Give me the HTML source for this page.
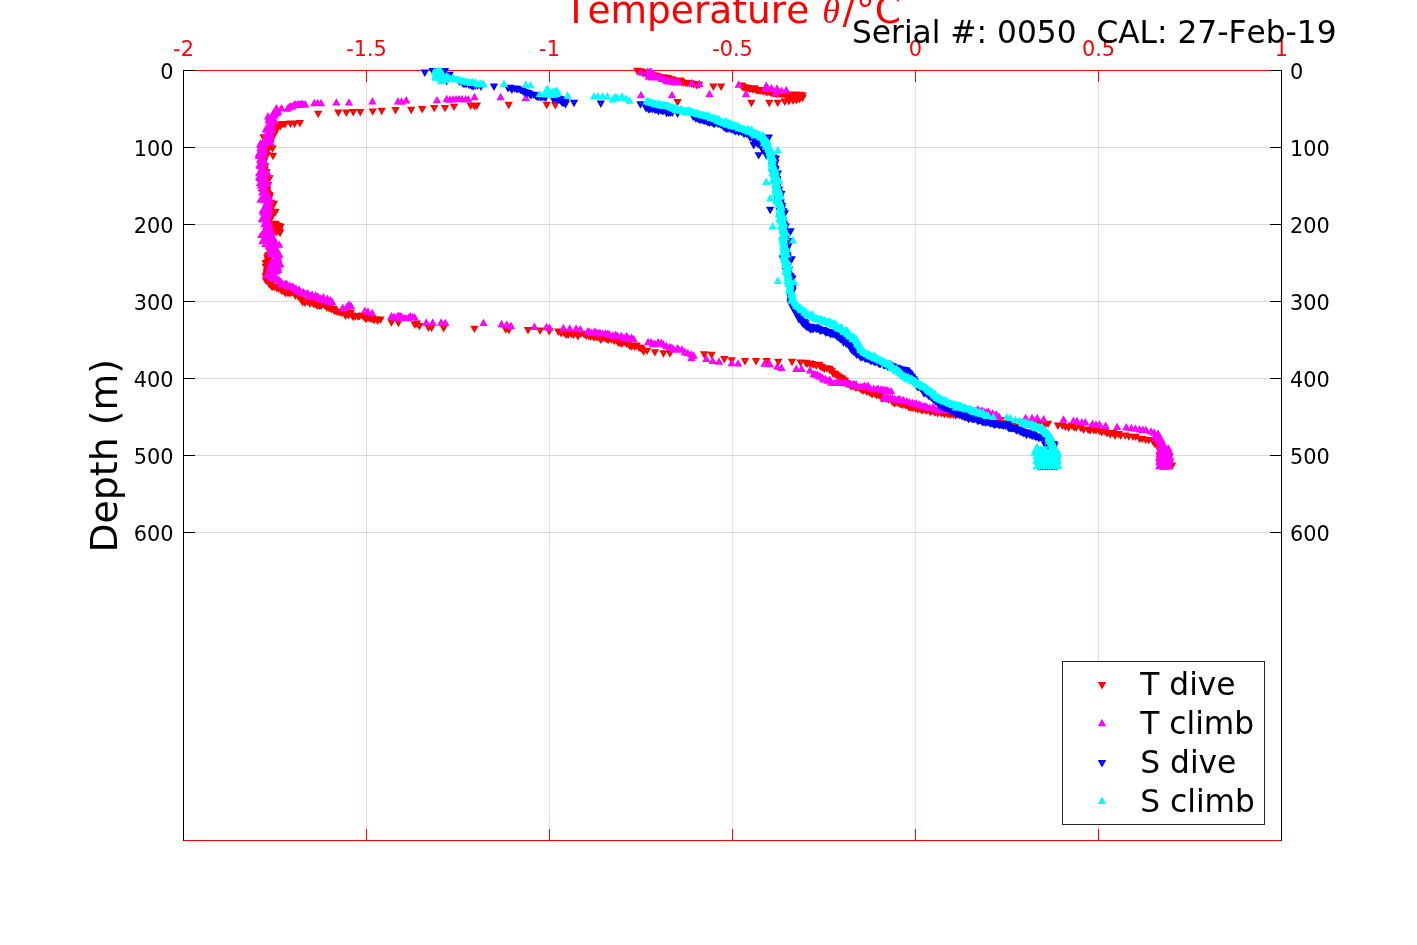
<!DOCTYPE html>
<html lang="en"><head><meta charset="utf-8"><title>Temperature profile</title>
<style>html,body{margin:0;padding:0;background:#fff}body{width:1417px;height:945px;overflow:hidden}svg{display:block}text{font-family:"DejaVu Sans","Liberation Sans",sans-serif;font-kerning:none;font-variant-ligatures:none}.m{stroke:none;fill-rule:nonzero}</style></head><body>
<svg width="1417" height="945" viewBox="0 0 1417 945">
<rect width="1417" height="945" fill="#fff"/>
<g stroke="#ff0000" stroke-opacity="0.15" stroke-width="1" shape-rendering="crispEdges">
<line x1="366.5" y1="70.5" x2="366.5" y2="840.5"/>
<line x1="549.5" y1="70.5" x2="549.5" y2="840.5"/>
<line x1="732.5" y1="70.5" x2="732.5" y2="840.5"/>
<line x1="915.5" y1="70.5" x2="915.5" y2="840.5"/>
<line x1="1098.5" y1="70.5" x2="1098.5" y2="840.5"/>
</g><g stroke="#000" stroke-opacity="0.15" stroke-width="1" shape-rendering="crispEdges">
<line x1="183.5" y1="147.5" x2="1281.5" y2="147.5"/>
<line x1="183.5" y1="224.5" x2="1281.5" y2="224.5"/>
<line x1="183.5" y1="301.5" x2="1281.5" y2="301.5"/>
<line x1="183.5" y1="378.5" x2="1281.5" y2="378.5"/>
<line x1="183.5" y1="455.5" x2="1281.5" y2="455.5"/>
<line x1="183.5" y1="532.5" x2="1281.5" y2="532.5"/>
</g>
<g stroke="#ff0000" stroke-width="1" shape-rendering="crispEdges">
<line x1="183" y1="70.5" x2="1282" y2="70.5"/><line x1="183" y1="840.5" x2="1282" y2="840.5"/>
<line x1="366.5" y1="70.5" x2="366.5" y2="82" />
<line x1="366.5" y1="840.5" x2="366.5" y2="829"/>
<line x1="549.5" y1="70.5" x2="549.5" y2="82" />
<line x1="549.5" y1="840.5" x2="549.5" y2="829"/>
<line x1="732.5" y1="70.5" x2="732.5" y2="82" />
<line x1="732.5" y1="840.5" x2="732.5" y2="829"/>
<line x1="915.5" y1="70.5" x2="915.5" y2="82" />
<line x1="915.5" y1="840.5" x2="915.5" y2="829"/>
<line x1="1098.5" y1="70.5" x2="1098.5" y2="82" />
<line x1="1098.5" y1="840.5" x2="1098.5" y2="829"/>
</g>
<g stroke="#000" stroke-width="1" shape-rendering="crispEdges">
<line x1="183.5" y1="70" x2="183.5" y2="841"/><line x1="1281.5" y1="70" x2="1281.5" y2="841"/>
<line x1="183.5" y1="70.5" x2="195" y2="70.5"/>
<line x1="1281.5" y1="70.5" x2="1270" y2="70.5"/>
<line x1="183.5" y1="147.5" x2="195" y2="147.5"/>
<line x1="1281.5" y1="147.5" x2="1270" y2="147.5"/>
<line x1="183.5" y1="224.5" x2="195" y2="224.5"/>
<line x1="1281.5" y1="224.5" x2="1270" y2="224.5"/>
<line x1="183.5" y1="301.5" x2="195" y2="301.5"/>
<line x1="1281.5" y1="301.5" x2="1270" y2="301.5"/>
<line x1="183.5" y1="378.5" x2="195" y2="378.5"/>
<line x1="1281.5" y1="378.5" x2="1270" y2="378.5"/>
<line x1="183.5" y1="455.5" x2="195" y2="455.5"/>
<line x1="1281.5" y1="455.5" x2="1270" y2="455.5"/>
<line x1="183.5" y1="532.5" x2="195" y2="532.5"/>
<line x1="1281.5" y1="532.5" x2="1270" y2="532.5"/>
</g>
<g font-size="20.83" fill="#ff0000" text-anchor="middle">
<text x="183.5" y="56.3">-2</text>
<text x="366.5" y="56.3">-1.5</text>
<text x="549.5" y="56.3">-1</text>
<text x="732.5" y="56.3">-0.5</text>
<text x="915.5" y="56.3">0</text>
<text x="1098.5" y="56.3">0.5</text>
<text x="1281.5" y="56.3">1</text>
</g>
<g font-size="20.83" fill="#000" text-anchor="end">
<text x="173.5" y="78.6">0</text>
<text x="173.5" y="155.6">100</text>
<text x="173.5" y="232.6">200</text>
<text x="173.5" y="309.6">300</text>
<text x="173.5" y="386.6">400</text>
<text x="173.5" y="463.6">500</text>
<text x="173.5" y="540.6">600</text>
</g>
<g font-size="20.83" fill="#000" text-anchor="start">
<text x="1290" y="78.6">0</text>
<text x="1290" y="155.6">100</text>
<text x="1290" y="232.6">200</text>
<text x="1290" y="309.6">300</text>
<text x="1290" y="386.6">400</text>
<text x="1290" y="463.6">500</text>
<text x="1290" y="540.6">600</text>
</g>
<text x="564.5" y="23" font-size="37.5" fill="#ff0000">Temperature <tspan font-family="'Liberation Serif','DejaVu Serif',serif" font-style="italic" font-size="36" dx="1.2">θ</tspan><tspan dx="2.4">/</tspan><tspan dx="0.9">°C</tspan></text>
<text transform="translate(117 552.5) rotate(-90)" font-size="37.8" fill="#000">Depth (m)</text>
<path class="m" fill="#ff0000" d="M637.3 75.2l4.15 -7.4h-8.3zM637.1 70.0h0.6v0.6h-0.6zM639.2 76.1l4.15 -7.4h-8.3zM638.9 70.8h0.6v0.6h-0.6zM640.5 75.7l4.15 -7.4h-8.3zM640.2 70.4h0.6v0.6h-0.6zM641.6 76.3l4.15 -7.4h-8.3zM641.3 71.1h0.6v0.6h-0.6zM643.1 77.4l4.15 -7.4h-8.3zM642.9 72.1h0.6v0.6h-0.6zM644.4 77.3l4.15 -7.4h-8.3zM644.1 72.1h0.6v0.6h-0.6zM645.8 76.6l4.15 -7.4h-8.3zM645.5 71.4h0.6v0.6h-0.6zM646.7 78.2l4.15 -7.4h-8.3zM646.4 73.0h0.6v0.6h-0.6zM648.4 77.3l4.15 -7.4h-8.3zM648.1 72.1h0.6v0.6h-0.6zM650.2 77.8l4.15 -7.4h-8.3zM650.0 72.6h0.6v0.6h-0.6zM651.6 79.2l4.15 -7.4h-8.3zM651.3 74.0h0.6v0.6h-0.6zM653.9 79.6l4.15 -7.4h-8.3zM653.6 74.4h0.6v0.6h-0.6zM655.3 80.1l4.15 -7.4h-8.3zM655.0 74.9h0.6v0.6h-0.6zM656.7 80.6l4.15 -7.4h-8.3zM656.5 75.3h0.6v0.6h-0.6zM658.9 81.2l4.15 -7.4h-8.3zM658.6 76.0h0.6v0.6h-0.6zM660.8 82.0l4.15 -7.4h-8.3zM660.5 76.8h0.6v0.6h-0.6zM662.5 81.6l4.15 -7.4h-8.3zM662.2 76.4h0.6v0.6h-0.6zM663.6 82.0l4.15 -7.4h-8.3zM663.4 76.8h0.6v0.6h-0.6zM665.0 82.1l4.15 -7.4h-8.3zM664.7 76.9h0.6v0.6h-0.6zM666.6 82.2l4.15 -7.4h-8.3zM666.3 77.0h0.6v0.6h-0.6zM668.4 82.7l4.15 -7.4h-8.3zM668.1 77.5h0.6v0.6h-0.6zM670.5 83.7l4.15 -7.4h-8.3zM670.2 78.5h0.6v0.6h-0.6zM672.5 84.0l4.15 -7.4h-8.3zM672.3 78.8h0.6v0.6h-0.6zM674.2 85.1l4.15 -7.4h-8.3zM673.9 79.9h0.6v0.6h-0.6zM676.6 84.9l4.15 -7.4h-8.3zM676.4 79.7h0.6v0.6h-0.6zM679.1 85.1l4.15 -7.4h-8.3zM678.9 79.9h0.6v0.6h-0.6zM680.4 85.0l4.15 -7.4h-8.3zM680.2 79.8h0.6v0.6h-0.6zM681.4 86.5l4.15 -7.4h-8.3zM681.2 81.2h0.6v0.6h-0.6zM683.1 87.1l4.15 -7.4h-8.3zM682.8 81.9h0.6v0.6h-0.6zM685.4 87.1l4.15 -7.4h-8.3zM685.1 81.9h0.6v0.6h-0.6zM687.2 87.6l4.15 -7.4h-8.3zM686.9 82.4h0.6v0.6h-0.6zM689.4 87.5l4.15 -7.4h-8.3zM689.1 82.3h0.6v0.6h-0.6zM691.3 87.8l4.15 -7.4h-8.3zM691.0 82.6h0.6v0.6h-0.6zM693.5 88.5l4.15 -7.4h-8.3zM693.2 83.3h0.6v0.6h-0.6zM695.9 88.6l4.15 -7.4h-8.3zM695.7 83.4h0.6v0.6h-0.6zM696.9 89.7l4.15 -7.4h-8.3zM696.6 84.4h0.6v0.6h-0.6zM699.2 89.1l4.15 -7.4h-8.3zM698.9 83.9h0.6v0.6h-0.6zM713.4 90.9l4.15 -7.4h-8.3zM713.1 85.7h0.6v0.6h-0.6zM721.1 90.9l4.15 -7.4h-8.3zM720.8 85.7h0.6v0.6h-0.6zM677.6 106.4l4.15 -7.4h-8.3zM677.3 101.2h0.6v0.6h-0.6zM741.5 90.0l4.15 -7.4h-8.3zM741.2 84.8h0.6v0.6h-0.6zM742.4 90.7l4.15 -7.4h-8.3zM742.2 85.5h0.6v0.6h-0.6zM743.1 91.6l4.15 -7.4h-8.3zM742.8 86.4h0.6v0.6h-0.6zM744.4 91.6l4.15 -7.4h-8.3zM744.1 86.4h0.6v0.6h-0.6zM745.2 91.8l4.15 -7.4h-8.3zM744.9 86.6h0.6v0.6h-0.6zM746.7 92.1l4.15 -7.4h-8.3zM746.4 86.9h0.6v0.6h-0.6zM747.9 92.4l4.15 -7.4h-8.3zM747.6 87.2h0.6v0.6h-0.6zM749.5 92.9l4.15 -7.4h-8.3zM749.2 87.6h0.6v0.6h-0.6zM750.9 93.0l4.15 -7.4h-8.3zM750.6 87.8h0.6v0.6h-0.6zM752.5 93.4l4.15 -7.4h-8.3zM752.2 88.2h0.6v0.6h-0.6zM753.7 92.7l4.15 -7.4h-8.3zM753.5 87.5h0.6v0.6h-0.6zM754.9 93.2l4.15 -7.4h-8.3zM754.6 88.0h0.6v0.6h-0.6zM756.4 94.5l4.15 -7.4h-8.3zM756.1 89.3h0.6v0.6h-0.6zM757.4 94.3l4.15 -7.4h-8.3zM757.1 89.1h0.6v0.6h-0.6zM758.4 94.6l4.15 -7.4h-8.3zM758.1 89.4h0.6v0.6h-0.6zM759.7 94.4l4.15 -7.4h-8.3zM759.5 89.2h0.6v0.6h-0.6zM760.5 94.7l4.15 -7.4h-8.3zM760.2 89.5h0.6v0.6h-0.6zM761.7 94.8l4.15 -7.4h-8.3zM761.4 89.6h0.6v0.6h-0.6zM763.3 95.8l4.15 -7.4h-8.3zM763.0 90.6h0.6v0.6h-0.6zM764.9 95.3l4.15 -7.4h-8.3zM764.7 90.1h0.6v0.6h-0.6zM766.3 95.9l4.15 -7.4h-8.3zM766.1 90.7h0.6v0.6h-0.6zM767.1 96.6l4.15 -7.4h-8.3zM766.8 91.4h0.6v0.6h-0.6zM768.9 96.1l4.15 -7.4h-8.3zM768.6 90.9h0.6v0.6h-0.6zM770.4 96.4l4.15 -7.4h-8.3zM770.2 91.2h0.6v0.6h-0.6zM771.2 97.1l4.15 -7.4h-8.3zM771.0 91.9h0.6v0.6h-0.6zM772.7 97.2l4.15 -7.4h-8.3zM772.4 92.0h0.6v0.6h-0.6zM773.7 97.3l4.15 -7.4h-8.3zM773.4 92.1h0.6v0.6h-0.6zM774.6 97.4l4.15 -7.4h-8.3zM774.3 92.2h0.6v0.6h-0.6zM775.4 97.6l4.15 -7.4h-8.3zM775.1 92.4h0.6v0.6h-0.6zM776.3 97.9l4.15 -7.4h-8.3zM776.0 92.7h0.6v0.6h-0.6zM777.1 97.9l4.15 -7.4h-8.3zM776.8 92.7h0.6v0.6h-0.6zM778.8 97.8l4.15 -7.4h-8.3zM778.5 92.6h0.6v0.6h-0.6zM779.8 97.9l4.15 -7.4h-8.3zM779.6 92.7h0.6v0.6h-0.6zM781.0 98.1l4.15 -7.4h-8.3zM780.7 92.9h0.6v0.6h-0.6zM782.6 98.5l4.15 -7.4h-8.3zM782.3 93.3h0.6v0.6h-0.6zM784.5 98.2l4.15 -7.4h-8.3zM784.2 93.0h0.6v0.6h-0.6zM785.3 98.7l4.15 -7.4h-8.3zM785.0 93.5h0.6v0.6h-0.6zM786.2 98.5l4.15 -7.4h-8.3zM785.9 93.3h0.6v0.6h-0.6zM787.8 99.0l4.15 -7.4h-8.3zM787.5 93.8h0.6v0.6h-0.6zM788.7 99.7l4.15 -7.4h-8.3zM788.4 94.5h0.6v0.6h-0.6zM790.1 99.0l4.15 -7.4h-8.3zM789.8 93.8h0.6v0.6h-0.6zM791.0 98.9l4.15 -7.4h-8.3zM790.7 93.7h0.6v0.6h-0.6zM792.3 99.0l4.15 -7.4h-8.3zM792.1 93.8h0.6v0.6h-0.6zM794.1 99.5l4.15 -7.4h-8.3zM793.8 94.3h0.6v0.6h-0.6zM795.2 98.8l4.15 -7.4h-8.3zM794.9 93.6h0.6v0.6h-0.6zM796.3 99.5l4.15 -7.4h-8.3zM796.1 94.3h0.6v0.6h-0.6zM797.7 99.8l4.15 -7.4h-8.3zM797.4 94.6h0.6v0.6h-0.6zM799.3 99.2l4.15 -7.4h-8.3zM799.0 94.0h0.6v0.6h-0.6zM800.9 99.6l4.15 -7.4h-8.3zM800.6 94.3h0.6v0.6h-0.6zM802.7 99.8l4.15 -7.4h-8.3zM802.4 94.6h0.6v0.6h-0.6zM751.4 107.2l4.15 -7.4h-8.3zM751.1 102.0h0.6v0.6h-0.6zM769.3 107.2l4.15 -7.4h-8.3zM769.0 102.0h0.6v0.6h-0.6zM777.7 107.1l4.15 -7.4h-8.3zM777.4 101.9h0.6v0.6h-0.6zM784.7 106.0l4.15 -7.4h-8.3zM784.4 100.8h0.6v0.6h-0.6zM788.9 105.6l4.15 -7.4h-8.3zM788.6 100.4h0.6v0.6h-0.6zM793.2 105.0l4.15 -7.4h-8.3zM792.9 99.8h0.6v0.6h-0.6zM796.3 104.4l4.15 -7.4h-8.3zM796.0 99.2h0.6v0.6h-0.6zM799.5 103.5l4.15 -7.4h-8.3zM799.2 98.3h0.6v0.6h-0.6zM802.5 102.3l4.15 -7.4h-8.3zM802.2 97.1h0.6v0.6h-0.6zM555.3 109.5l4.15 -7.4h-8.3zM555.0 104.3h0.6v0.6h-0.6zM546.7 109.2l4.15 -7.4h-8.3zM546.4 104.0h0.6v0.6h-0.6zM508.7 109.2l4.15 -7.4h-8.3zM508.4 104.0h0.6v0.6h-0.6zM476.9 110.0l4.15 -7.4h-8.3zM476.6 104.8h0.6v0.6h-0.6zM474.5 110.6l4.15 -7.4h-8.3zM474.2 105.4h0.6v0.6h-0.6zM470.6 110.0l4.15 -7.4h-8.3zM470.3 104.8h0.6v0.6h-0.6zM454.0 111.1l4.15 -7.4h-8.3zM453.7 105.9h0.6v0.6h-0.6zM445.0 112.3l4.15 -7.4h-8.3zM444.7 107.1h0.6v0.6h-0.6zM434.2 112.3l4.15 -7.4h-8.3zM433.9 107.1h0.6v0.6h-0.6zM422.2 113.4l4.15 -7.4h-8.3zM421.9 108.2h0.6v0.6h-0.6zM411.2 114.2l4.15 -7.4h-8.3zM410.9 109.0h0.6v0.6h-0.6zM395.5 114.4l4.15 -7.4h-8.3zM395.2 109.2h0.6v0.6h-0.6zM381.7 115.2l4.15 -7.4h-8.3zM381.4 110.0h0.6v0.6h-0.6zM372.7 115.8l4.15 -7.4h-8.3zM372.4 110.6h0.6v0.6h-0.6zM360.3 116.4l4.15 -7.4h-8.3zM360.0 111.2h0.6v0.6h-0.6zM353.2 116.4l4.15 -7.4h-8.3zM352.9 111.2h0.6v0.6h-0.6zM346.4 116.9l4.15 -7.4h-8.3zM346.1 111.7h0.6v0.6h-0.6zM338.3 116.9l4.15 -7.4h-8.3zM338.0 111.7h0.6v0.6h-0.6zM318.2 118.1l4.15 -7.4h-8.3zM317.9 112.9h0.6v0.6h-0.6zM299.9 127.3l4.15 -7.4h-8.3zM299.6 122.1h0.6v0.6h-0.6zM294.6 127.9l4.15 -7.4h-8.3zM294.3 122.7h0.6v0.6h-0.6zM290.4 127.9l4.15 -7.4h-8.3zM290.1 122.7h0.6v0.6h-0.6zM285.1 128.5l4.15 -7.4h-8.3zM284.8 123.3h0.6v0.6h-0.6zM282.8 128.3l4.15 -7.4h-8.3zM282.5 123.1h0.6v0.6h-0.6zM280.8 129.0l4.15 -7.4h-8.3zM280.5 123.8h0.6v0.6h-0.6zM280.3 130.4l4.15 -7.4h-8.3zM280.0 125.2h0.6v0.6h-0.6zM277.9 131.3l4.15 -7.4h-8.3zM277.7 126.1h0.6v0.6h-0.6zM276.4 132.0l4.15 -7.4h-8.3zM276.1 126.8h0.6v0.6h-0.6zM276.2 133.1l4.15 -7.4h-8.3zM275.9 127.9h0.6v0.6h-0.6zM276.2 134.5l4.15 -7.4h-8.3zM275.9 129.3h0.6v0.6h-0.6zM274.5 135.7l4.15 -7.4h-8.3zM274.2 130.5h0.6v0.6h-0.6zM274.6 138.3l4.15 -7.4h-8.3zM274.3 133.1h0.6v0.6h-0.6zM272.5 139.7l4.15 -7.4h-8.3zM272.2 134.5h0.6v0.6h-0.6zM273.0 141.3l4.15 -7.4h-8.3zM272.7 136.1h0.6v0.6h-0.6zM272.0 142.2l4.15 -7.4h-8.3zM271.7 137.0h0.6v0.6h-0.6zM270.8 143.6l4.15 -7.4h-8.3zM270.6 138.4h0.6v0.6h-0.6zM269.9 145.5l4.15 -7.4h-8.3zM269.6 140.3h0.6v0.6h-0.6zM270.5 147.8l4.15 -7.4h-8.3zM270.2 142.6h0.6v0.6h-0.6zM267.6 148.6l4.15 -7.4h-8.3zM267.4 143.4h0.6v0.6h-0.6zM267.3 150.8l4.15 -7.4h-8.3zM267.0 145.6h0.6v0.6h-0.6zM267.2 152.9l4.15 -7.4h-8.3zM267.0 147.7h0.6v0.6h-0.6zM267.9 154.5l4.15 -7.4h-8.3zM267.6 149.3h0.6v0.6h-0.6zM266.9 156.2l4.15 -7.4h-8.3zM266.6 151.0h0.6v0.6h-0.6zM263.8 157.4l4.15 -7.4h-8.3zM263.6 152.2h0.6v0.6h-0.6zM266.9 159.4l4.15 -7.4h-8.3zM266.7 154.2h0.6v0.6h-0.6zM263.5 161.2l4.15 -7.4h-8.3zM263.2 156.0h0.6v0.6h-0.6zM264.5 162.4l4.15 -7.4h-8.3zM264.2 157.2h0.6v0.6h-0.6zM264.4 164.5l4.15 -7.4h-8.3zM264.1 159.3h0.6v0.6h-0.6zM263.6 166.5l4.15 -7.4h-8.3zM263.3 161.3h0.6v0.6h-0.6zM263.2 168.7l4.15 -7.4h-8.3zM262.9 163.5h0.6v0.6h-0.6zM265.3 170.6l4.15 -7.4h-8.3zM265.1 165.4h0.6v0.6h-0.6zM263.5 171.6l4.15 -7.4h-8.3zM263.3 166.4h0.6v0.6h-0.6zM263.1 172.6l4.15 -7.4h-8.3zM262.8 167.4h0.6v0.6h-0.6zM264.8 174.2l4.15 -7.4h-8.3zM264.5 169.0h0.6v0.6h-0.6zM266.6 176.3l4.15 -7.4h-8.3zM266.3 171.1h0.6v0.6h-0.6zM264.1 178.5l4.15 -7.4h-8.3zM263.8 173.3h0.6v0.6h-0.6zM265.0 179.7l4.15 -7.4h-8.3zM264.7 174.4h0.6v0.6h-0.6zM264.3 181.0l4.15 -7.4h-8.3zM264.0 175.8h0.6v0.6h-0.6zM265.3 182.6l4.15 -7.4h-8.3zM265.0 177.4h0.6v0.6h-0.6zM264.3 183.8l4.15 -7.4h-8.3zM264.0 178.6h0.6v0.6h-0.6zM266.2 185.7l4.15 -7.4h-8.3zM265.9 180.5h0.6v0.6h-0.6zM265.0 187.7l4.15 -7.4h-8.3zM264.7 182.5h0.6v0.6h-0.6zM268.1 189.3l4.15 -7.4h-8.3zM267.9 184.1h0.6v0.6h-0.6zM265.4 191.4l4.15 -7.4h-8.3zM265.2 186.2h0.6v0.6h-0.6zM267.0 192.8l4.15 -7.4h-8.3zM266.7 187.6h0.6v0.6h-0.6zM267.1 194.3l4.15 -7.4h-8.3zM266.8 189.1h0.6v0.6h-0.6zM265.5 195.8l4.15 -7.4h-8.3zM265.2 190.6h0.6v0.6h-0.6zM267.4 196.7l4.15 -7.4h-8.3zM267.2 191.5h0.6v0.6h-0.6zM268.0 198.2l4.15 -7.4h-8.3zM267.7 192.9h0.6v0.6h-0.6zM269.3 199.3l4.15 -7.4h-8.3zM269.0 194.1h0.6v0.6h-0.6zM269.9 200.9l4.15 -7.4h-8.3zM269.7 195.6h0.6v0.6h-0.6zM269.1 202.1l4.15 -7.4h-8.3zM268.8 196.9h0.6v0.6h-0.6zM268.8 203.9l4.15 -7.4h-8.3zM268.5 198.7h0.6v0.6h-0.6zM268.4 205.9l4.15 -7.4h-8.3zM268.1 200.7h0.6v0.6h-0.6zM271.0 207.1l4.15 -7.4h-8.3zM270.7 201.9h0.6v0.6h-0.6zM270.1 209.5l4.15 -7.4h-8.3zM269.9 204.3h0.6v0.6h-0.6zM270.4 211.0l4.15 -7.4h-8.3zM270.1 205.8h0.6v0.6h-0.6zM270.3 212.6l4.15 -7.4h-8.3zM270.0 207.4h0.6v0.6h-0.6zM270.7 214.5l4.15 -7.4h-8.3zM270.4 209.3h0.6v0.6h-0.6zM269.1 216.1l4.15 -7.4h-8.3zM268.9 210.8h0.6v0.6h-0.6zM270.1 218.2l4.15 -7.4h-8.3zM269.9 213.0h0.6v0.6h-0.6zM271.4 220.6l4.15 -7.4h-8.3zM271.1 215.4h0.6v0.6h-0.6zM271.5 221.9l4.15 -7.4h-8.3zM271.2 216.7h0.6v0.6h-0.6zM269.9 223.8l4.15 -7.4h-8.3zM269.7 218.6h0.6v0.6h-0.6zM268.2 224.7l4.15 -7.4h-8.3zM267.9 219.5h0.6v0.6h-0.6zM268.1 225.8l4.15 -7.4h-8.3zM267.8 220.6h0.6v0.6h-0.6zM267.3 227.0l4.15 -7.4h-8.3zM267.1 221.8h0.6v0.6h-0.6zM267.9 229.2l4.15 -7.4h-8.3zM267.6 224.0h0.6v0.6h-0.6zM268.1 231.3l4.15 -7.4h-8.3zM267.8 226.1h0.6v0.6h-0.6zM268.0 233.2l4.15 -7.4h-8.3zM267.8 228.0h0.6v0.6h-0.6zM267.6 234.4l4.15 -7.4h-8.3zM267.3 229.2h0.6v0.6h-0.6zM271.5 234.9l4.15 -7.4h-8.3zM271.2 229.7h0.6v0.6h-0.6zM271.1 237.2l4.15 -7.4h-8.3zM270.8 232.0h0.6v0.6h-0.6zM269.9 239.7l4.15 -7.4h-8.3zM269.6 234.5h0.6v0.6h-0.6zM270.4 241.7l4.15 -7.4h-8.3zM270.1 236.5h0.6v0.6h-0.6zM270.3 243.3l4.15 -7.4h-8.3zM270.0 238.1h0.6v0.6h-0.6zM271.1 244.6l4.15 -7.4h-8.3zM270.8 239.4h0.6v0.6h-0.6zM270.8 246.5l4.15 -7.4h-8.3zM270.5 241.3h0.6v0.6h-0.6zM272.7 247.3l4.15 -7.4h-8.3zM272.4 242.1h0.6v0.6h-0.6zM272.2 248.3l4.15 -7.4h-8.3zM271.9 243.1h0.6v0.6h-0.6zM272.8 249.9l4.15 -7.4h-8.3zM272.5 244.7h0.6v0.6h-0.6zM272.6 251.0l4.15 -7.4h-8.3zM272.3 245.8h0.6v0.6h-0.6zM270.7 252.8l4.15 -7.4h-8.3zM270.4 247.6h0.6v0.6h-0.6zM273.6 254.6l4.15 -7.4h-8.3zM273.3 249.4h0.6v0.6h-0.6zM269.1 254.9l4.15 -7.4h-8.3zM268.8 249.7h0.6v0.6h-0.6zM270.1 256.5l4.15 -7.4h-8.3zM269.8 251.3h0.6v0.6h-0.6zM272.1 258.1l4.15 -7.4h-8.3zM271.9 252.9h0.6v0.6h-0.6zM268.7 259.3l4.15 -7.4h-8.3zM268.5 254.1h0.6v0.6h-0.6zM268.1 260.5l4.15 -7.4h-8.3zM267.8 255.3h0.6v0.6h-0.6zM267.2 262.0l4.15 -7.4h-8.3zM266.9 256.8h0.6v0.6h-0.6zM268.1 264.2l4.15 -7.4h-8.3zM267.9 259.0h0.6v0.6h-0.6zM267.8 266.0l4.15 -7.4h-8.3zM267.5 260.8h0.6v0.6h-0.6zM265.7 267.3l4.15 -7.4h-8.3zM265.4 262.1h0.6v0.6h-0.6zM266.6 269.2l4.15 -7.4h-8.3zM266.3 264.0h0.6v0.6h-0.6zM265.7 271.1l4.15 -7.4h-8.3zM265.4 265.9h0.6v0.6h-0.6zM266.3 272.2l4.15 -7.4h-8.3zM266.0 267.0h0.6v0.6h-0.6zM267.9 274.5l4.15 -7.4h-8.3zM267.6 269.2h0.6v0.6h-0.6zM266.6 276.0l4.15 -7.4h-8.3zM266.4 270.8h0.6v0.6h-0.6zM266.8 278.2l4.15 -7.4h-8.3zM266.5 273.0h0.6v0.6h-0.6zM266.1 279.8l4.15 -7.4h-8.3zM265.8 274.5h0.6v0.6h-0.6zM266.1 281.0l4.15 -7.4h-8.3zM265.8 275.8h0.6v0.6h-0.6zM266.1 282.0l4.15 -7.4h-8.3zM265.8 276.8h0.6v0.6h-0.6zM266.7 283.3l4.15 -7.4h-8.3zM266.4 278.1h0.6v0.6h-0.6zM263.5 141.7l4.15 -7.4h-8.3zM263.2 136.5h0.6v0.6h-0.6zM272.5 152.7l4.15 -7.4h-8.3zM272.2 147.5h0.6v0.6h-0.6zM273.0 160.2l4.15 -7.4h-8.3zM272.7 155.0h0.6v0.6h-0.6zM269.5 182.7l4.15 -7.4h-8.3zM269.2 177.5h0.6v0.6h-0.6zM274.0 208.2l4.15 -7.4h-8.3zM273.7 203.0h0.6v0.6h-0.6zM275.5 216.2l4.15 -7.4h-8.3zM275.2 211.0h0.6v0.6h-0.6zM274.8 232.7l4.15 -7.4h-8.3zM274.5 227.5h0.6v0.6h-0.6zM273.9 231.3l4.15 -7.4h-8.3zM273.6 226.1h0.6v0.6h-0.6zM272.6 230.5l4.15 -7.4h-8.3zM272.4 225.2h0.6v0.6h-0.6zM272.6 234.8l4.15 -7.4h-8.3zM272.3 229.6h0.6v0.6h-0.6zM276.9 229.9l4.15 -7.4h-8.3zM276.6 224.7h0.6v0.6h-0.6zM276.3 236.6l4.15 -7.4h-8.3zM276.0 231.4h0.6v0.6h-0.6zM273.4 235.6l4.15 -7.4h-8.3zM273.1 230.4h0.6v0.6h-0.6zM276.0 232.7l4.15 -7.4h-8.3zM275.7 227.4h0.6v0.6h-0.6zM279.2 231.7l4.15 -7.4h-8.3zM278.9 226.5h0.6v0.6h-0.6zM276.6 234.4l4.15 -7.4h-8.3zM276.3 229.2h0.6v0.6h-0.6zM280.4 231.3l4.15 -7.4h-8.3zM280.1 226.1h0.6v0.6h-0.6zM279.2 234.6l4.15 -7.4h-8.3zM278.9 229.4h0.6v0.6h-0.6zM277.6 231.8l4.15 -7.4h-8.3zM277.3 226.6h0.6v0.6h-0.6zM275.3 228.7l4.15 -7.4h-8.3zM275.0 223.5h0.6v0.6h-0.6zM273.5 228.8l4.15 -7.4h-8.3zM273.3 223.6h0.6v0.6h-0.6zM278.4 230.5l4.15 -7.4h-8.3zM278.2 225.3h0.6v0.6h-0.6zM273.8 229.0l4.15 -7.4h-8.3zM273.5 223.8h0.6v0.6h-0.6zM279.2 236.0l4.15 -7.4h-8.3zM279.0 230.8h0.6v0.6h-0.6zM277.9 230.7l4.15 -7.4h-8.3zM277.6 225.5h0.6v0.6h-0.6zM274.4 230.8l4.15 -7.4h-8.3zM274.2 225.6h0.6v0.6h-0.6zM276.2 229.6l4.15 -7.4h-8.3zM275.9 224.4h0.6v0.6h-0.6zM276.1 230.6l4.15 -7.4h-8.3zM275.8 225.4h0.6v0.6h-0.6zM280.2 237.0l4.15 -7.4h-8.3zM279.9 231.7h0.6v0.6h-0.6zM276.9 230.4l4.15 -7.4h-8.3zM276.6 225.2h0.6v0.6h-0.6zM280.2 231.0l4.15 -7.4h-8.3zM280.0 225.8h0.6v0.6h-0.6zM275.4 228.2l4.15 -7.4h-8.3zM275.1 223.0h0.6v0.6h-0.6zM265.8 284.8l4.15 -7.4h-8.3zM265.5 279.6h0.6v0.6h-0.6zM268.1 285.1l4.15 -7.4h-8.3zM267.9 279.9h0.6v0.6h-0.6zM268.3 286.9l4.15 -7.4h-8.3zM268.0 281.7h0.6v0.6h-0.6zM269.2 288.6l4.15 -7.4h-8.3zM268.9 283.4h0.6v0.6h-0.6zM270.5 289.2l4.15 -7.4h-8.3zM270.2 284.0h0.6v0.6h-0.6zM271.5 290.6l4.15 -7.4h-8.3zM271.2 285.4h0.6v0.6h-0.6zM273.0 291.2l4.15 -7.4h-8.3zM272.7 286.0h0.6v0.6h-0.6zM274.7 291.0l4.15 -7.4h-8.3zM274.5 285.8h0.6v0.6h-0.6zM276.7 292.2l4.15 -7.4h-8.3zM276.4 287.0h0.6v0.6h-0.6zM278.6 293.1l4.15 -7.4h-8.3zM278.4 287.9h0.6v0.6h-0.6zM280.7 292.6l4.15 -7.4h-8.3zM280.4 287.4h0.6v0.6h-0.6zM281.5 295.1l4.15 -7.4h-8.3zM281.2 289.9h0.6v0.6h-0.6zM283.7 295.4l4.15 -7.4h-8.3zM283.5 290.2h0.6v0.6h-0.6zM285.3 297.6l4.15 -7.4h-8.3zM285.0 292.3h0.6v0.6h-0.6zM288.0 297.4l4.15 -7.4h-8.3zM287.7 292.2h0.6v0.6h-0.6zM290.1 297.5l4.15 -7.4h-8.3zM289.9 292.3h0.6v0.6h-0.6zM291.8 296.7l4.15 -7.4h-8.3zM291.6 291.5h0.6v0.6h-0.6zM294.0 297.5l4.15 -7.4h-8.3zM293.7 292.3h0.6v0.6h-0.6zM295.2 300.0l4.15 -7.4h-8.3zM294.9 294.8h0.6v0.6h-0.6zM297.9 300.2l4.15 -7.4h-8.3zM297.7 295.0h0.6v0.6h-0.6zM299.4 301.9l4.15 -7.4h-8.3zM299.1 296.7h0.6v0.6h-0.6zM300.8 303.8l4.15 -7.4h-8.3zM300.5 298.6h0.6v0.6h-0.6zM301.8 304.7l4.15 -7.4h-8.3zM301.5 299.5h0.6v0.6h-0.6zM302.6 306.5l4.15 -7.4h-8.3zM302.4 301.3h0.6v0.6h-0.6zM304.9 307.0l4.15 -7.4h-8.3zM304.7 301.8h0.6v0.6h-0.6zM307.4 305.8l4.15 -7.4h-8.3zM307.2 300.6h0.6v0.6h-0.6zM309.3 306.3l4.15 -7.4h-8.3zM309.0 301.1h0.6v0.6h-0.6zM310.0 307.9l4.15 -7.4h-8.3zM309.7 302.6h0.6v0.6h-0.6zM312.3 306.8l4.15 -7.4h-8.3zM312.0 301.6h0.6v0.6h-0.6zM313.9 308.4l4.15 -7.4h-8.3zM313.6 303.2h0.6v0.6h-0.6zM316.1 308.9l4.15 -7.4h-8.3zM315.8 303.7h0.6v0.6h-0.6zM317.4 310.0l4.15 -7.4h-8.3zM317.1 304.8h0.6v0.6h-0.6zM319.6 310.2l4.15 -7.4h-8.3zM319.4 305.0h0.6v0.6h-0.6zM321.2 310.0l4.15 -7.4h-8.3zM320.9 304.8h0.6v0.6h-0.6zM323.4 308.4l4.15 -7.4h-8.3zM323.1 303.2h0.6v0.6h-0.6zM324.9 309.7l4.15 -7.4h-8.3zM324.6 304.5h0.6v0.6h-0.6zM326.8 311.8l4.15 -7.4h-8.3zM326.5 306.6h0.6v0.6h-0.6zM328.9 312.2l4.15 -7.4h-8.3zM328.6 307.0h0.6v0.6h-0.6zM330.2 312.6l4.15 -7.4h-8.3zM329.9 307.4h0.6v0.6h-0.6zM331.5 313.4l4.15 -7.4h-8.3zM331.2 308.1h0.6v0.6h-0.6zM333.7 313.5l4.15 -7.4h-8.3zM333.4 308.3h0.6v0.6h-0.6zM334.1 315.1l4.15 -7.4h-8.3zM333.9 309.9h0.6v0.6h-0.6zM336.2 315.8l4.15 -7.4h-8.3zM336.0 310.6h0.6v0.6h-0.6zM338.4 316.3l4.15 -7.4h-8.3zM338.2 311.1h0.6v0.6h-0.6zM340.2 316.7l4.15 -7.4h-8.3zM339.9 311.5h0.6v0.6h-0.6zM341.9 317.2l4.15 -7.4h-8.3zM341.7 312.0h0.6v0.6h-0.6zM344.3 318.1l4.15 -7.4h-8.3zM344.1 312.9h0.6v0.6h-0.6zM345.5 320.1l4.15 -7.4h-8.3zM345.2 314.9h0.6v0.6h-0.6zM347.0 318.2l4.15 -7.4h-8.3zM346.7 313.0h0.6v0.6h-0.6zM348.6 319.6l4.15 -7.4h-8.3zM348.3 314.4h0.6v0.6h-0.6zM350.8 317.1l4.15 -7.4h-8.3zM350.6 311.9h0.6v0.6h-0.6zM352.0 319.8l4.15 -7.4h-8.3zM351.7 314.5h0.6v0.6h-0.6zM353.3 321.3l4.15 -7.4h-8.3zM353.0 316.1h0.6v0.6h-0.6zM355.4 320.3l4.15 -7.4h-8.3zM355.2 315.1h0.6v0.6h-0.6zM358.0 320.8l4.15 -7.4h-8.3zM357.7 315.6h0.6v0.6h-0.6zM359.4 320.6l4.15 -7.4h-8.3zM359.1 315.4h0.6v0.6h-0.6zM362.0 319.8l4.15 -7.4h-8.3zM361.8 314.6h0.6v0.6h-0.6zM364.0 321.3l4.15 -7.4h-8.3zM363.7 316.0h0.6v0.6h-0.6zM365.5 323.1l4.15 -7.4h-8.3zM365.3 317.9h0.6v0.6h-0.6zM366.9 322.6l4.15 -7.4h-8.3zM366.6 317.4h0.6v0.6h-0.6zM368.8 322.0l4.15 -7.4h-8.3zM368.5 316.8h0.6v0.6h-0.6zM370.3 322.8l4.15 -7.4h-8.3zM370.0 317.6h0.6v0.6h-0.6zM371.9 323.2l4.15 -7.4h-8.3zM371.6 318.0h0.6v0.6h-0.6zM374.1 324.4l4.15 -7.4h-8.3zM373.8 319.2h0.6v0.6h-0.6zM376.7 323.6l4.15 -7.4h-8.3zM376.4 318.4h0.6v0.6h-0.6zM377.8 324.9l4.15 -7.4h-8.3zM377.5 319.7h0.6v0.6h-0.6zM380.6 323.8l4.15 -7.4h-8.3zM380.3 318.6h0.6v0.6h-0.6zM391.4 326.7l4.15 -7.4h-8.3zM391.1 321.5h0.6v0.6h-0.6zM398.4 327.2l4.15 -7.4h-8.3zM398.1 322.0h0.6v0.6h-0.6zM414.7 328.9l4.15 -7.4h-8.3zM414.4 323.7h0.6v0.6h-0.6zM417.0 327.9l4.15 -7.4h-8.3zM416.7 322.7h0.6v0.6h-0.6zM419.5 330.3l4.15 -7.4h-8.3zM419.2 325.1h0.6v0.6h-0.6zM428.4 332.0l4.15 -7.4h-8.3zM428.1 326.8h0.6v0.6h-0.6zM431.6 332.0l4.15 -7.4h-8.3zM431.3 326.8h0.6v0.6h-0.6zM443.7 332.5l4.15 -7.4h-8.3zM443.4 327.3h0.6v0.6h-0.6zM474.4 333.1l4.15 -7.4h-8.3zM474.1 327.9h0.6v0.6h-0.6zM505.7 333.7l4.15 -7.4h-8.3zM505.4 328.5h0.6v0.6h-0.6zM508.9 334.2l4.15 -7.4h-8.3zM508.6 329.0h0.6v0.6h-0.6zM528.0 334.4l4.15 -7.4h-8.3zM527.7 329.2h0.6v0.6h-0.6zM540.1 335.0l4.15 -7.4h-8.3zM539.8 329.8h0.6v0.6h-0.6zM549.2 335.5l4.15 -7.4h-8.3zM548.9 330.3h0.6v0.6h-0.6zM558.2 335.9l4.15 -7.4h-8.3zM557.9 330.7h0.6v0.6h-0.6zM561.1 337.5l4.15 -7.4h-8.3zM560.8 332.3h0.6v0.6h-0.6zM563.6 336.6l4.15 -7.4h-8.3zM563.3 331.4h0.6v0.6h-0.6zM565.2 338.1l4.15 -7.4h-8.3zM564.9 332.9h0.6v0.6h-0.6zM566.5 338.9l4.15 -7.4h-8.3zM566.2 333.7h0.6v0.6h-0.6zM568.4 338.8l4.15 -7.4h-8.3zM568.1 333.6h0.6v0.6h-0.6zM571.4 338.2l4.15 -7.4h-8.3zM571.2 333.0h0.6v0.6h-0.6zM573.5 339.1l4.15 -7.4h-8.3zM573.3 333.9h0.6v0.6h-0.6zM575.5 337.1l4.15 -7.4h-8.3zM575.2 331.9h0.6v0.6h-0.6zM577.9 340.6l4.15 -7.4h-8.3zM577.6 335.4h0.6v0.6h-0.6zM581.0 338.1l4.15 -7.4h-8.3zM580.8 332.9h0.6v0.6h-0.6zM584.0 338.4l4.15 -7.4h-8.3zM583.7 333.2h0.6v0.6h-0.6zM586.1 340.1l4.15 -7.4h-8.3zM585.8 334.9h0.6v0.6h-0.6zM588.7 340.2l4.15 -7.4h-8.3zM588.4 335.0h0.6v0.6h-0.6zM590.7 340.9l4.15 -7.4h-8.3zM590.5 335.6h0.6v0.6h-0.6zM592.7 339.8l4.15 -7.4h-8.3zM592.5 334.6h0.6v0.6h-0.6zM593.9 341.8l4.15 -7.4h-8.3zM593.6 336.5h0.6v0.6h-0.6zM596.1 341.5l4.15 -7.4h-8.3zM595.8 336.3h0.6v0.6h-0.6zM598.0 341.5l4.15 -7.4h-8.3zM597.7 336.3h0.6v0.6h-0.6zM600.7 343.9l4.15 -7.4h-8.3zM600.4 338.6h0.6v0.6h-0.6zM602.8 342.3l4.15 -7.4h-8.3zM602.5 337.1h0.6v0.6h-0.6zM605.1 342.5l4.15 -7.4h-8.3zM604.8 337.3h0.6v0.6h-0.6zM606.9 343.7l4.15 -7.4h-8.3zM606.6 338.5h0.6v0.6h-0.6zM608.6 344.1l4.15 -7.4h-8.3zM608.3 338.9h0.6v0.6h-0.6zM611.6 343.8l4.15 -7.4h-8.3zM611.4 338.6h0.6v0.6h-0.6zM614.2 345.3l4.15 -7.4h-8.3zM613.9 340.1h0.6v0.6h-0.6zM617.3 345.8l4.15 -7.4h-8.3zM617.0 340.6h0.6v0.6h-0.6zM618.7 346.9l4.15 -7.4h-8.3zM618.4 341.7h0.6v0.6h-0.6zM620.2 347.0l4.15 -7.4h-8.3zM619.9 341.8h0.6v0.6h-0.6zM621.7 348.1l4.15 -7.4h-8.3zM621.4 342.9h0.6v0.6h-0.6zM623.9 346.5l4.15 -7.4h-8.3zM623.6 341.3h0.6v0.6h-0.6zM626.3 348.0l4.15 -7.4h-8.3zM626.0 342.8h0.6v0.6h-0.6zM628.3 348.3l4.15 -7.4h-8.3zM628.0 343.1h0.6v0.6h-0.6zM629.9 350.2l4.15 -7.4h-8.3zM629.6 345.0h0.6v0.6h-0.6zM631.7 350.8l4.15 -7.4h-8.3zM631.4 345.6h0.6v0.6h-0.6zM634.7 351.1l4.15 -7.4h-8.3zM634.4 345.9h0.6v0.6h-0.6zM636.6 350.0l4.15 -7.4h-8.3zM636.4 344.8h0.6v0.6h-0.6zM639.0 352.0l4.15 -7.4h-8.3zM638.7 346.8h0.6v0.6h-0.6zM640.7 352.4l4.15 -7.4h-8.3zM640.4 347.2h0.6v0.6h-0.6zM642.2 353.8l4.15 -7.4h-8.3zM641.9 348.6h0.6v0.6h-0.6zM643.6 355.7l4.15 -7.4h-8.3zM643.3 350.5h0.6v0.6h-0.6zM647.1 355.1l4.15 -7.4h-8.3zM646.9 349.9h0.6v0.6h-0.6zM654.9 356.6l4.15 -7.4h-8.3zM654.6 351.4h0.6v0.6h-0.6zM663.5 357.7l4.15 -7.4h-8.3zM663.2 352.5h0.6v0.6h-0.6zM669.9 357.7l4.15 -7.4h-8.3zM669.6 352.5h0.6v0.6h-0.6zM704.2 358.7l4.15 -7.4h-8.3zM703.9 353.5h0.6v0.6h-0.6zM711.6 359.2l4.15 -7.4h-8.3zM711.3 354.0h0.6v0.6h-0.6zM724.3 363.4l4.15 -7.4h-8.3zM724.0 358.2h0.6v0.6h-0.6zM731.7 364.7l4.15 -7.4h-8.3zM731.4 359.5h0.6v0.6h-0.6zM745.0 365.5l4.15 -7.4h-8.3zM744.7 360.3h0.6v0.6h-0.6zM756.0 365.5l4.15 -7.4h-8.3zM755.7 360.3h0.6v0.6h-0.6zM766.6 365.5l4.15 -7.4h-8.3zM766.3 360.3h0.6v0.6h-0.6zM778.3 366.2l4.15 -7.4h-8.3zM778.0 361.0h0.6v0.6h-0.6zM792.0 366.2l4.15 -7.4h-8.3zM791.7 361.0h0.6v0.6h-0.6zM800.5 366.8l4.15 -7.4h-8.3zM800.2 361.6h0.6v0.6h-0.6zM805.8 367.2l4.15 -7.4h-8.3zM805.5 362.0h0.6v0.6h-0.6zM807.3 368.1l4.15 -7.4h-8.3zM807.0 362.9h0.6v0.6h-0.6zM810.0 368.0l4.15 -7.4h-8.3zM809.7 362.8h0.6v0.6h-0.6zM811.9 368.3l4.15 -7.4h-8.3zM811.7 363.1h0.6v0.6h-0.6zM813.7 368.8l4.15 -7.4h-8.3zM813.4 363.6h0.6v0.6h-0.6zM816.2 370.0l4.15 -7.4h-8.3zM815.9 364.8h0.6v0.6h-0.6zM819.2 369.2l4.15 -7.4h-8.3zM819.0 364.0h0.6v0.6h-0.6zM820.4 371.0l4.15 -7.4h-8.3zM820.1 365.8h0.6v0.6h-0.6zM822.3 371.7l4.15 -7.4h-8.3zM822.0 366.5h0.6v0.6h-0.6zM824.2 373.1l4.15 -7.4h-8.3zM823.9 367.9h0.6v0.6h-0.6zM826.7 372.7l4.15 -7.4h-8.3zM826.5 367.5h0.6v0.6h-0.6zM829.1 373.2l4.15 -7.4h-8.3zM828.9 368.0h0.6v0.6h-0.6zM830.0 374.5l4.15 -7.4h-8.3zM829.7 369.3h0.6v0.6h-0.6zM832.0 375.7l4.15 -7.4h-8.3zM831.8 370.5h0.6v0.6h-0.6zM833.1 378.0l4.15 -7.4h-8.3zM832.8 372.8h0.6v0.6h-0.6zM835.1 378.2l4.15 -7.4h-8.3zM834.8 373.0h0.6v0.6h-0.6zM836.8 379.6l4.15 -7.4h-8.3zM836.6 374.4h0.6v0.6h-0.6zM838.8 380.8l4.15 -7.4h-8.3zM838.5 375.6h0.6v0.6h-0.6zM840.4 382.1l4.15 -7.4h-8.3zM840.1 376.8h0.6v0.6h-0.6zM842.4 383.0l4.15 -7.4h-8.3zM842.1 377.8h0.6v0.6h-0.6zM843.8 384.7l4.15 -7.4h-8.3zM843.5 379.5h0.6v0.6h-0.6zM845.0 385.1l4.15 -7.4h-8.3zM844.8 379.9h0.6v0.6h-0.6zM846.7 387.4l4.15 -7.4h-8.3zM846.5 382.2h0.6v0.6h-0.6zM848.6 388.6l4.15 -7.4h-8.3zM848.3 383.4h0.6v0.6h-0.6zM850.4 388.8l4.15 -7.4h-8.3zM850.2 383.6h0.6v0.6h-0.6zM850.9 390.8l4.15 -7.4h-8.3zM850.6 385.6h0.6v0.6h-0.6zM853.0 390.6l4.15 -7.4h-8.3zM852.8 385.4h0.6v0.6h-0.6zM854.4 390.4l4.15 -7.4h-8.3zM854.1 385.2h0.6v0.6h-0.6zM855.9 391.9l4.15 -7.4h-8.3zM855.6 386.7h0.6v0.6h-0.6zM857.6 391.7l4.15 -7.4h-8.3zM857.4 386.5h0.6v0.6h-0.6zM859.3 391.8l4.15 -7.4h-8.3zM859.0 386.6h0.6v0.6h-0.6zM860.2 393.0l4.15 -7.4h-8.3zM859.9 387.8h0.6v0.6h-0.6zM862.1 394.6l4.15 -7.4h-8.3zM861.8 389.4h0.6v0.6h-0.6zM863.6 394.8l4.15 -7.4h-8.3zM863.3 389.6h0.6v0.6h-0.6zM865.9 394.3l4.15 -7.4h-8.3zM865.6 389.1h0.6v0.6h-0.6zM866.8 396.2l4.15 -7.4h-8.3zM866.6 391.0h0.6v0.6h-0.6zM869.4 396.5l4.15 -7.4h-8.3zM869.1 391.3h0.6v0.6h-0.6zM870.8 397.3l4.15 -7.4h-8.3zM870.5 392.0h0.6v0.6h-0.6zM872.1 398.6l4.15 -7.4h-8.3zM871.8 393.4h0.6v0.6h-0.6zM875.1 398.3l4.15 -7.4h-8.3zM874.8 393.0h0.6v0.6h-0.6zM876.4 399.2l4.15 -7.4h-8.3zM876.1 394.0h0.6v0.6h-0.6zM878.4 399.2l4.15 -7.4h-8.3zM878.2 394.0h0.6v0.6h-0.6zM880.0 399.3l4.15 -7.4h-8.3zM879.7 394.1h0.6v0.6h-0.6zM881.0 401.5l4.15 -7.4h-8.3zM880.8 396.3h0.6v0.6h-0.6zM881.9 403.1l4.15 -7.4h-8.3zM881.6 397.9h0.6v0.6h-0.6zM883.5 402.6l4.15 -7.4h-8.3zM883.2 397.4h0.6v0.6h-0.6zM886.1 403.3l4.15 -7.4h-8.3zM885.8 398.1h0.6v0.6h-0.6zM888.6 403.9l4.15 -7.4h-8.3zM888.4 398.7h0.6v0.6h-0.6zM891.8 403.2l4.15 -7.4h-8.3zM891.6 398.0h0.6v0.6h-0.6zM892.5 406.3l4.15 -7.4h-8.3zM892.2 401.0h0.6v0.6h-0.6zM894.5 407.8l4.15 -7.4h-8.3zM894.3 402.6h0.6v0.6h-0.6zM896.2 406.6l4.15 -7.4h-8.3zM895.9 401.4h0.6v0.6h-0.6zM898.0 407.0l4.15 -7.4h-8.3zM897.7 401.8h0.6v0.6h-0.6zM899.5 408.0l4.15 -7.4h-8.3zM899.2 402.8h0.6v0.6h-0.6zM901.0 408.4l4.15 -7.4h-8.3zM900.8 403.2h0.6v0.6h-0.6zM902.7 409.2l4.15 -7.4h-8.3zM902.4 404.0h0.6v0.6h-0.6zM905.4 409.6l4.15 -7.4h-8.3zM905.1 404.4h0.6v0.6h-0.6zM907.0 409.5l4.15 -7.4h-8.3zM906.8 404.3h0.6v0.6h-0.6zM909.0 411.7l4.15 -7.4h-8.3zM908.7 406.5h0.6v0.6h-0.6zM910.9 412.0l4.15 -7.4h-8.3zM910.6 406.8h0.6v0.6h-0.6zM912.7 412.1l4.15 -7.4h-8.3zM912.5 406.9h0.6v0.6h-0.6zM915.3 412.8l4.15 -7.4h-8.3zM915.0 407.6h0.6v0.6h-0.6zM917.8 413.7l4.15 -7.4h-8.3zM917.6 408.5h0.6v0.6h-0.6zM919.3 412.5l4.15 -7.4h-8.3zM919.1 407.3h0.6v0.6h-0.6zM921.4 414.4l4.15 -7.4h-8.3zM921.2 409.2h0.6v0.6h-0.6zM922.8 414.3l4.15 -7.4h-8.3zM922.5 409.1h0.6v0.6h-0.6zM925.4 414.6l4.15 -7.4h-8.3zM925.1 409.4h0.6v0.6h-0.6zM927.0 414.9l4.15 -7.4h-8.3zM926.7 409.6h0.6v0.6h-0.6zM929.0 413.9l4.15 -7.4h-8.3zM928.7 408.7h0.6v0.6h-0.6zM930.2 416.3l4.15 -7.4h-8.3zM929.9 411.1h0.6v0.6h-0.6zM932.0 415.6l4.15 -7.4h-8.3zM931.7 410.4h0.6v0.6h-0.6zM934.3 416.0l4.15 -7.4h-8.3zM934.0 410.8h0.6v0.6h-0.6zM935.3 416.8l4.15 -7.4h-8.3zM935.1 411.6h0.6v0.6h-0.6zM937.7 417.5l4.15 -7.4h-8.3zM937.4 412.3h0.6v0.6h-0.6zM940.5 416.8l4.15 -7.4h-8.3zM940.3 411.6h0.6v0.6h-0.6zM941.7 417.5l4.15 -7.4h-8.3zM941.4 412.3h0.6v0.6h-0.6zM944.3 418.5l4.15 -7.4h-8.3zM944.0 413.3h0.6v0.6h-0.6zM947.1 417.9l4.15 -7.4h-8.3zM946.9 412.7h0.6v0.6h-0.6zM948.9 418.8l4.15 -7.4h-8.3zM948.6 413.6h0.6v0.6h-0.6zM950.9 419.1l4.15 -7.4h-8.3zM950.6 413.9h0.6v0.6h-0.6zM953.4 418.9l4.15 -7.4h-8.3zM953.1 413.7h0.6v0.6h-0.6zM955.7 419.8l4.15 -7.4h-8.3zM955.4 414.6h0.6v0.6h-0.6zM958.0 418.7l4.15 -7.4h-8.3zM957.8 413.5h0.6v0.6h-0.6zM959.7 419.6l4.15 -7.4h-8.3zM959.4 414.4h0.6v0.6h-0.6zM962.0 420.6l4.15 -7.4h-8.3zM961.7 415.4h0.6v0.6h-0.6zM963.3 420.6l4.15 -7.4h-8.3zM963.1 415.4h0.6v0.6h-0.6zM964.8 421.4l4.15 -7.4h-8.3zM964.6 416.2h0.6v0.6h-0.6zM966.2 421.4l4.15 -7.4h-8.3zM965.9 416.2h0.6v0.6h-0.6zM967.9 421.0l4.15 -7.4h-8.3zM967.7 415.8h0.6v0.6h-0.6zM970.5 422.5l4.15 -7.4h-8.3zM970.3 417.3h0.6v0.6h-0.6zM972.5 420.2l4.15 -7.4h-8.3zM972.2 415.0h0.6v0.6h-0.6zM973.6 422.1l4.15 -7.4h-8.3zM973.3 416.9h0.6v0.6h-0.6zM975.9 422.3l4.15 -7.4h-8.3zM975.6 417.0h0.6v0.6h-0.6zM977.9 422.2l4.15 -7.4h-8.3zM977.6 416.9h0.6v0.6h-0.6zM980.0 423.0l4.15 -7.4h-8.3zM979.7 417.8h0.6v0.6h-0.6zM982.3 422.6l4.15 -7.4h-8.3zM982.0 417.4h0.6v0.6h-0.6zM984.7 421.8l4.15 -7.4h-8.3zM984.4 416.6h0.6v0.6h-0.6zM985.9 423.4l4.15 -7.4h-8.3zM985.6 418.2h0.6v0.6h-0.6zM988.1 423.0l4.15 -7.4h-8.3zM987.8 417.7h0.6v0.6h-0.6zM989.8 423.6l4.15 -7.4h-8.3zM989.5 418.4h0.6v0.6h-0.6zM991.4 423.4l4.15 -7.4h-8.3zM991.2 418.2h0.6v0.6h-0.6zM992.9 424.7l4.15 -7.4h-8.3zM992.6 419.5h0.6v0.6h-0.6zM994.9 425.3l4.15 -7.4h-8.3zM994.7 420.1h0.6v0.6h-0.6zM997.0 423.0l4.15 -7.4h-8.3zM996.7 417.8h0.6v0.6h-0.6zM998.6 425.9l4.15 -7.4h-8.3zM998.4 420.6h0.6v0.6h-0.6zM1000.3 425.2l4.15 -7.4h-8.3zM1000.0 420.0h0.6v0.6h-0.6zM1003.2 424.5l4.15 -7.4h-8.3zM1002.9 419.3h0.6v0.6h-0.6zM1004.6 424.4l4.15 -7.4h-8.3zM1004.3 419.1h0.6v0.6h-0.6zM1007.0 425.9l4.15 -7.4h-8.3zM1006.7 420.7h0.6v0.6h-0.6zM1009.6 426.6l4.15 -7.4h-8.3zM1009.3 421.4h0.6v0.6h-0.6zM1011.0 426.4l4.15 -7.4h-8.3zM1010.7 421.2h0.6v0.6h-0.6zM1012.4 427.2l4.15 -7.4h-8.3zM1012.1 422.0h0.6v0.6h-0.6zM1015.2 426.5l4.15 -7.4h-8.3zM1014.9 421.3h0.6v0.6h-0.6zM1016.9 427.2l4.15 -7.4h-8.3zM1016.7 422.0h0.6v0.6h-0.6zM1018.6 426.3l4.15 -7.4h-8.3zM1018.3 421.1h0.6v0.6h-0.6zM1021.0 427.2l4.15 -7.4h-8.3zM1020.7 422.0h0.6v0.6h-0.6zM1023.2 427.0l4.15 -7.4h-8.3zM1022.9 421.8h0.6v0.6h-0.6zM1025.3 427.3l4.15 -7.4h-8.3zM1025.1 422.1h0.6v0.6h-0.6zM1026.7 427.9l4.15 -7.4h-8.3zM1026.5 422.7h0.6v0.6h-0.6zM1028.3 427.4l4.15 -7.4h-8.3zM1028.0 422.2h0.6v0.6h-0.6zM1030.5 428.3l4.15 -7.4h-8.3zM1030.2 423.1h0.6v0.6h-0.6zM1032.0 428.1l4.15 -7.4h-8.3zM1031.8 422.9h0.6v0.6h-0.6zM1034.3 427.8l4.15 -7.4h-8.3zM1034.1 422.6h0.6v0.6h-0.6zM1035.8 427.7l4.15 -7.4h-8.3zM1035.6 422.5h0.6v0.6h-0.6zM1038.3 428.4l4.15 -7.4h-8.3zM1038.0 423.1h0.6v0.6h-0.6zM1040.4 428.4l4.15 -7.4h-8.3zM1040.1 423.1h0.6v0.6h-0.6zM1042.2 428.3l4.15 -7.4h-8.3zM1041.9 423.1h0.6v0.6h-0.6zM1044.3 428.2l4.15 -7.4h-8.3zM1044.0 423.0h0.6v0.6h-0.6zM1045.8 428.2l4.15 -7.4h-8.3zM1045.5 423.0h0.6v0.6h-0.6zM1048.1 428.1l4.15 -7.4h-8.3zM1047.8 422.9h0.6v0.6h-0.6zM1057.9 429.9l4.15 -7.4h-8.3zM1057.6 424.7h0.6v0.6h-0.6zM1062.5 430.0l4.15 -7.4h-8.3zM1062.3 424.8h0.6v0.6h-0.6zM1065.4 431.1l4.15 -7.4h-8.3zM1065.2 425.9h0.6v0.6h-0.6zM1068.5 432.0l4.15 -7.4h-8.3zM1068.3 426.8h0.6v0.6h-0.6zM1071.9 430.0l4.15 -7.4h-8.3zM1071.6 424.8h0.6v0.6h-0.6zM1074.2 431.7l4.15 -7.4h-8.3zM1073.9 426.5h0.6v0.6h-0.6zM1076.3 431.8l4.15 -7.4h-8.3zM1076.0 426.6h0.6v0.6h-0.6zM1080.8 432.2l4.15 -7.4h-8.3zM1080.5 426.9h0.6v0.6h-0.6zM1083.6 434.0l4.15 -7.4h-8.3zM1083.4 428.7h0.6v0.6h-0.6zM1088.1 434.1l4.15 -7.4h-8.3zM1087.9 428.9h0.6v0.6h-0.6zM1090.1 434.8l4.15 -7.4h-8.3zM1089.8 429.6h0.6v0.6h-0.6zM1093.7 434.6l4.15 -7.4h-8.3zM1093.4 429.4h0.6v0.6h-0.6zM1096.0 434.7l4.15 -7.4h-8.3zM1095.7 429.5h0.6v0.6h-0.6zM1099.6 435.4l4.15 -7.4h-8.3zM1099.4 430.2h0.6v0.6h-0.6zM1101.9 436.5l4.15 -7.4h-8.3zM1101.6 431.3h0.6v0.6h-0.6zM1105.0 435.8l4.15 -7.4h-8.3zM1104.8 430.6h0.6v0.6h-0.6zM1107.0 437.4l4.15 -7.4h-8.3zM1106.7 432.2h0.6v0.6h-0.6zM1110.2 438.7l4.15 -7.4h-8.3zM1109.9 433.5h0.6v0.6h-0.6zM1112.9 437.3l4.15 -7.4h-8.3zM1112.6 432.0h0.6v0.6h-0.6zM1115.1 439.9l4.15 -7.4h-8.3zM1114.8 434.7h0.6v0.6h-0.6zM1118.6 438.5l4.15 -7.4h-8.3zM1118.3 433.3h0.6v0.6h-0.6zM1120.6 439.8l4.15 -7.4h-8.3zM1120.3 434.6h0.6v0.6h-0.6zM1125.2 439.8l4.15 -7.4h-8.3zM1124.9 434.6h0.6v0.6h-0.6zM1128.8 440.8l4.15 -7.4h-8.3zM1128.5 435.6h0.6v0.6h-0.6zM1133.0 441.1l4.15 -7.4h-8.3zM1132.7 435.9h0.6v0.6h-0.6zM1135.7 441.1l4.15 -7.4h-8.3zM1135.4 435.9h0.6v0.6h-0.6zM1139.7 443.2l4.15 -7.4h-8.3zM1139.4 438.0h0.6v0.6h-0.6zM1142.2 443.1l4.15 -7.4h-8.3zM1142.0 437.9h0.6v0.6h-0.6zM1145.6 444.1l4.15 -7.4h-8.3zM1145.3 438.9h0.6v0.6h-0.6zM1148.6 444.4l4.15 -7.4h-8.3zM1148.4 439.2h0.6v0.6h-0.6zM1152.6 445.2l4.15 -7.4h-8.3zM1152.3 440.0h0.6v0.6h-0.6zM1154.5 448.0l4.15 -7.4h-8.3zM1154.2 442.8h0.6v0.6h-0.6zM1156.3 447.9l4.15 -7.4h-8.3zM1156.1 442.6h0.6v0.6h-0.6zM1156.8 448.2l4.15 -7.4h-8.3zM1156.5 443.0h0.6v0.6h-0.6zM1158.3 448.2l4.15 -7.4h-8.3zM1158.0 443.0h0.6v0.6h-0.6zM1159.1 448.7l4.15 -7.4h-8.3zM1158.8 443.5h0.6v0.6h-0.6zM1159.7 449.3l4.15 -7.4h-8.3zM1159.4 444.1h0.6v0.6h-0.6zM1161.1 449.3l4.15 -7.4h-8.3zM1160.9 444.1h0.6v0.6h-0.6zM1159.4 452.0l4.15 -7.4h-8.3zM1159.1 446.8h0.6v0.6h-0.6zM1158.5 452.8l4.15 -7.4h-8.3zM1158.3 447.6h0.6v0.6h-0.6zM1160.6 453.0l4.15 -7.4h-8.3zM1160.3 447.8h0.6v0.6h-0.6zM1160.9 453.6l4.15 -7.4h-8.3zM1160.7 448.4h0.6v0.6h-0.6zM1164.1 453.4l4.15 -7.4h-8.3zM1163.8 448.2h0.6v0.6h-0.6zM1162.4 454.7l4.15 -7.4h-8.3zM1162.1 449.5h0.6v0.6h-0.6zM1161.8 455.6l4.15 -7.4h-8.3zM1161.5 450.4h0.6v0.6h-0.6zM1160.8 456.9l4.15 -7.4h-8.3zM1160.5 451.7h0.6v0.6h-0.6zM1161.6 457.6l4.15 -7.4h-8.3zM1161.3 452.3h0.6v0.6h-0.6zM1163.1 457.6l4.15 -7.4h-8.3zM1162.8 452.4h0.6v0.6h-0.6zM1163.5 458.7l4.15 -7.4h-8.3zM1163.2 453.5h0.6v0.6h-0.6zM1163.7 459.8l4.15 -7.4h-8.3zM1163.4 454.6h0.6v0.6h-0.6zM1163.3 460.8l4.15 -7.4h-8.3zM1163.0 455.6h0.6v0.6h-0.6zM1162.5 461.7l4.15 -7.4h-8.3zM1162.3 456.5h0.6v0.6h-0.6zM1163.8 462.7l4.15 -7.4h-8.3zM1163.5 457.5h0.6v0.6h-0.6zM1164.0 463.9l4.15 -7.4h-8.3zM1163.7 458.7h0.6v0.6h-0.6zM1166.7 464.3l4.15 -7.4h-8.3zM1166.4 459.1h0.6v0.6h-0.6zM1167.9 465.4l4.15 -7.4h-8.3zM1167.6 460.2h0.6v0.6h-0.6zM1163.9 467.1l4.15 -7.4h-8.3zM1163.6 461.9h0.6v0.6h-0.6zM1163.3 467.8l4.15 -7.4h-8.3zM1163.0 462.6h0.6v0.6h-0.6zM1167.8 467.9l4.15 -7.4h-8.3zM1167.5 462.7h0.6v0.6h-0.6zM1164.3 469.1l4.15 -7.4h-8.3zM1164.0 463.9h0.6v0.6h-0.6zM1162.4 468.1l4.15 -7.4h-8.3zM1162.1 462.9h0.6v0.6h-0.6zM1161.0 464.9l4.15 -7.4h-8.3zM1160.7 459.7h0.6v0.6h-0.6zM1169.2 461.8l4.15 -7.4h-8.3zM1168.9 456.6h0.6v0.6h-0.6zM1162.3 464.9l4.15 -7.4h-8.3zM1162.0 459.7h0.6v0.6h-0.6zM1162.9 460.1l4.15 -7.4h-8.3zM1162.6 454.9h0.6v0.6h-0.6zM1161.4 461.4l4.15 -7.4h-8.3zM1161.1 456.2h0.6v0.6h-0.6zM1169.3 466.7l4.15 -7.4h-8.3zM1169.1 461.5h0.6v0.6h-0.6zM1168.9 461.4l4.15 -7.4h-8.3zM1168.6 456.2h0.6v0.6h-0.6zM1167.7 460.9l4.15 -7.4h-8.3zM1167.5 455.7h0.6v0.6h-0.6zM1165.1 466.3l4.15 -7.4h-8.3zM1164.8 461.0h0.6v0.6h-0.6zM1163.3 468.7l4.15 -7.4h-8.3zM1163.0 463.5h0.6v0.6h-0.6zM1165.3 465.7l4.15 -7.4h-8.3zM1165.1 460.5h0.6v0.6h-0.6zM1168.8 460.8l4.15 -7.4h-8.3zM1168.5 455.6h0.6v0.6h-0.6zM1169.9 466.2l4.15 -7.4h-8.3zM1169.7 461.0h0.6v0.6h-0.6zM1163.6 467.9l4.15 -7.4h-8.3zM1163.4 462.7h0.6v0.6h-0.6zM1162.3 469.9l4.15 -7.4h-8.3zM1162.0 464.7h0.6v0.6h-0.6zM1165.6 463.4l4.15 -7.4h-8.3zM1165.3 458.2h0.6v0.6h-0.6zM1167.5 464.3l4.15 -7.4h-8.3zM1167.3 459.0h0.6v0.6h-0.6zM1161.4 467.4l4.15 -7.4h-8.3zM1161.1 462.2h0.6v0.6h-0.6zM1160.0 468.1l4.15 -7.4h-8.3zM1159.7 462.9h0.6v0.6h-0.6zM1162.2 466.3l4.15 -7.4h-8.3zM1161.9 461.1h0.6v0.6h-0.6zM1169.8 465.7l4.15 -7.4h-8.3zM1169.6 460.5h0.6v0.6h-0.6zM1166.5 462.9l4.15 -7.4h-8.3zM1166.2 457.7h0.6v0.6h-0.6zM1159.5 460.0l4.15 -7.4h-8.3zM1159.2 454.8h0.6v0.6h-0.6zM1161.1 466.0l4.15 -7.4h-8.3zM1160.8 460.8h0.6v0.6h-0.6zM1164.0 465.0l4.15 -7.4h-8.3zM1163.8 459.8h0.6v0.6h-0.6zM1168.9 461.1l4.15 -7.4h-8.3zM1168.6 455.9h0.6v0.6h-0.6zM1161.9 466.4l4.15 -7.4h-8.3zM1161.6 461.2h0.6v0.6h-0.6zM1159.7 459.7l4.15 -7.4h-8.3zM1159.5 454.5h0.6v0.6h-0.6zM1163.2 460.8l4.15 -7.4h-8.3zM1163.0 455.6h0.6v0.6h-0.6zM1163.3 462.0l4.15 -7.4h-8.3zM1163.0 456.8h0.6v0.6h-0.6zM1165.6 465.8l4.15 -7.4h-8.3zM1165.4 460.6h0.6v0.6h-0.6zM1161.6 466.1l4.15 -7.4h-8.3zM1161.4 460.9h0.6v0.6h-0.6zM1164.5 461.1l4.15 -7.4h-8.3zM1164.2 455.9h0.6v0.6h-0.6zM1169.3 462.2l4.15 -7.4h-8.3zM1169.1 457.0h0.6v0.6h-0.6zM1161.1 460.7l4.15 -7.4h-8.3zM1160.8 455.5h0.6v0.6h-0.6zM1166.2 468.7l4.15 -7.4h-8.3zM1165.9 463.5h0.6v0.6h-0.6zM1167.7 463.8l4.15 -7.4h-8.3zM1167.4 458.6h0.6v0.6h-0.6zM1162.3 459.8l4.15 -7.4h-8.3zM1162.0 454.6h0.6v0.6h-0.6zM1166.3 465.5l4.15 -7.4h-8.3zM1166.0 460.3h0.6v0.6h-0.6zM1163.2 466.3l4.15 -7.4h-8.3zM1162.9 461.1h0.6v0.6h-0.6zM1164.2 469.4l4.15 -7.4h-8.3zM1163.9 464.1h0.6v0.6h-0.6zM1167.2 462.3l4.15 -7.4h-8.3zM1166.9 457.1h0.6v0.6h-0.6zM1169.0 460.2l4.15 -7.4h-8.3zM1168.7 454.9h0.6v0.6h-0.6zM1165.1 463.9l4.15 -7.4h-8.3zM1164.8 458.7h0.6v0.6h-0.6zM1162.0 460.3l4.15 -7.4h-8.3zM1161.7 455.1h0.6v0.6h-0.6zM1167.7 459.8l4.15 -7.4h-8.3zM1167.4 454.6h0.6v0.6h-0.6zM1165.3 469.4l4.15 -7.4h-8.3zM1165.0 464.2h0.6v0.6h-0.6zM1161.0 461.8l4.15 -7.4h-8.3zM1160.7 456.5h0.6v0.6h-0.6zM1165.9 464.9l4.15 -7.4h-8.3zM1165.6 459.7h0.6v0.6h-0.6zM1166.2 468.1l4.15 -7.4h-8.3zM1166.0 462.9h0.6v0.6h-0.6zM1161.3 462.9l4.15 -7.4h-8.3zM1161.1 457.7h0.6v0.6h-0.6zM1162.7 460.2l4.15 -7.4h-8.3zM1162.4 455.0h0.6v0.6h-0.6zM1168.8 467.8l4.15 -7.4h-8.3zM1168.6 462.6h0.6v0.6h-0.6zM1167.0 459.8l4.15 -7.4h-8.3zM1166.7 454.6h0.6v0.6h-0.6zM1168.4 467.4l4.15 -7.4h-8.3zM1168.1 462.2h0.6v0.6h-0.6zM1164.4 467.3l4.15 -7.4h-8.3zM1164.1 462.1h0.6v0.6h-0.6zM1164.3 462.0l4.15 -7.4h-8.3zM1164.0 456.8h0.6v0.6h-0.6zM1160.6 462.1l4.15 -7.4h-8.3zM1160.3 456.9h0.6v0.6h-0.6zM1159.9 463.2l4.15 -7.4h-8.3zM1159.6 457.9h0.6v0.6h-0.6zM1172.2 469.9l4.15 -7.4h-8.3zM1171.9 464.7h0.6v0.6h-0.6zM1160.0 470.3l4.15 -7.4h-8.3zM1159.7 465.1h0.6v0.6h-0.6zM1161.4 470.3l4.15 -7.4h-8.3zM1161.1 465.1h0.6v0.6h-0.6zM1162.8 470.3l4.15 -7.4h-8.3zM1162.5 465.1h0.6v0.6h-0.6zM1164.2 470.3l4.15 -7.4h-8.3zM1163.9 465.1h0.6v0.6h-0.6zM1165.6 470.3l4.15 -7.4h-8.3zM1165.3 465.1h0.6v0.6h-0.6zM1167.0 470.3l4.15 -7.4h-8.3zM1166.7 465.1h0.6v0.6h-0.6zM1168.4 470.3l4.15 -7.4h-8.3zM1168.1 465.1h0.6v0.6h-0.6zM1169.8 470.3l4.15 -7.4h-8.3zM1169.5 465.1h0.6v0.6h-0.6z"/>
<path class="m" fill="#ff00ff" d="M640.7 67.9l4.15 7.4h-8.3zM640.4 72.6v0.6h0.6v-0.6zM652.7 71.0l4.15 7.4h-8.3zM652.5 75.6v0.6h0.6v-0.6zM653.4 71.1l4.15 7.4h-8.3zM653.1 75.7v0.6h0.6v-0.6zM649.4 69.9l4.15 7.4h-8.3zM649.1 74.5v0.6h0.6v-0.6zM650.6 71.7l4.15 7.4h-8.3zM650.3 76.3v0.6h0.6v-0.6zM651.2 67.6l4.15 7.4h-8.3zM650.9 72.3v0.6h0.6v-0.6zM652.0 73.0l4.15 7.4h-8.3zM651.7 77.7v0.6h0.6v-0.6zM649.0 72.4l4.15 7.4h-8.3zM648.7 77.0v0.6h0.6v-0.6zM647.6 67.6l4.15 7.4h-8.3zM647.3 72.3v0.6h0.6v-0.6zM649.2 71.3l4.15 7.4h-8.3zM648.9 76.0v0.6h0.6v-0.6zM654.1 71.3l4.15 7.4h-8.3zM653.8 76.0v0.6h0.6v-0.6zM649.8 72.4l4.15 7.4h-8.3zM649.5 77.0v0.6h0.6v-0.6zM649.8 67.4l4.15 7.4h-8.3zM649.5 72.1v0.6h0.6v-0.6zM653.9 70.5l4.15 7.4h-8.3zM653.6 75.1v0.6h0.6v-0.6zM652.3 70.7l4.15 7.4h-8.3zM652.1 75.4v0.6h0.6v-0.6zM657.6 73.0l4.15 7.4h-8.3zM657.3 77.7v0.6h0.6v-0.6zM660.2 73.1l4.15 7.4h-8.3zM659.9 77.7v0.6h0.6v-0.6zM661.8 74.7l4.15 7.4h-8.3zM661.6 79.4v0.6h0.6v-0.6zM664.3 74.5l4.15 7.4h-8.3zM664.1 79.1v0.6h0.6v-0.6zM665.9 76.0l4.15 7.4h-8.3zM665.6 80.7v0.6h0.6v-0.6zM667.4 76.3l4.15 7.4h-8.3zM667.1 81.0v0.6h0.6v-0.6zM668.4 77.1l4.15 7.4h-8.3zM668.1 81.7v0.6h0.6v-0.6zM670.9 77.0l4.15 7.4h-8.3zM670.6 81.7v0.6h0.6v-0.6zM672.1 77.3l4.15 7.4h-8.3zM671.8 82.0v0.6h0.6v-0.6zM674.5 77.6l4.15 7.4h-8.3zM674.2 82.3v0.6h0.6v-0.6zM675.5 78.2l4.15 7.4h-8.3zM675.2 82.9v0.6h0.6v-0.6zM676.7 78.0l4.15 7.4h-8.3zM676.5 82.7v0.6h0.6v-0.6zM678.9 78.0l4.15 7.4h-8.3zM678.6 82.7v0.6h0.6v-0.6zM691.6 78.8l4.15 7.4h-8.3zM691.3 83.5v0.6h0.6v-0.6zM699.4 79.6l4.15 7.4h-8.3zM699.1 84.3v0.6h0.6v-0.6zM641.0 90.8l4.15 7.4h-8.3zM640.7 95.5v0.6h0.6v-0.6zM672.0 90.8l4.15 7.4h-8.3zM671.7 95.5v0.6h0.6v-0.6zM709.5 89.7l4.15 7.4h-8.3zM709.2 94.4v0.6h0.6v-0.6zM738.7 80.3l4.15 7.4h-8.3zM738.4 85.0v0.6h0.6v-0.6zM746.0 89.7l4.15 7.4h-8.3zM745.7 94.4v0.6h0.6v-0.6zM777.0 84.3l4.15 7.4h-8.3zM776.7 89.0v0.6h0.6v-0.6zM786.3 85.8l4.15 7.4h-8.3zM786.0 90.5v0.6h0.6v-0.6zM775.5 88.9l4.15 7.4h-8.3zM775.2 93.6v0.6h0.6v-0.6zM781.5 86.5l4.15 7.4h-8.3zM781.2 91.2v0.6h0.6v-0.6zM766.0 83.4l4.15 7.4h-8.3zM765.7 88.0v0.6h0.6v-0.6zM768.0 84.2l4.15 7.4h-8.3zM767.8 88.8v0.6h0.6v-0.6zM771.2 84.4l4.15 7.4h-8.3zM771.0 89.1v0.6h0.6v-0.6zM766.0 84.3l4.15 7.4h-8.3zM765.7 89.0v0.6h0.6v-0.6zM771.9 84.6l4.15 7.4h-8.3zM771.6 89.3v0.6h0.6v-0.6zM766.2 82.0l4.15 7.4h-8.3zM766.0 86.7v0.6h0.6v-0.6zM766.3 81.4l4.15 7.4h-8.3zM766.0 86.1v0.6h0.6v-0.6zM771.4 84.1l4.15 7.4h-8.3zM771.2 88.8v0.6h0.6v-0.6zM525.8 93.6l4.15 7.4h-8.3zM525.5 98.3v0.6h0.6v-0.6zM500.6 92.8l4.15 7.4h-8.3zM500.3 97.5v0.6h0.6v-0.6zM474.5 92.8l4.15 7.4h-8.3zM474.2 97.5v0.6h0.6v-0.6zM450.0 95.3l4.15 7.4h-8.3zM449.7 100.0v0.6h0.6v-0.6zM453.0 95.1l4.15 7.4h-8.3zM452.7 99.8v0.6h0.6v-0.6zM456.0 94.9l4.15 7.4h-8.3zM455.7 99.6v0.6h0.6v-0.6zM459.0 94.8l4.15 7.4h-8.3zM458.7 99.5v0.6h0.6v-0.6zM462.0 94.8l4.15 7.4h-8.3zM461.7 99.5v0.6h0.6v-0.6zM465.5 95.1l4.15 7.4h-8.3zM465.2 99.8v0.6h0.6v-0.6zM468.3 95.1l4.15 7.4h-8.3zM468.0 99.8v0.6h0.6v-0.6zM446.6 94.8l4.15 7.4h-8.3zM446.3 99.5v0.6h0.6v-0.6zM437.0 95.9l4.15 7.4h-8.3zM436.7 100.6v0.6h0.6v-0.6zM406.2 96.0l4.15 7.4h-8.3zM405.9 100.7v0.6h0.6v-0.6zM398.0 97.1l4.15 7.4h-8.3zM397.7 101.8v0.6h0.6v-0.6zM372.4 97.1l4.15 7.4h-8.3zM372.1 101.8v0.6h0.6v-0.6zM348.9 98.2l4.15 7.4h-8.3zM348.6 102.9v0.6h0.6v-0.6zM336.4 98.2l4.15 7.4h-8.3zM336.1 102.9v0.6h0.6v-0.6zM321.0 98.8l4.15 7.4h-8.3zM320.7 103.5v0.6h0.6v-0.6zM317.6 98.8l4.15 7.4h-8.3zM317.3 103.5v0.6h0.6v-0.6zM314.2 98.8l4.15 7.4h-8.3zM313.9 103.5v0.6h0.6v-0.6zM401.5 97.3l4.15 7.4h-8.3zM401.2 102.0v0.6h0.6v-0.6zM305.3 100.0l4.15 7.4h-8.3zM305.0 104.7v0.6h0.6v-0.6zM303.6 100.4l4.15 7.4h-8.3zM303.3 105.1v0.6h0.6v-0.6zM302.1 99.6l4.15 7.4h-8.3zM301.8 104.2v0.6h0.6v-0.6zM300.2 100.0l4.15 7.4h-8.3zM299.9 104.6v0.6h0.6v-0.6zM299.1 100.6l4.15 7.4h-8.3zM298.8 105.2v0.6h0.6v-0.6zM298.0 99.9l4.15 7.4h-8.3zM297.7 104.6v0.6h0.6v-0.6zM296.8 100.9l4.15 7.4h-8.3zM296.5 105.5v0.6h0.6v-0.6zM295.1 100.1l4.15 7.4h-8.3zM294.8 104.8v0.6h0.6v-0.6zM293.9 100.8l4.15 7.4h-8.3zM293.6 105.5v0.6h0.6v-0.6zM292.2 102.3l4.15 7.4h-8.3zM291.9 106.9v0.6h0.6v-0.6zM290.3 102.1l4.15 7.4h-8.3zM290.0 106.8v0.6h0.6v-0.6zM289.0 103.1l4.15 7.4h-8.3zM288.8 107.8v0.6h0.6v-0.6zM287.4 104.4l4.15 7.4h-8.3zM287.1 109.0v0.6h0.6v-0.6zM281.5 103.9l4.15 7.4h-8.3zM281.2 108.6v0.6h0.6v-0.6zM275.8 105.0l4.15 7.4h-8.3zM275.5 109.7v0.6h0.6v-0.6zM276.4 104.1l4.15 7.4h-8.3zM276.1 108.7v0.6h0.6v-0.6zM277.7 106.0l4.15 7.4h-8.3zM277.5 110.6v0.6h0.6v-0.6zM278.1 107.8l4.15 7.4h-8.3zM277.8 112.4v0.6h0.6v-0.6zM275.9 107.1l4.15 7.4h-8.3zM275.6 111.7v0.6h0.6v-0.6zM276.4 108.9l4.15 7.4h-8.3zM276.1 113.6v0.6h0.6v-0.6zM273.5 108.6l4.15 7.4h-8.3zM273.2 113.2v0.6h0.6v-0.6zM274.9 110.8l4.15 7.4h-8.3zM274.7 115.5v0.6h0.6v-0.6zM273.4 111.3l4.15 7.4h-8.3zM273.2 115.9v0.6h0.6v-0.6zM271.9 111.2l4.15 7.4h-8.3zM271.6 115.9v0.6h0.6v-0.6zM273.4 113.8l4.15 7.4h-8.3zM273.2 118.5v0.6h0.6v-0.6zM268.0 112.1l4.15 7.4h-8.3zM267.8 116.7v0.6h0.6v-0.6zM273.1 115.5l4.15 7.4h-8.3zM272.9 120.1v0.6h0.6v-0.6zM274.3 116.8l4.15 7.4h-8.3zM274.0 121.5v0.6h0.6v-0.6zM268.6 115.2l4.15 7.4h-8.3zM268.3 119.9v0.6h0.6v-0.6zM269.4 116.9l4.15 7.4h-8.3zM269.1 121.6v0.6h0.6v-0.6zM271.8 119.5l4.15 7.4h-8.3zM271.6 124.1v0.6h0.6v-0.6zM271.5 120.3l4.15 7.4h-8.3zM271.2 125.0v0.6h0.6v-0.6zM269.1 120.2l4.15 7.4h-8.3zM268.8 124.8v0.6h0.6v-0.6zM269.8 121.7l4.15 7.4h-8.3zM269.5 126.4v0.6h0.6v-0.6zM268.7 122.2l4.15 7.4h-8.3zM268.4 126.9v0.6h0.6v-0.6zM267.3 123.4l4.15 7.4h-8.3zM267.1 128.1v0.6h0.6v-0.6zM272.2 124.9l4.15 7.4h-8.3zM271.9 129.6v0.6h0.6v-0.6zM265.7 125.1l4.15 7.4h-8.3zM265.4 129.7v0.6h0.6v-0.6zM272.3 126.7l4.15 7.4h-8.3zM272.0 131.4v0.6h0.6v-0.6zM269.3 127.6l4.15 7.4h-8.3zM269.0 132.3v0.6h0.6v-0.6zM269.6 128.8l4.15 7.4h-8.3zM269.3 133.4v0.6h0.6v-0.6zM266.8 129.2l4.15 7.4h-8.3zM266.5 133.9v0.6h0.6v-0.6zM270.1 130.8l4.15 7.4h-8.3zM269.9 135.5v0.6h0.6v-0.6zM271.2 131.7l4.15 7.4h-8.3zM271.0 136.4v0.6h0.6v-0.6zM267.6 132.2l4.15 7.4h-8.3zM267.3 136.8v0.6h0.6v-0.6zM270.4 134.0l4.15 7.4h-8.3zM270.1 138.7v0.6h0.6v-0.6zM266.3 133.4l4.15 7.4h-8.3zM266.0 138.1v0.6h0.6v-0.6zM268.1 135.0l4.15 7.4h-8.3zM267.8 139.6v0.6h0.6v-0.6zM268.0 135.8l4.15 7.4h-8.3zM267.7 140.5v0.6h0.6v-0.6zM270.3 137.5l4.15 7.4h-8.3zM270.0 142.2v0.6h0.6v-0.6zM266.3 136.7l4.15 7.4h-8.3zM266.0 141.3v0.6h0.6v-0.6zM264.1 136.9l4.15 7.4h-8.3zM263.8 141.6v0.6h0.6v-0.6zM266.3 138.6l4.15 7.4h-8.3zM266.0 143.2v0.6h0.6v-0.6zM264.0 139.1l4.15 7.4h-8.3zM263.7 143.8v0.6h0.6v-0.6zM260.5 139.0l4.15 7.4h-8.3zM260.2 143.7v0.6h0.6v-0.6zM261.3 140.1l4.15 7.4h-8.3zM261.0 144.7v0.6h0.6v-0.6zM260.5 140.7l4.15 7.4h-8.3zM260.2 145.4v0.6h0.6v-0.6zM264.1 143.4l4.15 7.4h-8.3zM263.8 148.1v0.6h0.6v-0.6zM262.4 143.8l4.15 7.4h-8.3zM262.1 148.5v0.6h0.6v-0.6zM260.3 143.8l4.15 7.4h-8.3zM260.1 148.4v0.6h0.6v-0.6zM263.2 145.7l4.15 7.4h-8.3zM263.0 150.3v0.6h0.6v-0.6zM262.2 146.3l4.15 7.4h-8.3zM261.9 150.9v0.6h0.6v-0.6zM262.9 147.9l4.15 7.4h-8.3zM262.6 152.5v0.6h0.6v-0.6zM264.0 149.4l4.15 7.4h-8.3zM263.7 154.1v0.6h0.6v-0.6zM259.6 148.8l4.15 7.4h-8.3zM259.3 153.5v0.6h0.6v-0.6zM258.8 149.5l4.15 7.4h-8.3zM258.6 154.2v0.6h0.6v-0.6zM258.8 151.6l4.15 7.4h-8.3zM258.5 156.3v0.6h0.6v-0.6zM262.1 152.4l4.15 7.4h-8.3zM261.8 157.1v0.6h0.6v-0.6zM262.3 153.6l4.15 7.4h-8.3zM262.0 158.3v0.6h0.6v-0.6zM260.2 155.0l4.15 7.4h-8.3zM259.9 159.6v0.6h0.6v-0.6zM260.6 156.2l4.15 7.4h-8.3zM260.3 160.9v0.6h0.6v-0.6zM264.5 157.2l4.15 7.4h-8.3zM264.3 161.9v0.6h0.6v-0.6zM262.8 158.5l4.15 7.4h-8.3zM262.5 163.2v0.6h0.6v-0.6zM263.2 159.3l4.15 7.4h-8.3zM262.9 164.0v0.6h0.6v-0.6zM259.5 160.7l4.15 7.4h-8.3zM259.3 165.4v0.6h0.6v-0.6zM260.2 161.9l4.15 7.4h-8.3zM259.9 166.6v0.6h0.6v-0.6zM262.7 162.9l4.15 7.4h-8.3zM262.4 167.5v0.6h0.6v-0.6zM262.9 163.8l4.15 7.4h-8.3zM262.6 168.5v0.6h0.6v-0.6zM263.3 164.7l4.15 7.4h-8.3zM263.1 169.4v0.6h0.6v-0.6zM263.4 165.9l4.15 7.4h-8.3zM263.1 170.5v0.6h0.6v-0.6zM260.6 167.4l4.15 7.4h-8.3zM260.3 172.1v0.6h0.6v-0.6zM259.1 168.8l4.15 7.4h-8.3zM258.8 173.4v0.6h0.6v-0.6zM268.0 169.0l4.15 7.4h-8.3zM267.7 173.7v0.6h0.6v-0.6zM261.7 170.1l4.15 7.4h-8.3zM261.5 174.8v0.6h0.6v-0.6zM260.2 171.3l4.15 7.4h-8.3zM259.9 175.9v0.6h0.6v-0.6zM259.1 172.7l4.15 7.4h-8.3zM258.8 177.4v0.6h0.6v-0.6zM260.1 173.7l4.15 7.4h-8.3zM259.8 178.3v0.6h0.6v-0.6zM260.8 174.6l4.15 7.4h-8.3zM260.5 179.3v0.6h0.6v-0.6zM265.7 175.4l4.15 7.4h-8.3zM265.4 180.1v0.6h0.6v-0.6zM262.9 176.9l4.15 7.4h-8.3zM262.6 181.6v0.6h0.6v-0.6zM267.2 177.6l4.15 7.4h-8.3zM267.0 182.3v0.6h0.6v-0.6zM259.9 178.9l4.15 7.4h-8.3zM259.7 183.6v0.6h0.6v-0.6zM265.9 179.3l4.15 7.4h-8.3zM265.6 183.9v0.6h0.6v-0.6zM260.9 181.0l4.15 7.4h-8.3zM260.6 185.7v0.6h0.6v-0.6zM263.9 181.8l4.15 7.4h-8.3zM263.6 186.5v0.6h0.6v-0.6zM263.0 182.8l4.15 7.4h-8.3zM262.8 187.5v0.6h0.6v-0.6zM261.6 184.1l4.15 7.4h-8.3zM261.3 188.7v0.6h0.6v-0.6zM263.8 184.6l4.15 7.4h-8.3zM263.5 189.2v0.6h0.6v-0.6zM265.2 185.4l4.15 7.4h-8.3zM265.0 190.1v0.6h0.6v-0.6zM263.0 186.7l4.15 7.4h-8.3zM262.8 191.3v0.6h0.6v-0.6zM262.2 188.1l4.15 7.4h-8.3zM261.9 192.7v0.6h0.6v-0.6zM265.8 188.1l4.15 7.4h-8.3zM265.5 192.8v0.6h0.6v-0.6zM266.2 189.3l4.15 7.4h-8.3zM265.9 194.0v0.6h0.6v-0.6zM264.3 190.4l4.15 7.4h-8.3zM264.0 195.1v0.6h0.6v-0.6zM264.3 191.7l4.15 7.4h-8.3zM264.0 196.3v0.6h0.6v-0.6zM268.5 191.8l4.15 7.4h-8.3zM268.2 196.5v0.6h0.6v-0.6zM265.0 193.6l4.15 7.4h-8.3zM264.7 198.2v0.6h0.6v-0.6zM260.5 195.4l4.15 7.4h-8.3zM260.2 200.0v0.6h0.6v-0.6zM264.5 195.7l4.15 7.4h-8.3zM264.3 200.4v0.6h0.6v-0.6zM270.0 195.6l4.15 7.4h-8.3zM269.7 200.3v0.6h0.6v-0.6zM267.6 196.9l4.15 7.4h-8.3zM267.3 201.6v0.6h0.6v-0.6zM267.1 198.3l4.15 7.4h-8.3zM266.9 203.0v0.6h0.6v-0.6zM266.0 199.5l4.15 7.4h-8.3zM265.7 204.1v0.6h0.6v-0.6zM268.5 200.3l4.15 7.4h-8.3zM268.2 204.9v0.6h0.6v-0.6zM268.3 201.1l4.15 7.4h-8.3zM268.0 205.7v0.6h0.6v-0.6zM266.3 201.5l4.15 7.4h-8.3zM266.1 206.2v0.6h0.6v-0.6zM267.2 202.8l4.15 7.4h-8.3zM266.9 207.4v0.6h0.6v-0.6zM265.2 203.4l4.15 7.4h-8.3zM264.9 208.1v0.6h0.6v-0.6zM269.5 204.8l4.15 7.4h-8.3zM269.2 209.4v0.6h0.6v-0.6zM265.2 205.6l4.15 7.4h-8.3zM265.0 210.2v0.6h0.6v-0.6zM262.6 206.2l4.15 7.4h-8.3zM262.4 210.9v0.6h0.6v-0.6zM268.3 207.4l4.15 7.4h-8.3zM268.1 212.0v0.6h0.6v-0.6zM263.2 208.2l4.15 7.4h-8.3zM262.9 212.8v0.6h0.6v-0.6zM268.4 209.3l4.15 7.4h-8.3zM268.2 214.0v0.6h0.6v-0.6zM266.5 210.4l4.15 7.4h-8.3zM266.2 215.1v0.6h0.6v-0.6zM266.4 211.1l4.15 7.4h-8.3zM266.2 215.7v0.6h0.6v-0.6zM267.0 212.5l4.15 7.4h-8.3zM266.7 217.1v0.6h0.6v-0.6zM267.4 213.2l4.15 7.4h-8.3zM267.1 217.8v0.6h0.6v-0.6zM265.5 213.7l4.15 7.4h-8.3zM265.2 218.4v0.6h0.6v-0.6zM262.1 214.4l4.15 7.4h-8.3zM261.8 219.0v0.6h0.6v-0.6zM262.6 215.1l4.15 7.4h-8.3zM262.3 219.8v0.6h0.6v-0.6zM267.9 216.3l4.15 7.4h-8.3zM267.7 220.9v0.6h0.6v-0.6zM268.6 217.7l4.15 7.4h-8.3zM268.3 222.3v0.6h0.6v-0.6zM267.9 218.7l4.15 7.4h-8.3zM267.7 223.4v0.6h0.6v-0.6zM264.4 219.8l4.15 7.4h-8.3zM264.2 224.4v0.6h0.6v-0.6zM269.4 220.9l4.15 7.4h-8.3zM269.2 225.6v0.6h0.6v-0.6zM268.8 222.0l4.15 7.4h-8.3zM268.5 226.7v0.6h0.6v-0.6zM265.9 222.8l4.15 7.4h-8.3zM265.6 227.4v0.6h0.6v-0.6zM266.7 224.1l4.15 7.4h-8.3zM266.4 228.8v0.6h0.6v-0.6zM265.6 224.8l4.15 7.4h-8.3zM265.3 229.5v0.6h0.6v-0.6zM265.9 224.8l4.15 7.4h-8.3zM265.7 229.5v0.6h0.6v-0.6zM265.3 226.0l4.15 7.4h-8.3zM265.0 230.7v0.6h0.6v-0.6zM268.8 225.0l4.15 7.4h-8.3zM268.5 229.6v0.6h0.6v-0.6zM265.8 227.3l4.15 7.4h-8.3zM265.5 232.0v0.6h0.6v-0.6zM261.3 230.7l4.15 7.4h-8.3zM261.0 235.4v0.6h0.6v-0.6zM266.6 229.0l4.15 7.4h-8.3zM266.3 233.6v0.6h0.6v-0.6zM269.8 228.3l4.15 7.4h-8.3zM269.5 233.0v0.6h0.6v-0.6zM271.9 228.1l4.15 7.4h-8.3zM271.6 232.7v0.6h0.6v-0.6zM266.8 231.5l4.15 7.4h-8.3zM266.5 236.1v0.6h0.6v-0.6zM268.4 231.6l4.15 7.4h-8.3zM268.2 236.3v0.6h0.6v-0.6zM264.9 234.3l4.15 7.4h-8.3zM264.7 239.0v0.6h0.6v-0.6zM268.3 233.7l4.15 7.4h-8.3zM268.0 238.3v0.6h0.6v-0.6zM273.3 233.4l4.15 7.4h-8.3zM273.1 238.0v0.6h0.6v-0.6zM262.3 236.9l4.15 7.4h-8.3zM262.0 241.6v0.6h0.6v-0.6zM269.1 236.1l4.15 7.4h-8.3zM268.8 240.7v0.6h0.6v-0.6zM270.4 236.7l4.15 7.4h-8.3zM270.1 241.4v0.6h0.6v-0.6zM273.2 236.9l4.15 7.4h-8.3zM272.9 241.6v0.6h0.6v-0.6zM265.4 239.6l4.15 7.4h-8.3zM265.1 244.3v0.6h0.6v-0.6zM275.5 237.9l4.15 7.4h-8.3zM275.2 242.6v0.6h0.6v-0.6zM271.5 239.5l4.15 7.4h-8.3zM271.2 244.2v0.6h0.6v-0.6zM274.1 239.7l4.15 7.4h-8.3zM273.8 244.3v0.6h0.6v-0.6zM269.4 241.9l4.15 7.4h-8.3zM269.1 246.5v0.6h0.6v-0.6zM269.9 242.4l4.15 7.4h-8.3zM269.6 247.1v0.6h0.6v-0.6zM274.0 241.8l4.15 7.4h-8.3zM273.7 246.5v0.6h0.6v-0.6zM279.3 240.4l4.15 7.4h-8.3zM279.0 245.1v0.6h0.6v-0.6zM272.4 244.2l4.15 7.4h-8.3zM272.1 248.8v0.6h0.6v-0.6zM273.7 244.7l4.15 7.4h-8.3zM273.4 249.4v0.6h0.6v-0.6zM270.6 246.7l4.15 7.4h-8.3zM270.3 251.3v0.6h0.6v-0.6zM276.3 245.3l4.15 7.4h-8.3zM276.0 250.0v0.6h0.6v-0.6zM276.9 245.6l4.15 7.4h-8.3zM276.6 250.3v0.6h0.6v-0.6zM271.0 249.0l4.15 7.4h-8.3zM270.7 253.7v0.6h0.6v-0.6zM276.1 247.5l4.15 7.4h-8.3zM275.8 252.2v0.6h0.6v-0.6zM272.2 249.8l4.15 7.4h-8.3zM272.0 254.4v0.6h0.6v-0.6zM274.4 250.1l4.15 7.4h-8.3zM274.1 254.7v0.6h0.6v-0.6zM277.4 249.8l4.15 7.4h-8.3zM277.2 254.4v0.6h0.6v-0.6zM279.3 250.2l4.15 7.4h-8.3zM279.0 254.8v0.6h0.6v-0.6zM278.4 251.5l4.15 7.4h-8.3zM278.1 256.1v0.6h0.6v-0.6zM278.1 254.3l4.15 7.4h-8.3zM277.8 259.0v0.6h0.6v-0.6zM276.0 254.6l4.15 7.4h-8.3zM275.7 259.3v0.6h0.6v-0.6zM276.7 255.8l4.15 7.4h-8.3zM276.4 260.4v0.6h0.6v-0.6zM274.6 255.9l4.15 7.4h-8.3zM274.3 260.6v0.6h0.6v-0.6zM275.8 256.9l4.15 7.4h-8.3zM275.6 261.6v0.6h0.6v-0.6zM273.4 256.7l4.15 7.4h-8.3zM273.1 261.4v0.6h0.6v-0.6zM280.4 259.8l4.15 7.4h-8.3zM280.1 264.4v0.6h0.6v-0.6zM271.7 257.9l4.15 7.4h-8.3zM271.4 262.5v0.6h0.6v-0.6zM278.2 260.7l4.15 7.4h-8.3zM277.9 265.4v0.6h0.6v-0.6zM274.4 260.3l4.15 7.4h-8.3zM274.2 264.9v0.6h0.6v-0.6zM270.4 259.8l4.15 7.4h-8.3zM270.1 264.4v0.6h0.6v-0.6zM277.3 262.6l4.15 7.4h-8.3zM277.0 267.3v0.6h0.6v-0.6zM278.1 263.4l4.15 7.4h-8.3zM277.8 268.1v0.6h0.6v-0.6zM271.3 262.2l4.15 7.4h-8.3zM271.0 266.9v0.6h0.6v-0.6zM272.0 263.6l4.15 7.4h-8.3zM271.8 268.3v0.6h0.6v-0.6zM269.6 264.5l4.15 7.4h-8.3zM269.3 269.1v0.6h0.6v-0.6zM274.0 265.0l4.15 7.4h-8.3zM273.7 269.6v0.6h0.6v-0.6zM278.3 265.7l4.15 7.4h-8.3zM278.0 270.3v0.6h0.6v-0.6zM276.3 266.8l4.15 7.4h-8.3zM276.0 271.5v0.6h0.6v-0.6zM273.6 267.6l4.15 7.4h-8.3zM273.3 272.2v0.6h0.6v-0.6zM271.7 268.5l4.15 7.4h-8.3zM271.4 273.1v0.6h0.6v-0.6zM272.1 269.1l4.15 7.4h-8.3zM271.8 273.7v0.6h0.6v-0.6zM272.0 269.6l4.15 7.4h-8.3zM271.7 274.2v0.6h0.6v-0.6zM266.8 270.5l4.15 7.4h-8.3zM266.5 275.1v0.6h0.6v-0.6zM267.0 271.0l4.15 7.4h-8.3zM266.7 275.7v0.6h0.6v-0.6zM272.0 272.1l4.15 7.4h-8.3zM271.7 276.7v0.6h0.6v-0.6zM272.0 273.0l4.15 7.4h-8.3zM271.7 277.7v0.6h0.6v-0.6zM272.6 273.6l4.15 7.4h-8.3zM272.3 278.3v0.6h0.6v-0.6zM272.6 273.6l4.15 7.4h-8.3zM272.3 278.3v0.6h0.6v-0.6zM274.5 274.5l4.15 7.4h-8.3zM274.2 279.2v0.6h0.6v-0.6zM276.8 274.2l4.15 7.4h-8.3zM276.5 278.9v0.6h0.6v-0.6zM277.6 275.2l4.15 7.4h-8.3zM277.3 279.9v0.6h0.6v-0.6zM279.1 275.8l4.15 7.4h-8.3zM278.8 280.5v0.6h0.6v-0.6zM280.9 277.5l4.15 7.4h-8.3zM280.6 282.1v0.6h0.6v-0.6zM281.8 280.2l4.15 7.4h-8.3zM281.5 284.8v0.6h0.6v-0.6zM283.1 279.8l4.15 7.4h-8.3zM282.9 284.5v0.6h0.6v-0.6zM285.5 279.8l4.15 7.4h-8.3zM285.2 284.5v0.6h0.6v-0.6zM286.8 279.8l4.15 7.4h-8.3zM286.5 284.4v0.6h0.6v-0.6zM287.2 281.8l4.15 7.4h-8.3zM286.9 286.5v0.6h0.6v-0.6zM289.8 281.5l4.15 7.4h-8.3zM289.5 286.2v0.6h0.6v-0.6zM291.0 282.4l4.15 7.4h-8.3zM290.7 287.1v0.6h0.6v-0.6zM293.1 282.2l4.15 7.4h-8.3zM292.8 286.9v0.6h0.6v-0.6zM293.5 284.2l4.15 7.4h-8.3zM293.2 288.8v0.6h0.6v-0.6zM295.9 284.0l4.15 7.4h-8.3zM295.7 288.7v0.6h0.6v-0.6zM296.9 286.3l4.15 7.4h-8.3zM296.6 291.0v0.6h0.6v-0.6zM299.2 285.3l4.15 7.4h-8.3zM298.9 290.0v0.6h0.6v-0.6zM300.3 288.1l4.15 7.4h-8.3zM300.1 292.8v0.6h0.6v-0.6zM302.9 287.7l4.15 7.4h-8.3zM302.6 292.3v0.6h0.6v-0.6zM303.7 288.5l4.15 7.4h-8.3zM303.5 293.1v0.6h0.6v-0.6zM305.9 289.4l4.15 7.4h-8.3zM305.6 294.0v0.6h0.6v-0.6zM307.7 289.1l4.15 7.4h-8.3zM307.4 293.8v0.6h0.6v-0.6zM308.4 292.5l4.15 7.4h-8.3zM308.1 297.1v0.6h0.6v-0.6zM310.6 291.3l4.15 7.4h-8.3zM310.3 295.9v0.6h0.6v-0.6zM312.3 290.4l4.15 7.4h-8.3zM312.0 295.0v0.6h0.6v-0.6zM313.2 292.9l4.15 7.4h-8.3zM313.0 297.6v0.6h0.6v-0.6zM315.6 291.3l4.15 7.4h-8.3zM315.4 296.0v0.6h0.6v-0.6zM317.6 292.2l4.15 7.4h-8.3zM317.3 296.8v0.6h0.6v-0.6zM318.6 294.1l4.15 7.4h-8.3zM318.3 298.8v0.6h0.6v-0.6zM320.3 293.9l4.15 7.4h-8.3zM320.0 298.6v0.6h0.6v-0.6zM321.9 295.0l4.15 7.4h-8.3zM321.6 299.7v0.6h0.6v-0.6zM323.5 293.1l4.15 7.4h-8.3zM323.2 297.8v0.6h0.6v-0.6zM324.9 295.7l4.15 7.4h-8.3zM324.7 300.4v0.6h0.6v-0.6zM327.4 294.4l4.15 7.4h-8.3zM327.1 299.1v0.6h0.6v-0.6zM327.8 297.1l4.15 7.4h-8.3zM327.6 301.8v0.6h0.6v-0.6zM330.4 295.9l4.15 7.4h-8.3zM330.1 300.6v0.6h0.6v-0.6zM332.2 297.6l4.15 7.4h-8.3zM331.9 302.3v0.6h0.6v-0.6zM342.7 303.5l4.15 7.4h-8.3zM342.4 308.2v0.6h0.6v-0.6zM347.0 302.3l4.15 7.4h-8.3zM346.7 307.0v0.6h0.6v-0.6zM351.2 301.8l4.15 7.4h-8.3zM350.9 306.5v0.6h0.6v-0.6zM349.0 300.3l4.15 7.4h-8.3zM348.7 305.0v0.6h0.6v-0.6zM364.9 306.6l4.15 7.4h-8.3zM364.6 311.3v0.6h0.6v-0.6zM368.0 307.3l4.15 7.4h-8.3zM367.7 312.0v0.6h0.6v-0.6zM372.3 308.8l4.15 7.4h-8.3zM372.0 313.5v0.6h0.6v-0.6zM391.4 312.1l4.15 7.4h-8.3zM391.1 316.8v0.6h0.6v-0.6zM393.9 312.4l4.15 7.4h-8.3zM393.6 317.0v0.6h0.6v-0.6zM396.5 313.3l4.15 7.4h-8.3zM396.2 317.9v0.6h0.6v-0.6zM398.2 311.4l4.15 7.4h-8.3zM397.9 316.1v0.6h0.6v-0.6zM400.1 311.7l4.15 7.4h-8.3zM399.8 316.4v0.6h0.6v-0.6zM401.6 312.4l4.15 7.4h-8.3zM401.3 317.1v0.6h0.6v-0.6zM403.9 313.8l4.15 7.4h-8.3zM403.6 318.4v0.6h0.6v-0.6zM405.9 313.9l4.15 7.4h-8.3zM405.6 318.6v0.6h0.6v-0.6zM408.3 313.8l4.15 7.4h-8.3zM408.0 318.5v0.6h0.6v-0.6zM410.1 312.0l4.15 7.4h-8.3zM409.8 316.7v0.6h0.6v-0.6zM412.6 312.9l4.15 7.4h-8.3zM412.4 317.6v0.6h0.6v-0.6zM414.7 313.0l4.15 7.4h-8.3zM414.4 317.6v0.6h0.6v-0.6zM426.3 318.3l4.15 7.4h-8.3zM426.0 323.0v0.6h0.6v-0.6zM432.7 318.3l4.15 7.4h-8.3zM432.4 323.0v0.6h0.6v-0.6zM441.1 318.3l4.15 7.4h-8.3zM440.8 323.0v0.6h0.6v-0.6zM445.4 318.7l4.15 7.4h-8.3zM445.1 323.4v0.6h0.6v-0.6zM483.5 318.7l4.15 7.4h-8.3zM483.2 323.4v0.6h0.6v-0.6zM501.5 319.8l4.15 7.4h-8.3zM501.2 324.5v0.6h0.6v-0.6zM506.8 320.4l4.15 7.4h-8.3zM506.5 325.1v0.6h0.6v-0.6zM511.0 321.5l4.15 7.4h-8.3zM510.7 326.2v0.6h0.6v-0.6zM534.4 322.6l4.15 7.4h-8.3zM534.1 327.3v0.6h0.6v-0.6zM546.5 322.8l4.15 7.4h-8.3zM546.2 327.5v0.6h0.6v-0.6zM549.6 323.4l4.15 7.4h-8.3zM549.3 328.1v0.6h0.6v-0.6zM563.4 323.8l4.15 7.4h-8.3zM563.1 328.5v0.6h0.6v-0.6zM569.8 324.2l4.15 7.4h-8.3zM569.5 328.9v0.6h0.6v-0.6zM576.1 324.2l4.15 7.4h-8.3zM575.8 328.9v0.6h0.6v-0.6zM580.3 324.9l4.15 7.4h-8.3zM580.0 329.6v0.6h0.6v-0.6zM587.7 327.1l4.15 7.4h-8.3zM587.4 331.8v0.6h0.6v-0.6zM589.6 327.7l4.15 7.4h-8.3zM589.3 332.4v0.6h0.6v-0.6zM591.8 328.5l4.15 7.4h-8.3zM591.5 333.2v0.6h0.6v-0.6zM594.7 327.2l4.15 7.4h-8.3zM594.5 331.9v0.6h0.6v-0.6zM596.4 328.6l4.15 7.4h-8.3zM596.2 333.3v0.6h0.6v-0.6zM598.1 329.0l4.15 7.4h-8.3zM597.8 333.7v0.6h0.6v-0.6zM599.9 328.6l4.15 7.4h-8.3zM599.6 333.2v0.6h0.6v-0.6zM602.7 329.2l4.15 7.4h-8.3zM602.5 333.8v0.6h0.6v-0.6zM605.6 329.1l4.15 7.4h-8.3zM605.3 333.8v0.6h0.6v-0.6zM607.8 329.8l4.15 7.4h-8.3zM607.5 334.4v0.6h0.6v-0.6zM609.4 330.1l4.15 7.4h-8.3zM609.1 334.8v0.6h0.6v-0.6zM612.8 331.3l4.15 7.4h-8.3zM612.6 335.9v0.6h0.6v-0.6zM615.7 330.6l4.15 7.4h-8.3zM615.5 335.3v0.6h0.6v-0.6zM617.7 331.7l4.15 7.4h-8.3zM617.4 336.4v0.6h0.6v-0.6zM621.3 331.5l4.15 7.4h-8.3zM621.0 336.2v0.6h0.6v-0.6zM624.1 333.6l4.15 7.4h-8.3zM623.8 338.2v0.6h0.6v-0.6zM626.7 331.8l4.15 7.4h-8.3zM626.4 336.5v0.6h0.6v-0.6zM627.8 333.9l4.15 7.4h-8.3zM627.6 338.6v0.6h0.6v-0.6zM629.4 334.7l4.15 7.4h-8.3zM629.2 339.3v0.6h0.6v-0.6zM631.5 333.4l4.15 7.4h-8.3zM631.2 338.0v0.6h0.6v-0.6zM633.7 334.8l4.15 7.4h-8.3zM633.4 339.5v0.6h0.6v-0.6zM648.1 337.8l4.15 7.4h-8.3zM647.8 342.5v0.6h0.6v-0.6zM650.9 337.9l4.15 7.4h-8.3zM650.6 342.5v0.6h0.6v-0.6zM653.1 339.6l4.15 7.4h-8.3zM652.8 344.3v0.6h0.6v-0.6zM655.1 339.8l4.15 7.4h-8.3zM654.9 344.5v0.6h0.6v-0.6zM658.2 337.9l4.15 7.4h-8.3zM657.9 342.6v0.6h0.6v-0.6zM661.3 338.5l4.15 7.4h-8.3zM661.0 343.2v0.6h0.6v-0.6zM663.2 340.1l4.15 7.4h-8.3zM663.0 344.8v0.6h0.6v-0.6zM666.5 341.7l4.15 7.4h-8.3zM666.2 346.4v0.6h0.6v-0.6zM670.0 342.7l4.15 7.4h-8.3zM669.7 347.4v0.6h0.6v-0.6zM671.9 343.4l4.15 7.4h-8.3zM671.7 348.1v0.6h0.6v-0.6zM673.9 345.1l4.15 7.4h-8.3zM673.6 349.7v0.6h0.6v-0.6zM677.6 343.9l4.15 7.4h-8.3zM677.3 348.6v0.6h0.6v-0.6zM678.9 345.4l4.15 7.4h-8.3zM678.6 350.1v0.6h0.6v-0.6zM682.1 345.2l4.15 7.4h-8.3zM681.8 349.8v0.6h0.6v-0.6zM684.9 347.8l4.15 7.4h-8.3zM684.7 352.5v0.6h0.6v-0.6zM687.9 348.8l4.15 7.4h-8.3zM687.7 353.4v0.6h0.6v-0.6zM691.2 350.0l4.15 7.4h-8.3zM691.0 354.7v0.6h0.6v-0.6zM693.7 351.3l4.15 7.4h-8.3zM693.5 355.9v0.6h0.6v-0.6zM691.5 353.5l4.15 7.4h-8.3zM691.2 358.2v0.6h0.6v-0.6zM706.3 354.5l4.15 7.4h-8.3zM706.0 359.2v0.6h0.6v-0.6zM712.7 356.6l4.15 7.4h-8.3zM712.4 361.3v0.6h0.6v-0.6zM719.0 357.3l4.15 7.4h-8.3zM718.7 362.0v0.6h0.6v-0.6zM731.7 358.8l4.15 7.4h-8.3zM731.4 363.5v0.6h0.6v-0.6zM738.1 359.2l4.15 7.4h-8.3zM737.8 363.9v0.6h0.6v-0.6zM764.5 359.4l4.15 7.4h-8.3zM764.2 364.1v0.6h0.6v-0.6zM769.8 359.8l4.15 7.4h-8.3zM769.5 364.5v0.6h0.6v-0.6zM777.2 362.4l4.15 7.4h-8.3zM776.9 367.1v0.6h0.6v-0.6zM781.5 363.6l4.15 7.4h-8.3zM781.2 368.3v0.6h0.6v-0.6zM796.3 364.5l4.15 7.4h-8.3zM796.0 369.2v0.6h0.6v-0.6zM801.6 364.5l4.15 7.4h-8.3zM801.3 369.2v0.6h0.6v-0.6zM810.0 366.2l4.15 7.4h-8.3zM809.7 370.9v0.6h0.6v-0.6zM813.7 369.7l4.15 7.4h-8.3zM813.5 374.3v0.6h0.6v-0.6zM815.4 370.3l4.15 7.4h-8.3zM815.1 375.0v0.6h0.6v-0.6zM817.1 370.3l4.15 7.4h-8.3zM816.8 375.0v0.6h0.6v-0.6zM818.5 371.4l4.15 7.4h-8.3zM818.2 376.1v0.6h0.6v-0.6zM820.0 372.0l4.15 7.4h-8.3zM819.7 376.6v0.6h0.6v-0.6zM822.3 373.0l4.15 7.4h-8.3zM822.1 377.6v0.6h0.6v-0.6zM823.3 375.0l4.15 7.4h-8.3zM823.0 379.6v0.6h0.6v-0.6zM825.3 374.7l4.15 7.4h-8.3zM825.0 379.4v0.6h0.6v-0.6zM827.7 376.4l4.15 7.4h-8.3zM827.5 381.1v0.6h0.6v-0.6zM829.9 375.4l4.15 7.4h-8.3zM829.6 380.1v0.6h0.6v-0.6zM831.0 378.2l4.15 7.4h-8.3zM830.7 382.8v0.6h0.6v-0.6zM834.0 378.7l4.15 7.4h-8.3zM833.7 383.4v0.6h0.6v-0.6zM836.6 377.7l4.15 7.4h-8.3zM836.3 382.3v0.6h0.6v-0.6zM839.2 378.7l4.15 7.4h-8.3zM839.0 383.3v0.6h0.6v-0.6zM841.4 378.5l4.15 7.4h-8.3zM841.2 383.2v0.6h0.6v-0.6zM843.1 378.7l4.15 7.4h-8.3zM842.9 383.3v0.6h0.6v-0.6zM844.5 378.9l4.15 7.4h-8.3zM844.3 383.6v0.6h0.6v-0.6zM846.2 378.5l4.15 7.4h-8.3zM845.9 383.2v0.6h0.6v-0.6zM848.9 379.5l4.15 7.4h-8.3zM848.6 384.2v0.6h0.6v-0.6zM850.4 380.3l4.15 7.4h-8.3zM850.2 385.0v0.6h0.6v-0.6zM852.2 380.2l4.15 7.4h-8.3zM852.0 384.9v0.6h0.6v-0.6zM854.0 379.8l4.15 7.4h-8.3zM853.7 384.4v0.6h0.6v-0.6zM856.1 380.0l4.15 7.4h-8.3zM855.8 384.7v0.6h0.6v-0.6zM857.3 382.0l4.15 7.4h-8.3zM857.1 386.6v0.6h0.6v-0.6zM860.3 382.5l4.15 7.4h-8.3zM860.1 387.1v0.6h0.6v-0.6zM862.9 382.2l4.15 7.4h-8.3zM862.7 386.8v0.6h0.6v-0.6zM864.7 381.5l4.15 7.4h-8.3zM864.5 386.2v0.6h0.6v-0.6zM866.4 382.4l4.15 7.4h-8.3zM866.1 387.1v0.6h0.6v-0.6zM868.3 381.5l4.15 7.4h-8.3zM868.0 386.2v0.6h0.6v-0.6zM870.8 384.7l4.15 7.4h-8.3zM870.5 389.4v0.6h0.6v-0.6zM873.8 384.4l4.15 7.4h-8.3zM873.6 389.0v0.6h0.6v-0.6zM876.7 384.9l4.15 7.4h-8.3zM876.4 389.5v0.6h0.6v-0.6zM878.2 384.8l4.15 7.4h-8.3zM877.9 389.5v0.6h0.6v-0.6zM881.2 385.0l4.15 7.4h-8.3zM880.9 389.6v0.6h0.6v-0.6zM882.4 385.9l4.15 7.4h-8.3zM882.2 390.5v0.6h0.6v-0.6zM884.1 385.4l4.15 7.4h-8.3zM883.8 390.1v0.6h0.6v-0.6zM885.3 386.5l4.15 7.4h-8.3zM885.0 391.2v0.6h0.6v-0.6zM887.0 385.8l4.15 7.4h-8.3zM886.8 390.5v0.6h0.6v-0.6zM888.9 387.1l4.15 7.4h-8.3zM888.7 391.8v0.6h0.6v-0.6zM891.3 386.9l4.15 7.4h-8.3zM891.1 391.6v0.6h0.6v-0.6zM883.6 393.0l4.15 7.4h-8.3zM883.3 397.7v0.6h0.6v-0.6zM886.1 394.0l4.15 7.4h-8.3zM885.8 398.6v0.6h0.6v-0.6zM887.8 393.6l4.15 7.4h-8.3zM887.5 398.3v0.6h0.6v-0.6zM890.2 393.9l4.15 7.4h-8.3zM889.9 398.6v0.6h0.6v-0.6zM892.4 394.2l4.15 7.4h-8.3zM892.1 398.8v0.6h0.6v-0.6zM894.7 395.1l4.15 7.4h-8.3zM894.4 399.7v0.6h0.6v-0.6zM897.2 395.4l4.15 7.4h-8.3zM896.9 400.1v0.6h0.6v-0.6zM899.0 394.7l4.15 7.4h-8.3zM898.8 399.4v0.6h0.6v-0.6zM900.3 395.7l4.15 7.4h-8.3zM900.0 400.3v0.6h0.6v-0.6zM903.0 395.7l4.15 7.4h-8.3zM902.7 400.4v0.6h0.6v-0.6zM904.2 396.9l4.15 7.4h-8.3zM903.9 401.5v0.6h0.6v-0.6zM907.0 396.9l4.15 7.4h-8.3zM906.8 401.5v0.6h0.6v-0.6zM909.7 397.9l4.15 7.4h-8.3zM909.4 402.6v0.6h0.6v-0.6zM912.5 398.7l4.15 7.4h-8.3zM912.2 403.4v0.6h0.6v-0.6zM914.5 399.6l4.15 7.4h-8.3zM914.3 404.2v0.6h0.6v-0.6zM916.3 399.3l4.15 7.4h-8.3zM916.0 404.0v0.6h0.6v-0.6zM919.0 400.1l4.15 7.4h-8.3zM918.7 404.7v0.6h0.6v-0.6zM920.8 401.0l4.15 7.4h-8.3zM920.5 405.6v0.6h0.6v-0.6zM923.0 402.0l4.15 7.4h-8.3zM922.7 406.6v0.6h0.6v-0.6zM925.2 401.7l4.15 7.4h-8.3zM924.9 406.4v0.6h0.6v-0.6zM927.2 402.9l4.15 7.4h-8.3zM926.9 407.5v0.6h0.6v-0.6zM929.9 403.4l4.15 7.4h-8.3zM929.6 408.1v0.6h0.6v-0.6zM932.9 403.0l4.15 7.4h-8.3zM932.7 407.7v0.6h0.6v-0.6zM934.6 404.7l4.15 7.4h-8.3zM934.3 409.4v0.6h0.6v-0.6zM937.3 405.5l4.15 7.4h-8.3zM937.0 410.1v0.6h0.6v-0.6zM940.3 405.0l4.15 7.4h-8.3zM940.1 409.7v0.6h0.6v-0.6zM942.6 404.0l4.15 7.4h-8.3zM942.3 408.6v0.6h0.6v-0.6zM944.8 404.8l4.15 7.4h-8.3zM944.5 409.5v0.6h0.6v-0.6zM946.1 405.4l4.15 7.4h-8.3zM945.9 410.0v0.6h0.6v-0.6zM947.8 405.0l4.15 7.4h-8.3zM947.5 409.7v0.6h0.6v-0.6zM949.3 405.2l4.15 7.4h-8.3zM949.0 409.8v0.6h0.6v-0.6zM950.6 406.4l4.15 7.4h-8.3zM950.3 411.0v0.6h0.6v-0.6zM952.2 405.3l4.15 7.4h-8.3zM951.9 409.9v0.6h0.6v-0.6zM953.5 405.1l4.15 7.4h-8.3zM953.3 409.8v0.6h0.6v-0.6zM955.9 405.0l4.15 7.4h-8.3zM955.6 409.7v0.6h0.6v-0.6zM958.4 405.5l4.15 7.4h-8.3zM958.2 410.1v0.6h0.6v-0.6zM959.9 406.5l4.15 7.4h-8.3zM959.6 411.2v0.6h0.6v-0.6zM961.3 405.2l4.15 7.4h-8.3zM961.1 409.8v0.6h0.6v-0.6zM962.9 405.2l4.15 7.4h-8.3zM962.6 409.9v0.6h0.6v-0.6zM964.7 406.0l4.15 7.4h-8.3zM964.4 410.6v0.6h0.6v-0.6zM966.2 405.7l4.15 7.4h-8.3zM965.9 410.4v0.6h0.6v-0.6zM968.6 406.2l4.15 7.4h-8.3zM968.3 410.9v0.6h0.6v-0.6zM971.4 406.6l4.15 7.4h-8.3zM971.1 411.2v0.6h0.6v-0.6zM974.0 406.8l4.15 7.4h-8.3zM973.7 411.5v0.6h0.6v-0.6zM975.6 406.9l4.15 7.4h-8.3zM975.4 411.5v0.6h0.6v-0.6zM977.7 405.0l4.15 7.4h-8.3zM977.4 409.7v0.6h0.6v-0.6zM979.6 406.9l4.15 7.4h-8.3zM979.3 411.5v0.6h0.6v-0.6zM981.8 406.5l4.15 7.4h-8.3zM981.5 411.1v0.6h0.6v-0.6zM984.4 408.0l4.15 7.4h-8.3zM984.2 412.6v0.6h0.6v-0.6zM986.3 407.9l4.15 7.4h-8.3zM986.0 412.5v0.6h0.6v-0.6zM988.4 407.4l4.15 7.4h-8.3zM988.1 412.1v0.6h0.6v-0.6zM990.4 410.3l4.15 7.4h-8.3zM990.1 415.0v0.6h0.6v-0.6zM993.3 410.9l4.15 7.4h-8.3zM993.0 415.6v0.6h0.6v-0.6zM977.9 405.6l4.15 7.4h-8.3zM977.6 410.3v0.6h0.6v-0.6zM982.8 407.0l4.15 7.4h-8.3zM982.5 411.7v0.6h0.6v-0.6zM988.4 408.4l4.15 7.4h-8.3zM988.1 413.1v0.6h0.6v-0.6zM992.7 409.1l4.15 7.4h-8.3zM992.4 413.8v0.6h0.6v-0.6zM996.2 409.9l4.15 7.4h-8.3zM995.9 414.6v0.6h0.6v-0.6zM999.0 412.5l4.15 7.4h-8.3zM998.7 417.2v0.6h0.6v-0.6zM1025.6 413.8l4.15 7.4h-8.3zM1025.3 418.5v0.6h0.6v-0.6zM1032.0 413.8l4.15 7.4h-8.3zM1031.7 418.5v0.6h0.6v-0.6zM1037.2 413.8l4.15 7.4h-8.3zM1036.9 418.5v0.6h0.6v-0.6zM1043.6 414.9l4.15 7.4h-8.3zM1043.3 419.6v0.6h0.6v-0.6zM1063.5 415.2l4.15 7.4h-8.3zM1063.2 419.9v0.6h0.6v-0.6zM1073.4 416.6l4.15 7.4h-8.3zM1073.1 421.3v0.6h0.6v-0.6zM1077.0 416.6l4.15 7.4h-8.3zM1076.7 421.3v0.6h0.6v-0.6zM1081.9 418.1l4.15 7.4h-8.3zM1081.6 422.8v0.6h0.6v-0.6zM1085.4 418.1l4.15 7.4h-8.3zM1085.1 422.8v0.6h0.6v-0.6zM1092.4 419.5l4.15 7.4h-8.3zM1092.1 424.2v0.6h0.6v-0.6zM1096.0 420.2l4.15 7.4h-8.3zM1095.7 424.9v0.6h0.6v-0.6zM1099.5 420.2l4.15 7.4h-8.3zM1099.2 424.9v0.6h0.6v-0.6zM1105.6 421.6l4.15 7.4h-8.3zM1105.3 426.3v0.6h0.6v-0.6zM1117.1 422.7l4.15 7.4h-8.3zM1116.8 427.4v0.6h0.6v-0.6zM1126.3 423.0l4.15 7.4h-8.3zM1126.0 427.7v0.6h0.6v-0.6zM1131.3 423.7l4.15 7.4h-8.3zM1131.0 428.4v0.6h0.6v-0.6zM1135.5 424.4l4.15 7.4h-8.3zM1135.2 429.1v0.6h0.6v-0.6zM1139.7 425.1l4.15 7.4h-8.3zM1139.4 429.8v0.6h0.6v-0.6zM1143.0 425.5l4.15 7.4h-8.3zM1142.7 430.2v0.6h0.6v-0.6zM1146.0 425.8l4.15 7.4h-8.3zM1145.7 430.5v0.6h0.6v-0.6zM1151.0 427.2l4.15 7.4h-8.3zM1150.7 431.9v0.6h0.6v-0.6zM1154.0 428.3l4.15 7.4h-8.3zM1153.7 433.0v0.6h0.6v-0.6zM1158.1 429.4l4.15 7.4h-8.3zM1157.9 434.0v0.6h0.6v-0.6zM1155.2 431.6l4.15 7.4h-8.3zM1154.9 436.3v0.6h0.6v-0.6zM1157.8 431.0l4.15 7.4h-8.3zM1157.5 435.6v0.6h0.6v-0.6zM1158.1 431.6l4.15 7.4h-8.3zM1157.8 436.2v0.6h0.6v-0.6zM1158.4 432.2l4.15 7.4h-8.3zM1158.2 436.8v0.6h0.6v-0.6zM1159.0 432.4l4.15 7.4h-8.3zM1158.7 437.1v0.6h0.6v-0.6zM1157.9 433.5l4.15 7.4h-8.3zM1157.6 438.1v0.6h0.6v-0.6zM1157.1 434.4l4.15 7.4h-8.3zM1156.9 439.0v0.6h0.6v-0.6zM1159.2 434.4l4.15 7.4h-8.3zM1158.9 439.1v0.6h0.6v-0.6zM1158.7 435.5l4.15 7.4h-8.3zM1158.4 440.2v0.6h0.6v-0.6zM1161.3 435.4l4.15 7.4h-8.3zM1161.0 440.1v0.6h0.6v-0.6zM1160.2 436.3l4.15 7.4h-8.3zM1159.9 441.0v0.6h0.6v-0.6zM1160.6 437.0l4.15 7.4h-8.3zM1160.3 441.7v0.6h0.6v-0.6zM1162.1 437.0l4.15 7.4h-8.3zM1161.9 441.7v0.6h0.6v-0.6zM1161.1 438.3l4.15 7.4h-8.3zM1160.8 442.9v0.6h0.6v-0.6zM1161.7 438.6l4.15 7.4h-8.3zM1161.4 443.3v0.6h0.6v-0.6zM1161.3 439.8l4.15 7.4h-8.3zM1161.0 444.5v0.6h0.6v-0.6zM1161.8 440.3l4.15 7.4h-8.3zM1161.5 444.9v0.6h0.6v-0.6zM1160.4 441.3l4.15 7.4h-8.3zM1160.1 446.0v0.6h0.6v-0.6zM1160.9 442.0l4.15 7.4h-8.3zM1160.6 446.6v0.6h0.6v-0.6zM1162.3 442.0l4.15 7.4h-8.3zM1162.0 446.7v0.6h0.6v-0.6zM1162.7 442.6l4.15 7.4h-8.3zM1162.5 447.2v0.6h0.6v-0.6zM1162.5 442.8l4.15 7.4h-8.3zM1162.2 447.4v0.6h0.6v-0.6zM1162.8 443.2l4.15 7.4h-8.3zM1162.5 447.9v0.6h0.6v-0.6zM1160.9 444.1l4.15 7.4h-8.3zM1160.6 448.8v0.6h0.6v-0.6zM1160.9 444.7l4.15 7.4h-8.3zM1160.6 449.3v0.6h0.6v-0.6zM1161.7 445.5l4.15 7.4h-8.3zM1161.4 450.1v0.6h0.6v-0.6zM1164.9 445.7l4.15 7.4h-8.3zM1164.6 450.4v0.6h0.6v-0.6zM1163.9 446.4l4.15 7.4h-8.3zM1163.6 451.1v0.6h0.6v-0.6zM1165.0 447.0l4.15 7.4h-8.3zM1164.7 451.7v0.6h0.6v-0.6zM1162.7 448.2l4.15 7.4h-8.3zM1162.4 452.9v0.6h0.6v-0.6zM1163.7 448.7l4.15 7.4h-8.3zM1163.5 453.4v0.6h0.6v-0.6zM1162.3 449.5l4.15 7.4h-8.3zM1162.0 454.2v0.6h0.6v-0.6zM1165.1 449.8l4.15 7.4h-8.3zM1164.8 454.4v0.6h0.6v-0.6zM1162.2 450.7l4.15 7.4h-8.3zM1161.9 455.3v0.6h0.6v-0.6zM1162.9 451.2l4.15 7.4h-8.3zM1162.6 455.8v0.6h0.6v-0.6zM1164.6 451.8l4.15 7.4h-8.3zM1164.3 456.4v0.6h0.6v-0.6zM1164.7 452.5l4.15 7.4h-8.3zM1164.5 457.1v0.6h0.6v-0.6zM1159.1 453.1l4.15 7.4h-8.3zM1158.8 457.7v0.6h0.6v-0.6zM1163.4 453.9l4.15 7.4h-8.3zM1163.1 458.6v0.6h0.6v-0.6zM1163.2 454.8l4.15 7.4h-8.3zM1162.9 459.5v0.6h0.6v-0.6zM1162.2 455.5l4.15 7.4h-8.3zM1162.0 460.2v0.6h0.6v-0.6zM1163.1 456.2l4.15 7.4h-8.3zM1162.8 460.8v0.6h0.6v-0.6zM1162.8 457.0l4.15 7.4h-8.3zM1162.5 461.7v0.6h0.6v-0.6zM1163.0 458.0l4.15 7.4h-8.3zM1162.7 462.6v0.6h0.6v-0.6zM1162.9 458.8l4.15 7.4h-8.3zM1162.6 463.4v0.6h0.6v-0.6zM1162.5 459.4l4.15 7.4h-8.3zM1162.2 464.1v0.6h0.6v-0.6zM1166.0 460.2l4.15 7.4h-8.3zM1165.7 464.9v0.6h0.6v-0.6zM1165.8 461.1l4.15 7.4h-8.3zM1165.5 465.7v0.6h0.6v-0.6zM1163.9 461.8l4.15 7.4h-8.3zM1163.6 466.5v0.6h0.6v-0.6zM1164.3 458.0l4.15 7.4h-8.3zM1164.0 462.7v0.6h0.6v-0.6zM1166.6 460.3l4.15 7.4h-8.3zM1166.3 465.0v0.6h0.6v-0.6zM1160.8 459.5l4.15 7.4h-8.3zM1160.5 464.2v0.6h0.6v-0.6zM1159.5 457.7l4.15 7.4h-8.3zM1159.3 462.4v0.6h0.6v-0.6zM1165.4 453.0l4.15 7.4h-8.3zM1165.1 457.7v0.6h0.6v-0.6zM1169.1 454.3l4.15 7.4h-8.3zM1168.9 459.0v0.6h0.6v-0.6zM1163.7 458.0l4.15 7.4h-8.3zM1163.4 462.7v0.6h0.6v-0.6zM1168.2 454.9l4.15 7.4h-8.3zM1168.0 459.6v0.6h0.6v-0.6zM1163.3 452.2l4.15 7.4h-8.3zM1163.0 456.9v0.6h0.6v-0.6zM1164.1 457.0l4.15 7.4h-8.3zM1163.8 461.6v0.6h0.6v-0.6zM1162.4 451.1l4.15 7.4h-8.3zM1162.2 455.8v0.6h0.6v-0.6zM1165.1 451.0l4.15 7.4h-8.3zM1164.8 455.7v0.6h0.6v-0.6zM1162.7 458.1l4.15 7.4h-8.3zM1162.4 462.7v0.6h0.6v-0.6zM1168.0 453.0l4.15 7.4h-8.3zM1167.7 457.7v0.6h0.6v-0.6zM1163.9 447.5l4.15 7.4h-8.3zM1163.7 452.2v0.6h0.6v-0.6zM1162.5 446.8l4.15 7.4h-8.3zM1162.3 451.5v0.6h0.6v-0.6zM1165.3 454.5l4.15 7.4h-8.3zM1165.0 459.1v0.6h0.6v-0.6zM1160.4 460.4l4.15 7.4h-8.3zM1160.1 465.1v0.6h0.6v-0.6zM1162.7 459.1l4.15 7.4h-8.3zM1162.5 463.7v0.6h0.6v-0.6zM1167.9 461.1l4.15 7.4h-8.3zM1167.6 465.7v0.6h0.6v-0.6zM1161.5 451.8l4.15 7.4h-8.3zM1161.3 456.4v0.6h0.6v-0.6zM1168.6 444.5l4.15 7.4h-8.3zM1168.3 449.1v0.6h0.6v-0.6zM1160.0 454.2l4.15 7.4h-8.3zM1159.7 458.8v0.6h0.6v-0.6zM1164.5 460.4l4.15 7.4h-8.3zM1164.2 465.1v0.6h0.6v-0.6zM1167.2 453.7l4.15 7.4h-8.3zM1167.0 458.4v0.6h0.6v-0.6zM1169.5 453.4l4.15 7.4h-8.3zM1169.2 458.0v0.6h0.6v-0.6zM1164.7 456.3l4.15 7.4h-8.3zM1164.4 460.9v0.6h0.6v-0.6zM1163.4 450.6l4.15 7.4h-8.3zM1163.1 455.2v0.6h0.6v-0.6zM1165.4 450.4l4.15 7.4h-8.3zM1165.2 455.1v0.6h0.6v-0.6zM1169.0 456.1l4.15 7.4h-8.3zM1168.7 460.8v0.6h0.6v-0.6zM1164.8 446.0l4.15 7.4h-8.3zM1164.5 450.7v0.6h0.6v-0.6zM1163.2 451.3l4.15 7.4h-8.3zM1163.0 456.0v0.6h0.6v-0.6zM1165.1 454.3l4.15 7.4h-8.3zM1164.8 459.0v0.6h0.6v-0.6zM1168.3 461.2l4.15 7.4h-8.3zM1168.0 465.8v0.6h0.6v-0.6zM1164.4 452.0l4.15 7.4h-8.3zM1164.1 456.7v0.6h0.6v-0.6zM1165.7 461.7l4.15 7.4h-8.3zM1165.5 466.4v0.6h0.6v-0.6zM1162.9 453.6l4.15 7.4h-8.3zM1162.7 458.2v0.6h0.6v-0.6zM1167.7 447.3l4.15 7.4h-8.3zM1167.4 451.9v0.6h0.6v-0.6zM1162.7 461.4l4.15 7.4h-8.3zM1162.4 466.1v0.6h0.6v-0.6zM1167.8 453.3l4.15 7.4h-8.3zM1167.5 457.9v0.6h0.6v-0.6zM1160.6 460.0l4.15 7.4h-8.3zM1160.3 464.6v0.6h0.6v-0.6zM1166.4 458.7l4.15 7.4h-8.3zM1166.1 463.3v0.6h0.6v-0.6zM1169.4 459.8l4.15 7.4h-8.3zM1169.1 464.5v0.6h0.6v-0.6zM1163.7 447.0l4.15 7.4h-8.3zM1163.4 451.7v0.6h0.6v-0.6zM1162.4 453.3l4.15 7.4h-8.3zM1162.1 457.9v0.6h0.6v-0.6zM1164.5 447.6l4.15 7.4h-8.3zM1164.3 452.3v0.6h0.6v-0.6zM1161.3 455.3l4.15 7.4h-8.3zM1161.0 460.0v0.6h0.6v-0.6zM1165.5 450.5l4.15 7.4h-8.3zM1165.3 455.1v0.6h0.6v-0.6zM1169.4 455.4l4.15 7.4h-8.3zM1169.2 460.1v0.6h0.6v-0.6zM1159.9 451.5l4.15 7.4h-8.3zM1159.6 456.2v0.6h0.6v-0.6zM1167.4 449.7l4.15 7.4h-8.3zM1167.1 454.3v0.6h0.6v-0.6zM1166.4 444.4l4.15 7.4h-8.3zM1166.1 449.0v0.6h0.6v-0.6zM1162.5 459.0l4.15 7.4h-8.3zM1162.3 463.7v0.6h0.6v-0.6zM1165.4 456.0l4.15 7.4h-8.3zM1165.1 460.7v0.6h0.6v-0.6zM1161.5 453.0l4.15 7.4h-8.3zM1161.2 457.7v0.6h0.6v-0.6zM1165.0 449.0l4.15 7.4h-8.3zM1164.8 453.6v0.6h0.6v-0.6zM1166.0 453.6l4.15 7.4h-8.3zM1165.7 458.3v0.6h0.6v-0.6zM1169.5 454.4l4.15 7.4h-8.3zM1169.2 459.0v0.6h0.6v-0.6zM1163.6 446.4l4.15 7.4h-8.3zM1163.3 451.1v0.6h0.6v-0.6zM1161.1 457.6l4.15 7.4h-8.3zM1160.8 462.2v0.6h0.6v-0.6zM1160.6 446.1l4.15 7.4h-8.3zM1160.3 450.7v0.6h0.6v-0.6zM1161.2 453.4l4.15 7.4h-8.3zM1160.9 458.1v0.6h0.6v-0.6zM1167.7 455.0l4.15 7.4h-8.3zM1167.5 459.7v0.6h0.6v-0.6zM1167.6 445.4l4.15 7.4h-8.3zM1167.3 450.0v0.6h0.6v-0.6zM1159.6 457.8l4.15 7.4h-8.3zM1159.3 462.4v0.6h0.6v-0.6zM1162.7 456.8l4.15 7.4h-8.3zM1162.5 461.5v0.6h0.6v-0.6zM1163.0 447.3l4.15 7.4h-8.3zM1162.8 451.9v0.6h0.6v-0.6zM1162.2 446.0l4.15 7.4h-8.3zM1161.9 450.7v0.6h0.6v-0.6zM1168.5 454.5l4.15 7.4h-8.3zM1168.3 459.1v0.6h0.6v-0.6zM1163.0 452.2l4.15 7.4h-8.3zM1162.7 456.8v0.6h0.6v-0.6zM1163.4 445.3l4.15 7.4h-8.3zM1163.1 449.9v0.6h0.6v-0.6zM1168.4 454.5l4.15 7.4h-8.3zM1168.1 459.2v0.6h0.6v-0.6zM1169.1 452.0l4.15 7.4h-8.3zM1168.8 456.7v0.6h0.6v-0.6zM1165.7 448.7l4.15 7.4h-8.3zM1165.4 453.3v0.6h0.6v-0.6zM1159.9 460.6l4.15 7.4h-8.3zM1159.7 465.2v0.6h0.6v-0.6zM1168.0 449.8l4.15 7.4h-8.3zM1167.8 454.5v0.6h0.6v-0.6zM1168.5 458.6l4.15 7.4h-8.3zM1168.2 463.2v0.6h0.6v-0.6zM1162.5 454.8l4.15 7.4h-8.3zM1162.3 459.5v0.6h0.6v-0.6zM1169.1 453.0l4.15 7.4h-8.3zM1168.8 457.6v0.6h0.6v-0.6zM1169.0 448.6l4.15 7.4h-8.3zM1168.7 453.2v0.6h0.6v-0.6zM1163.4 456.9l4.15 7.4h-8.3zM1163.1 461.5v0.6h0.6v-0.6zM1161.7 449.7l4.15 7.4h-8.3zM1161.4 454.4v0.6h0.6v-0.6zM1168.3 452.8l4.15 7.4h-8.3zM1168.0 457.4v0.6h0.6v-0.6zM1167.4 448.6l4.15 7.4h-8.3zM1167.2 453.2v0.6h0.6v-0.6zM1161.2 450.6l4.15 7.4h-8.3zM1161.0 455.2v0.6h0.6v-0.6zM1161.4 461.3l4.15 7.4h-8.3zM1161.1 466.0v0.6h0.6v-0.6zM1162.4 454.1l4.15 7.4h-8.3zM1162.1 458.8v0.6h0.6v-0.6zM1160.6 453.6l4.15 7.4h-8.3zM1160.4 458.3v0.6h0.6v-0.6zM1163.4 451.4l4.15 7.4h-8.3zM1163.1 456.0v0.6h0.6v-0.6zM1160.2 446.5l4.15 7.4h-8.3zM1159.9 451.1v0.6h0.6v-0.6zM1159.5 461.9l4.15 7.4h-8.3zM1159.2 466.6v0.6h0.6v-0.6zM1160.9 461.9l4.15 7.4h-8.3zM1160.6 466.6v0.6h0.6v-0.6zM1162.3 461.9l4.15 7.4h-8.3zM1162.0 466.6v0.6h0.6v-0.6zM1163.7 461.9l4.15 7.4h-8.3zM1163.4 466.6v0.6h0.6v-0.6zM1165.1 461.9l4.15 7.4h-8.3zM1164.8 466.6v0.6h0.6v-0.6zM1166.5 461.9l4.15 7.4h-8.3zM1166.2 466.6v0.6h0.6v-0.6zM1167.9 461.9l4.15 7.4h-8.3zM1167.6 466.6v0.6h0.6v-0.6zM1169.3 461.9l4.15 7.4h-8.3zM1169.0 466.6v0.6h0.6v-0.6z"/>
<path class="m" fill="#0000ff" d="M424.8 76.9l4.15 -7.4h-8.3zM424.5 71.7h0.6v0.6h-0.6zM432.6 75.3l4.15 -7.4h-8.3zM432.3 70.1h0.6v0.6h-0.6zM445.0 75.3l4.15 -7.4h-8.3zM444.7 70.1h0.6v0.6h-0.6zM446.6 85.4l4.15 -7.4h-8.3zM446.3 80.2h0.6v0.6h-0.6zM449.7 79.2l4.15 -7.4h-8.3zM449.4 74.0h0.6v0.6h-0.6zM437.0 77.7l4.15 -7.4h-8.3zM436.7 72.5h0.6v0.6h-0.6zM441.0 80.7l4.15 -7.4h-8.3zM440.7 75.5h0.6v0.6h-0.6zM459.3 85.7l4.15 -7.4h-8.3zM459.0 80.5h0.6v0.6h-0.6zM462.3 87.3l4.15 -7.4h-8.3zM462.0 82.1h0.6v0.6h-0.6zM464.0 88.5l4.15 -7.4h-8.3zM463.8 83.3h0.6v0.6h-0.6zM466.2 88.5l4.15 -7.4h-8.3zM466.0 83.3h0.6v0.6h-0.6zM469.1 89.2l4.15 -7.4h-8.3zM468.8 84.0h0.6v0.6h-0.6zM471.3 90.1l4.15 -7.4h-8.3zM471.0 84.9h0.6v0.6h-0.6zM473.0 90.7l4.15 -7.4h-8.3zM472.7 85.4h0.6v0.6h-0.6zM475.2 90.1l4.15 -7.4h-8.3zM474.9 84.9h0.6v0.6h-0.6zM477.7 89.9l4.15 -7.4h-8.3zM477.4 84.7h0.6v0.6h-0.6zM480.9 90.9l4.15 -7.4h-8.3zM480.6 85.7h0.6v0.6h-0.6zM494.0 90.9l4.15 -7.4h-8.3zM493.7 85.7h0.6v0.6h-0.6zM508.0 92.6l4.15 -7.4h-8.3zM507.7 87.4h0.6v0.6h-0.6zM510.4 92.1l4.15 -7.4h-8.3zM510.1 86.9h0.6v0.6h-0.6zM511.9 93.9l4.15 -7.4h-8.3zM511.6 88.7h0.6v0.6h-0.6zM514.6 92.8l4.15 -7.4h-8.3zM514.3 87.6h0.6v0.6h-0.6zM516.5 93.2l4.15 -7.4h-8.3zM516.3 88.0h0.6v0.6h-0.6zM517.9 93.6l4.15 -7.4h-8.3zM517.6 88.4h0.6v0.6h-0.6zM520.4 94.3l4.15 -7.4h-8.3zM520.2 89.1h0.6v0.6h-0.6zM522.4 95.2l4.15 -7.4h-8.3zM522.1 90.0h0.6v0.6h-0.6zM524.2 96.5l4.15 -7.4h-8.3zM523.9 91.3h0.6v0.6h-0.6zM525.7 97.0l4.15 -7.4h-8.3zM525.4 91.8h0.6v0.6h-0.6zM527.7 97.4l4.15 -7.4h-8.3zM527.4 92.1h0.6v0.6h-0.6zM529.6 98.2l4.15 -7.4h-8.3zM529.3 93.0h0.6v0.6h-0.6zM531.0 99.7l4.15 -7.4h-8.3zM530.7 94.5h0.6v0.6h-0.6zM533.5 99.1l4.15 -7.4h-8.3zM533.2 93.9h0.6v0.6h-0.6zM535.3 99.7l4.15 -7.4h-8.3zM535.0 94.5h0.6v0.6h-0.6zM536.4 100.6l4.15 -7.4h-8.3zM536.2 95.4h0.6v0.6h-0.6zM538.0 101.4l4.15 -7.4h-8.3zM537.7 96.2h0.6v0.6h-0.6zM540.4 101.5l4.15 -7.4h-8.3zM540.1 96.3h0.6v0.6h-0.6zM542.1 101.6l4.15 -7.4h-8.3zM541.9 96.4h0.6v0.6h-0.6zM544.2 101.4l4.15 -7.4h-8.3zM543.9 96.2h0.6v0.6h-0.6zM545.8 101.9l4.15 -7.4h-8.3zM545.5 96.6h0.6v0.6h-0.6zM552.5 102.2l4.15 -7.4h-8.3zM552.2 97.0h0.6v0.6h-0.6zM553.0 102.5l4.15 -7.4h-8.3zM552.7 97.3h0.6v0.6h-0.6zM553.4 103.0l4.15 -7.4h-8.3zM553.2 97.8h0.6v0.6h-0.6zM555.3 101.3l4.15 -7.4h-8.3zM555.1 96.1h0.6v0.6h-0.6zM555.5 103.0l4.15 -7.4h-8.3zM555.2 97.8h0.6v0.6h-0.6zM555.8 103.3l4.15 -7.4h-8.3zM555.6 98.1h0.6v0.6h-0.6zM557.0 102.7l4.15 -7.4h-8.3zM556.8 97.5h0.6v0.6h-0.6zM557.8 102.7l4.15 -7.4h-8.3zM557.5 97.5h0.6v0.6h-0.6zM558.2 103.5l4.15 -7.4h-8.3zM557.9 98.3h0.6v0.6h-0.6zM559.2 103.5l4.15 -7.4h-8.3zM559.0 98.3h0.6v0.6h-0.6zM559.7 104.0l4.15 -7.4h-8.3zM559.4 98.8h0.6v0.6h-0.6zM560.1 104.2l4.15 -7.4h-8.3zM559.8 99.0h0.6v0.6h-0.6zM560.8 104.9l4.15 -7.4h-8.3zM560.5 99.7h0.6v0.6h-0.6zM561.8 103.9l4.15 -7.4h-8.3zM561.6 98.7h0.6v0.6h-0.6zM561.4 105.8l4.15 -7.4h-8.3zM561.1 100.6h0.6v0.6h-0.6zM561.8 106.2l4.15 -7.4h-8.3zM561.5 101.0h0.6v0.6h-0.6zM562.2 106.8l4.15 -7.4h-8.3zM562.0 101.5h0.6v0.6h-0.6zM563.2 106.5l4.15 -7.4h-8.3zM562.9 101.3h0.6v0.6h-0.6zM563.5 107.2l4.15 -7.4h-8.3zM563.2 102.0h0.6v0.6h-0.6zM565.0 106.0l4.15 -7.4h-8.3zM564.7 100.8h0.6v0.6h-0.6zM565.6 106.0l4.15 -7.4h-8.3zM565.4 100.8h0.6v0.6h-0.6zM565.3 108.0l4.15 -7.4h-8.3zM565.0 102.8h0.6v0.6h-0.6zM565.6 108.5l4.15 -7.4h-8.3zM565.3 103.2h0.6v0.6h-0.6zM574.0 107.2l4.15 -7.4h-8.3zM573.7 102.0h0.6v0.6h-0.6zM600.8 108.0l4.15 -7.4h-8.3zM600.5 102.8h0.6v0.6h-0.6zM640.4 108.7l4.15 -7.4h-8.3zM640.1 103.5h0.6v0.6h-0.6zM645.2 110.7l4.15 -7.4h-8.3zM645.0 105.5h0.6v0.6h-0.6zM646.0 112.5l4.15 -7.4h-8.3zM645.7 107.3h0.6v0.6h-0.6zM647.4 111.5l4.15 -7.4h-8.3zM647.1 106.3h0.6v0.6h-0.6zM648.4 113.5l4.15 -7.4h-8.3zM648.1 108.3h0.6v0.6h-0.6zM649.8 113.6l4.15 -7.4h-8.3zM649.5 108.4h0.6v0.6h-0.6zM652.3 113.4l4.15 -7.4h-8.3zM652.0 108.2h0.6v0.6h-0.6zM654.4 113.6l4.15 -7.4h-8.3zM654.1 108.4h0.6v0.6h-0.6zM655.9 114.2l4.15 -7.4h-8.3zM655.7 109.0h0.6v0.6h-0.6zM657.7 113.3l4.15 -7.4h-8.3zM657.4 108.1h0.6v0.6h-0.6zM658.4 115.5l4.15 -7.4h-8.3zM658.1 110.3h0.6v0.6h-0.6zM661.0 115.1l4.15 -7.4h-8.3zM660.7 109.9h0.6v0.6h-0.6zM663.0 115.6l4.15 -7.4h-8.3zM662.7 110.4h0.6v0.6h-0.6zM665.1 114.7l4.15 -7.4h-8.3zM664.9 109.5h0.6v0.6h-0.6zM666.5 117.3l4.15 -7.4h-8.3zM666.2 112.1h0.6v0.6h-0.6zM668.3 116.9l4.15 -7.4h-8.3zM668.0 111.7h0.6v0.6h-0.6zM670.1 117.2l4.15 -7.4h-8.3zM669.8 112.0h0.6v0.6h-0.6zM672.3 117.0l4.15 -7.4h-8.3zM672.0 111.8h0.6v0.6h-0.6zM677.6 118.0l4.15 -7.4h-8.3zM677.3 112.8h0.6v0.6h-0.6zM693.1 120.9l4.15 -7.4h-8.3zM692.8 115.7h0.6v0.6h-0.6zM694.7 120.7l4.15 -7.4h-8.3zM694.4 115.5h0.6v0.6h-0.6zM695.9 123.1l4.15 -7.4h-8.3zM695.6 117.9h0.6v0.6h-0.6zM697.9 122.8l4.15 -7.4h-8.3zM697.7 117.6h0.6v0.6h-0.6zM699.1 123.9l4.15 -7.4h-8.3zM698.8 118.7h0.6v0.6h-0.6zM700.8 124.1l4.15 -7.4h-8.3zM700.5 118.9h0.6v0.6h-0.6zM702.2 124.3l4.15 -7.4h-8.3zM701.9 119.1h0.6v0.6h-0.6zM704.1 125.3l4.15 -7.4h-8.3zM703.8 120.1h0.6v0.6h-0.6zM706.1 125.5l4.15 -7.4h-8.3zM705.8 120.3h0.6v0.6h-0.6zM707.8 126.4l4.15 -7.4h-8.3zM707.5 121.2h0.6v0.6h-0.6zM709.4 126.9l4.15 -7.4h-8.3zM709.1 121.7h0.6v0.6h-0.6zM711.1 126.6l4.15 -7.4h-8.3zM710.8 121.4h0.6v0.6h-0.6zM713.2 127.8l4.15 -7.4h-8.3zM712.9 122.6h0.6v0.6h-0.6zM714.7 128.3l4.15 -7.4h-8.3zM714.4 123.1h0.6v0.6h-0.6zM717.2 127.3l4.15 -7.4h-8.3zM716.9 122.1h0.6v0.6h-0.6zM718.3 128.3l4.15 -7.4h-8.3zM718.1 123.1h0.6v0.6h-0.6zM720.4 128.7l4.15 -7.4h-8.3zM720.2 123.5h0.6v0.6h-0.6zM722.3 129.8l4.15 -7.4h-8.3zM722.1 124.6h0.6v0.6h-0.6zM724.0 131.5l4.15 -7.4h-8.3zM723.8 126.3h0.6v0.6h-0.6zM725.5 132.2l4.15 -7.4h-8.3zM725.2 127.0h0.6v0.6h-0.6zM726.7 132.9l4.15 -7.4h-8.3zM726.4 127.7h0.6v0.6h-0.6zM728.1 133.1l4.15 -7.4h-8.3zM727.9 127.9h0.6v0.6h-0.6zM730.3 133.1l4.15 -7.4h-8.3zM730.0 127.9h0.6v0.6h-0.6zM731.7 133.8l4.15 -7.4h-8.3zM731.4 128.6h0.6v0.6h-0.6zM733.5 133.9l4.15 -7.4h-8.3zM733.2 128.7h0.6v0.6h-0.6zM734.5 134.7l4.15 -7.4h-8.3zM734.2 129.5h0.6v0.6h-0.6zM735.4 135.6l4.15 -7.4h-8.3zM735.1 130.4h0.6v0.6h-0.6zM736.8 134.9l4.15 -7.4h-8.3zM736.5 129.7h0.6v0.6h-0.6zM738.7 136.2l4.15 -7.4h-8.3zM738.4 131.0h0.6v0.6h-0.6zM740.1 135.6l4.15 -7.4h-8.3zM739.8 130.4h0.6v0.6h-0.6zM741.8 136.1l4.15 -7.4h-8.3zM741.6 130.9h0.6v0.6h-0.6zM743.3 137.3l4.15 -7.4h-8.3zM743.1 132.1h0.6v0.6h-0.6zM744.1 138.3l4.15 -7.4h-8.3zM743.8 133.1h0.6v0.6h-0.6zM746.4 138.0l4.15 -7.4h-8.3zM746.1 132.8h0.6v0.6h-0.6zM748.5 139.3l4.15 -7.4h-8.3zM748.3 134.0h0.6v0.6h-0.6zM749.8 140.0l4.15 -7.4h-8.3zM749.5 134.8h0.6v0.6h-0.6zM750.1 141.9l4.15 -7.4h-8.3zM749.8 136.6h0.6v0.6h-0.6zM752.4 142.5l4.15 -7.4h-8.3zM752.1 137.2h0.6v0.6h-0.6zM753.6 143.4l4.15 -7.4h-8.3zM753.3 138.2h0.6v0.6h-0.6zM755.2 145.1l4.15 -7.4h-8.3zM754.9 139.9h0.6v0.6h-0.6zM756.8 146.6l4.15 -7.4h-8.3zM756.6 141.4h0.6v0.6h-0.6zM757.9 148.6l4.15 -7.4h-8.3zM757.6 143.4h0.6v0.6h-0.6zM760.1 149.6l4.15 -7.4h-8.3zM759.8 144.4h0.6v0.6h-0.6zM761.1 151.7l4.15 -7.4h-8.3zM760.8 146.5h0.6v0.6h-0.6zM762.7 152.5l4.15 -7.4h-8.3zM762.4 147.3h0.6v0.6h-0.6zM762.7 154.5l4.15 -7.4h-8.3zM762.4 149.2h0.6v0.6h-0.6zM764.4 156.0l4.15 -7.4h-8.3zM764.1 150.8h0.6v0.6h-0.6zM765.3 157.7l4.15 -7.4h-8.3zM765.0 152.5h0.6v0.6h-0.6zM766.2 159.5l4.15 -7.4h-8.3zM765.9 154.3h0.6v0.6h-0.6zM768.6 160.8l4.15 -7.4h-8.3zM768.3 155.6h0.6v0.6h-0.6zM769.8 162.9l4.15 -7.4h-8.3zM769.5 157.7h0.6v0.6h-0.6zM772.2 161.1l4.15 -7.4h-8.3zM772.0 155.9h0.6v0.6h-0.6zM772.9 161.8l4.15 -7.4h-8.3zM772.6 156.6h0.6v0.6h-0.6zM772.9 162.8l4.15 -7.4h-8.3zM772.6 157.6h0.6v0.6h-0.6zM775.9 163.0l4.15 -7.4h-8.3zM775.6 157.8h0.6v0.6h-0.6zM771.6 164.3l4.15 -7.4h-8.3zM771.4 159.1h0.6v0.6h-0.6zM773.7 164.5l4.15 -7.4h-8.3zM773.4 159.3h0.6v0.6h-0.6zM772.8 165.8l4.15 -7.4h-8.3zM772.5 160.6h0.6v0.6h-0.6zM771.8 166.5l4.15 -7.4h-8.3zM771.5 161.3h0.6v0.6h-0.6zM775.5 167.0l4.15 -7.4h-8.3zM775.2 161.8h0.6v0.6h-0.6zM773.9 168.1l4.15 -7.4h-8.3zM773.6 162.9h0.6v0.6h-0.6zM771.8 169.4l4.15 -7.4h-8.3zM771.5 164.2h0.6v0.6h-0.6zM774.5 169.8l4.15 -7.4h-8.3zM774.3 164.6h0.6v0.6h-0.6zM772.8 171.1l4.15 -7.4h-8.3zM772.5 165.9h0.6v0.6h-0.6zM773.5 172.1l4.15 -7.4h-8.3zM773.3 166.9h0.6v0.6h-0.6zM774.7 172.7l4.15 -7.4h-8.3zM774.5 167.5h0.6v0.6h-0.6zM775.5 173.4l4.15 -7.4h-8.3zM775.3 168.2h0.6v0.6h-0.6zM775.0 174.2l4.15 -7.4h-8.3zM774.7 169.0h0.6v0.6h-0.6zM775.3 174.8l4.15 -7.4h-8.3zM775.0 169.6h0.6v0.6h-0.6zM773.6 176.3l4.15 -7.4h-8.3zM773.3 171.1h0.6v0.6h-0.6zM772.8 177.7l4.15 -7.4h-8.3zM772.5 172.5h0.6v0.6h-0.6zM777.9 178.0l4.15 -7.4h-8.3zM777.6 172.8h0.6v0.6h-0.6zM775.3 179.5l4.15 -7.4h-8.3zM775.0 174.3h0.6v0.6h-0.6zM776.1 180.4l4.15 -7.4h-8.3zM775.8 175.2h0.6v0.6h-0.6zM776.3 181.3l4.15 -7.4h-8.3zM776.1 176.1h0.6v0.6h-0.6zM774.5 182.9l4.15 -7.4h-8.3zM774.2 177.7h0.6v0.6h-0.6zM776.9 183.4l4.15 -7.4h-8.3zM776.6 178.2h0.6v0.6h-0.6zM777.3 184.1l4.15 -7.4h-8.3zM777.0 178.9h0.6v0.6h-0.6zM775.8 185.6l4.15 -7.4h-8.3zM775.5 180.4h0.6v0.6h-0.6zM776.7 186.5l4.15 -7.4h-8.3zM776.4 181.3h0.6v0.6h-0.6zM775.3 187.6l4.15 -7.4h-8.3zM775.1 182.4h0.6v0.6h-0.6zM776.1 188.3l4.15 -7.4h-8.3zM775.9 183.1h0.6v0.6h-0.6zM778.6 188.8l4.15 -7.4h-8.3zM778.4 183.6h0.6v0.6h-0.6zM776.7 190.1l4.15 -7.4h-8.3zM776.4 184.9h0.6v0.6h-0.6zM777.0 190.9l4.15 -7.4h-8.3zM776.7 185.7h0.6v0.6h-0.6zM777.3 192.0l4.15 -7.4h-8.3zM777.0 186.8h0.6v0.6h-0.6zM776.1 193.2l4.15 -7.4h-8.3zM775.8 188.0h0.6v0.6h-0.6zM776.5 193.9l4.15 -7.4h-8.3zM776.2 188.7h0.6v0.6h-0.6zM779.2 194.0l4.15 -7.4h-8.3zM778.9 188.8h0.6v0.6h-0.6zM778.6 195.0l4.15 -7.4h-8.3zM778.3 189.8h0.6v0.6h-0.6zM778.3 196.0l4.15 -7.4h-8.3zM778.1 190.8h0.6v0.6h-0.6zM777.0 196.9l4.15 -7.4h-8.3zM776.8 191.7h0.6v0.6h-0.6zM779.3 197.4l4.15 -7.4h-8.3zM779.0 192.2h0.6v0.6h-0.6zM779.2 198.3l4.15 -7.4h-8.3zM778.9 193.0h0.6v0.6h-0.6zM781.4 198.5l4.15 -7.4h-8.3zM781.1 193.3h0.6v0.6h-0.6zM778.2 199.9l4.15 -7.4h-8.3zM777.9 194.7h0.6v0.6h-0.6zM779.3 200.9l4.15 -7.4h-8.3zM779.0 195.6h0.6v0.6h-0.6zM780.1 202.0l4.15 -7.4h-8.3zM779.8 196.8h0.6v0.6h-0.6zM777.7 203.4l4.15 -7.4h-8.3zM777.4 198.2h0.6v0.6h-0.6zM778.3 204.2l4.15 -7.4h-8.3zM778.0 199.0h0.6v0.6h-0.6zM778.2 204.8l4.15 -7.4h-8.3zM777.9 199.6h0.6v0.6h-0.6zM780.4 205.6l4.15 -7.4h-8.3zM780.1 200.4h0.6v0.6h-0.6zM780.0 206.3l4.15 -7.4h-8.3zM779.7 201.1h0.6v0.6h-0.6zM780.6 207.0l4.15 -7.4h-8.3zM780.3 201.8h0.6v0.6h-0.6zM778.6 208.1l4.15 -7.4h-8.3zM778.3 202.9h0.6v0.6h-0.6zM780.2 208.5l4.15 -7.4h-8.3zM779.9 203.3h0.6v0.6h-0.6zM780.8 209.2l4.15 -7.4h-8.3zM780.6 204.0h0.6v0.6h-0.6zM782.0 210.3l4.15 -7.4h-8.3zM781.7 205.1h0.6v0.6h-0.6zM779.6 211.6l4.15 -7.4h-8.3zM779.4 206.4h0.6v0.6h-0.6zM782.1 212.4l4.15 -7.4h-8.3zM781.9 207.2h0.6v0.6h-0.6zM780.1 213.9l4.15 -7.4h-8.3zM779.8 208.7h0.6v0.6h-0.6zM779.4 214.8l4.15 -7.4h-8.3zM779.1 209.6h0.6v0.6h-0.6zM782.4 215.5l4.15 -7.4h-8.3zM782.1 210.3h0.6v0.6h-0.6zM783.6 215.9l4.15 -7.4h-8.3zM783.4 210.7h0.6v0.6h-0.6zM781.8 217.0l4.15 -7.4h-8.3zM781.6 211.8h0.6v0.6h-0.6zM784.9 217.6l4.15 -7.4h-8.3zM784.6 212.4h0.6v0.6h-0.6zM782.3 218.6l4.15 -7.4h-8.3zM782.0 213.4h0.6v0.6h-0.6zM782.3 219.5l4.15 -7.4h-8.3zM782.0 214.3h0.6v0.6h-0.6zM779.9 221.0l4.15 -7.4h-8.3zM779.6 215.8h0.6v0.6h-0.6zM780.4 222.0l4.15 -7.4h-8.3zM780.1 216.8h0.6v0.6h-0.6zM781.9 222.5l4.15 -7.4h-8.3zM781.6 217.3h0.6v0.6h-0.6zM781.2 223.7l4.15 -7.4h-8.3zM781.0 218.5h0.6v0.6h-0.6zM782.5 224.5l4.15 -7.4h-8.3zM782.2 219.3h0.6v0.6h-0.6zM782.6 225.1l4.15 -7.4h-8.3zM782.3 219.9h0.6v0.6h-0.6zM782.3 226.3l4.15 -7.4h-8.3zM782.0 221.1h0.6v0.6h-0.6zM781.5 227.2l4.15 -7.4h-8.3zM781.3 222.0h0.6v0.6h-0.6zM783.7 227.9l4.15 -7.4h-8.3zM783.4 222.7h0.6v0.6h-0.6zM782.9 229.2l4.15 -7.4h-8.3zM782.6 224.0h0.6v0.6h-0.6zM784.4 229.9l4.15 -7.4h-8.3zM784.1 224.7h0.6v0.6h-0.6zM785.8 231.0l4.15 -7.4h-8.3zM785.6 225.7h0.6v0.6h-0.6zM784.1 231.8l4.15 -7.4h-8.3zM783.9 226.5h0.6v0.6h-0.6zM783.2 232.8l4.15 -7.4h-8.3zM782.9 227.5h0.6v0.6h-0.6zM783.8 233.9l4.15 -7.4h-8.3zM783.5 228.7h0.6v0.6h-0.6zM784.3 234.5l4.15 -7.4h-8.3zM784.0 229.3h0.6v0.6h-0.6zM784.6 235.6l4.15 -7.4h-8.3zM784.4 230.4h0.6v0.6h-0.6zM785.3 236.5l4.15 -7.4h-8.3zM785.0 231.2h0.6v0.6h-0.6zM783.5 237.3l4.15 -7.4h-8.3zM783.2 232.0h0.6v0.6h-0.6zM785.4 238.3l4.15 -7.4h-8.3zM785.1 233.1h0.6v0.6h-0.6zM783.3 239.4l4.15 -7.4h-8.3zM783.1 234.2h0.6v0.6h-0.6zM783.9 240.1l4.15 -7.4h-8.3zM783.6 234.9h0.6v0.6h-0.6zM784.8 241.2l4.15 -7.4h-8.3zM784.6 236.0h0.6v0.6h-0.6zM784.8 241.9l4.15 -7.4h-8.3zM784.5 236.7h0.6v0.6h-0.6zM786.3 242.5l4.15 -7.4h-8.3zM786.0 237.3h0.6v0.6h-0.6zM784.3 243.5l4.15 -7.4h-8.3zM784.1 238.3h0.6v0.6h-0.6zM783.0 244.4l4.15 -7.4h-8.3zM782.8 239.2h0.6v0.6h-0.6zM784.8 245.1l4.15 -7.4h-8.3zM784.5 239.9h0.6v0.6h-0.6zM788.5 245.3l4.15 -7.4h-8.3zM788.3 240.1h0.6v0.6h-0.6zM783.9 246.3l4.15 -7.4h-8.3zM783.7 241.1h0.6v0.6h-0.6zM785.4 246.8l4.15 -7.4h-8.3zM785.2 241.6h0.6v0.6h-0.6zM785.9 247.5l4.15 -7.4h-8.3zM785.6 242.3h0.6v0.6h-0.6zM785.2 248.4l4.15 -7.4h-8.3zM784.9 243.2h0.6v0.6h-0.6zM783.5 249.5l4.15 -7.4h-8.3zM783.2 244.3h0.6v0.6h-0.6zM784.9 250.6l4.15 -7.4h-8.3zM784.6 245.4h0.6v0.6h-0.6zM785.3 251.5l4.15 -7.4h-8.3zM785.0 246.3h0.6v0.6h-0.6zM783.8 252.7l4.15 -7.4h-8.3zM783.6 247.5h0.6v0.6h-0.6zM787.1 253.5l4.15 -7.4h-8.3zM786.8 248.3h0.6v0.6h-0.6zM786.2 254.6l4.15 -7.4h-8.3zM785.9 249.4h0.6v0.6h-0.6zM784.8 255.8l4.15 -7.4h-8.3zM784.5 250.6h0.6v0.6h-0.6zM783.9 257.0l4.15 -7.4h-8.3zM783.6 251.8h0.6v0.6h-0.6zM786.5 257.6l4.15 -7.4h-8.3zM786.2 252.4h0.6v0.6h-0.6zM785.9 258.7l4.15 -7.4h-8.3zM785.7 253.5h0.6v0.6h-0.6zM787.4 259.6l4.15 -7.4h-8.3zM787.2 254.4h0.6v0.6h-0.6zM787.2 260.4l4.15 -7.4h-8.3zM786.9 255.2h0.6v0.6h-0.6zM786.4 261.1l4.15 -7.4h-8.3zM786.1 255.9h0.6v0.6h-0.6zM787.8 261.8l4.15 -7.4h-8.3zM787.5 256.6h0.6v0.6h-0.6zM782.7 263.0l4.15 -7.4h-8.3zM782.4 257.8h0.6v0.6h-0.6zM786.1 263.6l4.15 -7.4h-8.3zM785.9 258.4h0.6v0.6h-0.6zM785.3 264.4l4.15 -7.4h-8.3zM785.0 259.2h0.6v0.6h-0.6zM783.7 265.2l4.15 -7.4h-8.3zM783.4 260.0h0.6v0.6h-0.6zM786.3 265.9l4.15 -7.4h-8.3zM786.0 260.7h0.6v0.6h-0.6zM787.5 266.6l4.15 -7.4h-8.3zM787.2 261.4h0.6v0.6h-0.6zM787.1 267.3l4.15 -7.4h-8.3zM786.8 262.1h0.6v0.6h-0.6zM787.1 267.9l4.15 -7.4h-8.3zM786.8 262.7h0.6v0.6h-0.6zM785.8 269.2l4.15 -7.4h-8.3zM785.5 263.9h0.6v0.6h-0.6zM785.9 270.1l4.15 -7.4h-8.3zM785.6 264.9h0.6v0.6h-0.6zM787.6 271.1l4.15 -7.4h-8.3zM787.3 265.8h0.6v0.6h-0.6zM786.6 272.2l4.15 -7.4h-8.3zM786.3 267.0h0.6v0.6h-0.6zM787.1 273.1l4.15 -7.4h-8.3zM786.8 267.9h0.6v0.6h-0.6zM789.0 274.1l4.15 -7.4h-8.3zM788.7 268.8h0.6v0.6h-0.6zM786.0 275.3l4.15 -7.4h-8.3zM785.7 270.1h0.6v0.6h-0.6zM786.6 276.4l4.15 -7.4h-8.3zM786.3 271.2h0.6v0.6h-0.6zM787.5 277.5l4.15 -7.4h-8.3zM787.2 272.3h0.6v0.6h-0.6zM788.2 278.1l4.15 -7.4h-8.3zM787.9 272.9h0.6v0.6h-0.6zM788.0 278.8l4.15 -7.4h-8.3zM787.7 273.6h0.6v0.6h-0.6zM788.6 279.5l4.15 -7.4h-8.3zM788.4 274.3h0.6v0.6h-0.6zM789.4 280.2l4.15 -7.4h-8.3zM789.1 275.0h0.6v0.6h-0.6zM790.7 280.7l4.15 -7.4h-8.3zM790.4 275.5h0.6v0.6h-0.6zM790.3 281.8l4.15 -7.4h-8.3zM790.0 276.6h0.6v0.6h-0.6zM789.2 282.6l4.15 -7.4h-8.3zM788.9 277.4h0.6v0.6h-0.6zM792.3 282.7l4.15 -7.4h-8.3zM792.0 277.5h0.6v0.6h-0.6zM788.3 284.5l4.15 -7.4h-8.3zM788.0 279.3h0.6v0.6h-0.6zM791.8 284.3l4.15 -7.4h-8.3zM791.6 279.1h0.6v0.6h-0.6zM789.1 285.7l4.15 -7.4h-8.3zM788.8 280.5h0.6v0.6h-0.6zM788.5 287.1l4.15 -7.4h-8.3zM788.3 281.9h0.6v0.6h-0.6zM789.5 287.9l4.15 -7.4h-8.3zM789.2 282.7h0.6v0.6h-0.6zM790.9 288.3l4.15 -7.4h-8.3zM790.6 283.1h0.6v0.6h-0.6zM791.5 289.2l4.15 -7.4h-8.3zM791.3 284.0h0.6v0.6h-0.6zM792.1 290.1l4.15 -7.4h-8.3zM791.8 284.9h0.6v0.6h-0.6zM790.1 291.5l4.15 -7.4h-8.3zM789.8 286.3h0.6v0.6h-0.6zM791.0 291.9l4.15 -7.4h-8.3zM790.7 286.7h0.6v0.6h-0.6zM792.5 292.5l4.15 -7.4h-8.3zM792.2 287.3h0.6v0.6h-0.6zM790.7 294.0l4.15 -7.4h-8.3zM790.5 288.8h0.6v0.6h-0.6zM792.4 294.3l4.15 -7.4h-8.3zM792.1 289.0h0.6v0.6h-0.6zM792.5 295.5l4.15 -7.4h-8.3zM792.2 290.3h0.6v0.6h-0.6zM753.7 149.4l4.15 -7.4h-8.3zM753.4 144.2h0.6v0.6h-0.6zM758.7 159.6l4.15 -7.4h-8.3zM758.4 154.4h0.6v0.6h-0.6zM768.9 141.8l4.15 -7.4h-8.3zM768.6 136.6h0.6v0.6h-0.6zM770.2 214.2l4.15 -7.4h-8.3zM769.9 209.0h0.6v0.6h-0.6zM791.7 263.7l4.15 -7.4h-8.3zM791.4 258.5h0.6v0.6h-0.6zM790.5 235.7l4.15 -7.4h-8.3zM790.2 230.5h0.6v0.6h-0.6zM789.5 248.7l4.15 -7.4h-8.3zM789.2 243.5h0.6v0.6h-0.6zM790.4 297.7l4.15 -7.4h-8.3zM790.1 292.5h0.6v0.6h-0.6zM790.6 298.8l4.15 -7.4h-8.3zM790.3 293.6h0.6v0.6h-0.6zM790.7 300.0l4.15 -7.4h-8.3zM790.5 294.8h0.6v0.6h-0.6zM790.4 300.7l4.15 -7.4h-8.3zM790.1 295.5h0.6v0.6h-0.6zM790.6 301.4l4.15 -7.4h-8.3zM790.3 296.2h0.6v0.6h-0.6zM790.9 302.7l4.15 -7.4h-8.3zM790.6 297.5h0.6v0.6h-0.6zM791.4 303.6l4.15 -7.4h-8.3zM791.1 298.4h0.6v0.6h-0.6zM790.8 304.6l4.15 -7.4h-8.3zM790.5 299.4h0.6v0.6h-0.6zM791.0 305.8l4.15 -7.4h-8.3zM790.8 300.6h0.6v0.6h-0.6zM790.9 307.0l4.15 -7.4h-8.3zM790.6 301.8h0.6v0.6h-0.6zM790.8 307.8l4.15 -7.4h-8.3zM790.6 302.6h0.6v0.6h-0.6zM792.0 308.4l4.15 -7.4h-8.3zM791.7 303.2h0.6v0.6h-0.6zM791.4 309.7l4.15 -7.4h-8.3zM791.1 304.5h0.6v0.6h-0.6zM793.5 309.6l4.15 -7.4h-8.3zM793.2 304.4h0.6v0.6h-0.6zM793.7 310.4l4.15 -7.4h-8.3zM793.4 305.2h0.6v0.6h-0.6zM793.0 311.6l4.15 -7.4h-8.3zM792.7 306.4h0.6v0.6h-0.6zM793.8 311.9l4.15 -7.4h-8.3zM793.6 306.6h0.6v0.6h-0.6zM793.6 313.4l4.15 -7.4h-8.3zM793.3 308.2h0.6v0.6h-0.6zM793.8 314.3l4.15 -7.4h-8.3zM793.5 309.1h0.6v0.6h-0.6zM794.7 315.1l4.15 -7.4h-8.3zM794.5 309.9h0.6v0.6h-0.6zM794.8 315.9l4.15 -7.4h-8.3zM794.5 310.7h0.6v0.6h-0.6zM795.3 316.3l4.15 -7.4h-8.3zM795.0 311.1h0.6v0.6h-0.6zM796.2 317.0l4.15 -7.4h-8.3zM795.9 311.8h0.6v0.6h-0.6zM796.6 318.3l4.15 -7.4h-8.3zM796.4 313.1h0.6v0.6h-0.6zM796.8 319.2l4.15 -7.4h-8.3zM796.5 314.0h0.6v0.6h-0.6zM797.3 320.3l4.15 -7.4h-8.3zM797.0 315.1h0.6v0.6h-0.6zM798.2 321.4l4.15 -7.4h-8.3zM797.9 316.2h0.6v0.6h-0.6zM798.7 322.5l4.15 -7.4h-8.3zM798.4 317.2h0.6v0.6h-0.6zM798.8 323.5l4.15 -7.4h-8.3zM798.5 318.3h0.6v0.6h-0.6zM800.2 323.7l4.15 -7.4h-8.3zM799.9 318.5h0.6v0.6h-0.6zM800.6 324.6l4.15 -7.4h-8.3zM800.3 319.4h0.6v0.6h-0.6zM801.8 324.6l4.15 -7.4h-8.3zM801.5 319.4h0.6v0.6h-0.6zM801.7 326.5l4.15 -7.4h-8.3zM801.4 321.3h0.6v0.6h-0.6zM802.3 326.9l4.15 -7.4h-8.3zM802.0 321.6h0.6v0.6h-0.6zM804.2 326.5l4.15 -7.4h-8.3zM803.9 321.3h0.6v0.6h-0.6zM803.5 328.2l4.15 -7.4h-8.3zM803.2 322.9h0.6v0.6h-0.6zM805.5 327.6l4.15 -7.4h-8.3zM805.2 322.4h0.6v0.6h-0.6zM805.2 329.9l4.15 -7.4h-8.3zM804.9 324.7h0.6v0.6h-0.6zM806.4 330.2l4.15 -7.4h-8.3zM806.1 325.0h0.6v0.6h-0.6zM806.7 331.0l4.15 -7.4h-8.3zM806.4 325.8h0.6v0.6h-0.6zM807.8 331.3l4.15 -7.4h-8.3zM807.5 326.1h0.6v0.6h-0.6zM808.9 331.9l4.15 -7.4h-8.3zM808.6 326.7h0.6v0.6h-0.6zM810.2 331.2l4.15 -7.4h-8.3zM809.9 326.0h0.6v0.6h-0.6zM810.4 333.7l4.15 -7.4h-8.3zM810.1 328.5h0.6v0.6h-0.6zM811.7 332.8l4.15 -7.4h-8.3zM811.4 327.6h0.6v0.6h-0.6zM812.9 333.4l4.15 -7.4h-8.3zM812.6 328.2h0.6v0.6h-0.6zM813.9 332.6l4.15 -7.4h-8.3zM813.6 327.4h0.6v0.6h-0.6zM814.9 331.7l4.15 -7.4h-8.3zM814.6 326.5h0.6v0.6h-0.6zM815.8 331.7l4.15 -7.4h-8.3zM815.5 326.5h0.6v0.6h-0.6zM816.2 333.2l4.15 -7.4h-8.3zM815.9 328.0h0.6v0.6h-0.6zM817.5 332.8l4.15 -7.4h-8.3zM817.2 327.6h0.6v0.6h-0.6zM818.5 333.2l4.15 -7.4h-8.3zM818.2 328.0h0.6v0.6h-0.6zM819.6 334.1l4.15 -7.4h-8.3zM819.3 328.9h0.6v0.6h-0.6zM820.3 335.2l4.15 -7.4h-8.3zM820.0 330.0h0.6v0.6h-0.6zM821.7 334.5l4.15 -7.4h-8.3zM821.4 329.3h0.6v0.6h-0.6zM823.1 334.4l4.15 -7.4h-8.3zM822.8 329.2h0.6v0.6h-0.6zM824.3 335.1l4.15 -7.4h-8.3zM824.0 329.9h0.6v0.6h-0.6zM824.9 335.5l4.15 -7.4h-8.3zM824.6 330.3h0.6v0.6h-0.6zM825.8 337.0l4.15 -7.4h-8.3zM825.5 331.8h0.6v0.6h-0.6zM826.9 336.1l4.15 -7.4h-8.3zM826.6 330.9h0.6v0.6h-0.6zM827.9 336.7l4.15 -7.4h-8.3zM827.7 331.5h0.6v0.6h-0.6zM829.1 337.0l4.15 -7.4h-8.3zM828.8 331.8h0.6v0.6h-0.6zM830.0 336.4l4.15 -7.4h-8.3zM829.7 331.2h0.6v0.6h-0.6zM830.5 338.5l4.15 -7.4h-8.3zM830.2 333.3h0.6v0.6h-0.6zM832.0 338.0l4.15 -7.4h-8.3zM831.8 332.8h0.6v0.6h-0.6zM832.8 338.1l4.15 -7.4h-8.3zM832.6 332.9h0.6v0.6h-0.6zM834.0 338.5l4.15 -7.4h-8.3zM833.7 333.3h0.6v0.6h-0.6zM835.0 338.8l4.15 -7.4h-8.3zM834.7 333.5h0.6v0.6h-0.6zM835.8 338.9l4.15 -7.4h-8.3zM835.5 333.7h0.6v0.6h-0.6zM836.2 339.5l4.15 -7.4h-8.3zM836.0 334.3h0.6v0.6h-0.6zM837.8 339.6l4.15 -7.4h-8.3zM837.6 334.4h0.6v0.6h-0.6zM837.3 341.3l4.15 -7.4h-8.3zM837.1 336.1h0.6v0.6h-0.6zM838.6 341.3l4.15 -7.4h-8.3zM838.3 336.1h0.6v0.6h-0.6zM839.1 341.9l4.15 -7.4h-8.3zM838.8 336.6h0.6v0.6h-0.6zM839.9 342.7l4.15 -7.4h-8.3zM839.6 337.5h0.6v0.6h-0.6zM840.6 343.4l4.15 -7.4h-8.3zM840.3 338.2h0.6v0.6h-0.6zM841.9 342.9l4.15 -7.4h-8.3zM841.6 337.7h0.6v0.6h-0.6zM842.3 344.5l4.15 -7.4h-8.3zM842.0 339.3h0.6v0.6h-0.6zM843.1 344.9l4.15 -7.4h-8.3zM842.8 339.7h0.6v0.6h-0.6zM843.4 346.7l4.15 -7.4h-8.3zM843.1 341.5h0.6v0.6h-0.6zM845.3 346.2l4.15 -7.4h-8.3zM845.0 341.0h0.6v0.6h-0.6zM845.7 347.0l4.15 -7.4h-8.3zM845.4 341.8h0.6v0.6h-0.6zM846.0 347.7l4.15 -7.4h-8.3zM845.7 342.5h0.6v0.6h-0.6zM847.0 347.9l4.15 -7.4h-8.3zM846.7 342.7h0.6v0.6h-0.6zM847.9 348.4l4.15 -7.4h-8.3zM847.7 343.2h0.6v0.6h-0.6zM848.6 349.4l4.15 -7.4h-8.3zM848.3 344.2h0.6v0.6h-0.6zM849.9 349.8l4.15 -7.4h-8.3zM849.6 344.6h0.6v0.6h-0.6zM850.2 351.0l4.15 -7.4h-8.3zM849.9 345.8h0.6v0.6h-0.6zM850.3 352.6l4.15 -7.4h-8.3zM850.1 347.4h0.6v0.6h-0.6zM852.0 352.5l4.15 -7.4h-8.3zM851.7 347.3h0.6v0.6h-0.6zM853.1 352.7l4.15 -7.4h-8.3zM852.8 347.5h0.6v0.6h-0.6zM851.9 354.8l4.15 -7.4h-8.3zM851.6 349.6h0.6v0.6h-0.6zM853.3 354.9l4.15 -7.4h-8.3zM853.0 349.7h0.6v0.6h-0.6zM853.8 356.2l4.15 -7.4h-8.3zM853.5 351.0h0.6v0.6h-0.6zM855.2 355.9l4.15 -7.4h-8.3zM854.9 350.7h0.6v0.6h-0.6zM855.5 356.7l4.15 -7.4h-8.3zM855.2 351.5h0.6v0.6h-0.6zM855.8 357.6l4.15 -7.4h-8.3zM855.5 352.4h0.6v0.6h-0.6zM856.2 358.5l4.15 -7.4h-8.3zM855.9 353.3h0.6v0.6h-0.6zM856.7 359.0l4.15 -7.4h-8.3zM856.5 353.8h0.6v0.6h-0.6zM858.5 358.3l4.15 -7.4h-8.3zM858.3 353.1h0.6v0.6h-0.6zM858.8 359.2l4.15 -7.4h-8.3zM858.6 354.0h0.6v0.6h-0.6zM860.0 359.4l4.15 -7.4h-8.3zM859.7 354.1h0.6v0.6h-0.6zM861.0 359.7l4.15 -7.4h-8.3zM860.7 354.4h0.6v0.6h-0.6zM860.7 361.8l4.15 -7.4h-8.3zM860.4 356.6h0.6v0.6h-0.6zM862.2 361.4l4.15 -7.4h-8.3zM861.9 356.2h0.6v0.6h-0.6zM863.6 360.9l4.15 -7.4h-8.3zM863.3 355.7h0.6v0.6h-0.6zM864.6 362.1l4.15 -7.4h-8.3zM864.3 356.9h0.6v0.6h-0.6zM865.3 363.3l4.15 -7.4h-8.3zM865.1 358.1h0.6v0.6h-0.6zM866.6 362.8l4.15 -7.4h-8.3zM866.3 357.6h0.6v0.6h-0.6zM867.7 362.8l4.15 -7.4h-8.3zM867.4 357.6h0.6v0.6h-0.6zM868.5 363.6l4.15 -7.4h-8.3zM868.2 358.4h0.6v0.6h-0.6zM869.6 363.7l4.15 -7.4h-8.3zM869.3 358.5h0.6v0.6h-0.6zM870.4 364.6l4.15 -7.4h-8.3zM870.1 359.4h0.6v0.6h-0.6zM871.0 365.5l4.15 -7.4h-8.3zM870.7 360.3h0.6v0.6h-0.6zM872.8 364.2l4.15 -7.4h-8.3zM872.5 359.0h0.6v0.6h-0.6zM873.4 365.6l4.15 -7.4h-8.3zM873.1 360.4h0.6v0.6h-0.6zM874.4 365.8l4.15 -7.4h-8.3zM874.1 360.6h0.6v0.6h-0.6zM875.6 366.4l4.15 -7.4h-8.3zM875.3 361.2h0.6v0.6h-0.6zM876.9 365.7l4.15 -7.4h-8.3zM876.6 360.5h0.6v0.6h-0.6zM877.9 366.7l4.15 -7.4h-8.3zM877.6 361.5h0.6v0.6h-0.6zM878.4 367.5l4.15 -7.4h-8.3zM878.2 362.3h0.6v0.6h-0.6zM879.2 368.3l4.15 -7.4h-8.3zM879.0 363.0h0.6v0.6h-0.6zM880.4 368.2l4.15 -7.4h-8.3zM880.1 363.0h0.6v0.6h-0.6zM882.2 367.0l4.15 -7.4h-8.3zM881.9 361.7h0.6v0.6h-0.6zM882.7 367.4l4.15 -7.4h-8.3zM882.4 362.2h0.6v0.6h-0.6zM883.4 369.3l4.15 -7.4h-8.3zM883.1 364.1h0.6v0.6h-0.6zM884.2 369.0l4.15 -7.4h-8.3zM883.9 363.8h0.6v0.6h-0.6zM884.8 369.4l4.15 -7.4h-8.3zM884.6 364.2h0.6v0.6h-0.6zM885.7 369.5l4.15 -7.4h-8.3zM885.4 364.3h0.6v0.6h-0.6zM886.9 368.9l4.15 -7.4h-8.3zM886.6 363.7h0.6v0.6h-0.6zM887.8 368.2l4.15 -7.4h-8.3zM887.5 363.0h0.6v0.6h-0.6zM888.1 371.3l4.15 -7.4h-8.3zM887.8 366.1h0.6v0.6h-0.6zM889.7 369.3l4.15 -7.4h-8.3zM889.4 364.1h0.6v0.6h-0.6zM890.5 370.8l4.15 -7.4h-8.3zM890.2 365.6h0.6v0.6h-0.6zM891.3 370.7l4.15 -7.4h-8.3zM891.0 365.5h0.6v0.6h-0.6zM892.3 370.7l4.15 -7.4h-8.3zM892.1 365.5h0.6v0.6h-0.6zM893.1 371.1l4.15 -7.4h-8.3zM892.8 365.9h0.6v0.6h-0.6zM893.7 372.1l4.15 -7.4h-8.3zM893.4 366.9h0.6v0.6h-0.6zM894.3 372.1l4.15 -7.4h-8.3zM894.1 366.9h0.6v0.6h-0.6zM894.8 372.8l4.15 -7.4h-8.3zM894.5 367.6h0.6v0.6h-0.6zM895.8 372.2l4.15 -7.4h-8.3zM895.5 367.0h0.6v0.6h-0.6zM896.7 372.1l4.15 -7.4h-8.3zM896.4 366.9h0.6v0.6h-0.6zM897.3 372.9l4.15 -7.4h-8.3zM897.0 367.7h0.6v0.6h-0.6zM898.4 372.9l4.15 -7.4h-8.3zM898.2 367.7h0.6v0.6h-0.6zM899.5 373.6l4.15 -7.4h-8.3zM899.3 368.4h0.6v0.6h-0.6zM900.6 374.4l4.15 -7.4h-8.3zM900.3 369.2h0.6v0.6h-0.6zM901.9 374.0l4.15 -7.4h-8.3zM901.6 368.8h0.6v0.6h-0.6zM902.7 374.5l4.15 -7.4h-8.3zM902.4 369.3h0.6v0.6h-0.6zM903.6 374.6l4.15 -7.4h-8.3zM903.4 369.3h0.6v0.6h-0.6zM904.6 374.5l4.15 -7.4h-8.3zM904.3 369.3h0.6v0.6h-0.6zM905.5 375.5l4.15 -7.4h-8.3zM905.2 370.3h0.6v0.6h-0.6zM906.6 375.0l4.15 -7.4h-8.3zM906.3 369.8h0.6v0.6h-0.6zM907.0 376.3l4.15 -7.4h-8.3zM906.7 371.1h0.6v0.6h-0.6zM908.2 377.1l4.15 -7.4h-8.3zM907.9 371.9h0.6v0.6h-0.6zM909.2 377.9l4.15 -7.4h-8.3zM908.9 372.6h0.6v0.6h-0.6zM908.6 379.3l4.15 -7.4h-8.3zM908.3 374.1h0.6v0.6h-0.6zM909.5 379.5l4.15 -7.4h-8.3zM909.2 374.3h0.6v0.6h-0.6zM910.6 380.0l4.15 -7.4h-8.3zM910.3 374.8h0.6v0.6h-0.6zM910.0 381.6l4.15 -7.4h-8.3zM909.7 376.4h0.6v0.6h-0.6zM911.5 381.3l4.15 -7.4h-8.3zM911.2 376.1h0.6v0.6h-0.6zM912.1 382.2l4.15 -7.4h-8.3zM911.8 377.0h0.6v0.6h-0.6zM912.2 383.7l4.15 -7.4h-8.3zM911.9 378.5h0.6v0.6h-0.6zM913.8 383.7l4.15 -7.4h-8.3zM913.6 378.5h0.6v0.6h-0.6zM913.2 385.3l4.15 -7.4h-8.3zM912.9 380.1h0.6v0.6h-0.6zM914.8 385.4l4.15 -7.4h-8.3zM914.5 380.2h0.6v0.6h-0.6zM914.6 386.9l4.15 -7.4h-8.3zM914.3 381.7h0.6v0.6h-0.6zM915.3 387.9l4.15 -7.4h-8.3zM915.0 382.6h0.6v0.6h-0.6zM915.9 388.8l4.15 -7.4h-8.3zM915.6 383.6h0.6v0.6h-0.6zM916.7 389.5l4.15 -7.4h-8.3zM916.4 384.3h0.6v0.6h-0.6zM917.9 389.1l4.15 -7.4h-8.3zM917.7 383.9h0.6v0.6h-0.6zM917.2 391.1l4.15 -7.4h-8.3zM917.0 385.9h0.6v0.6h-0.6zM918.1 391.2l4.15 -7.4h-8.3zM917.8 386.0h0.6v0.6h-0.6zM918.9 391.3l4.15 -7.4h-8.3zM918.6 386.1h0.6v0.6h-0.6zM919.9 391.1l4.15 -7.4h-8.3zM919.6 385.9h0.6v0.6h-0.6zM920.4 392.3l4.15 -7.4h-8.3zM920.1 387.1h0.6v0.6h-0.6zM921.2 392.3l4.15 -7.4h-8.3zM920.9 387.1h0.6v0.6h-0.6zM922.1 393.0l4.15 -7.4h-8.3zM921.8 387.8h0.6v0.6h-0.6zM922.5 394.7l4.15 -7.4h-8.3zM922.2 389.5h0.6v0.6h-0.6zM923.5 395.4l4.15 -7.4h-8.3zM923.3 390.2h0.6v0.6h-0.6zM924.5 395.6l4.15 -7.4h-8.3zM924.2 390.4h0.6v0.6h-0.6zM924.0 397.8l4.15 -7.4h-8.3zM923.7 392.6h0.6v0.6h-0.6zM925.7 397.0l4.15 -7.4h-8.3zM925.5 391.8h0.6v0.6h-0.6zM926.5 397.4l4.15 -7.4h-8.3zM926.2 392.1h0.6v0.6h-0.6zM927.1 398.6l4.15 -7.4h-8.3zM926.8 393.4h0.6v0.6h-0.6zM928.6 398.5l4.15 -7.4h-8.3zM928.3 393.3h0.6v0.6h-0.6zM928.7 399.4l4.15 -7.4h-8.3zM928.4 394.2h0.6v0.6h-0.6zM928.9 400.5l4.15 -7.4h-8.3zM928.6 395.3h0.6v0.6h-0.6zM930.8 400.1l4.15 -7.4h-8.3zM930.6 394.9h0.6v0.6h-0.6zM930.9 401.3l4.15 -7.4h-8.3zM930.6 396.1h0.6v0.6h-0.6zM931.6 402.1l4.15 -7.4h-8.3zM931.3 396.9h0.6v0.6h-0.6zM932.8 402.0l4.15 -7.4h-8.3zM932.6 396.8h0.6v0.6h-0.6zM933.1 403.3l4.15 -7.4h-8.3zM932.9 398.1h0.6v0.6h-0.6zM933.8 403.9l4.15 -7.4h-8.3zM933.6 398.7h0.6v0.6h-0.6zM935.2 404.3l4.15 -7.4h-8.3zM934.9 399.1h0.6v0.6h-0.6zM935.4 405.7l4.15 -7.4h-8.3zM935.2 400.5h0.6v0.6h-0.6zM936.4 406.1l4.15 -7.4h-8.3zM936.2 400.9h0.6v0.6h-0.6zM937.6 406.2l4.15 -7.4h-8.3zM937.3 401.0h0.6v0.6h-0.6zM938.0 406.9l4.15 -7.4h-8.3zM937.7 401.7h0.6v0.6h-0.6zM939.0 407.7l4.15 -7.4h-8.3zM938.7 402.5h0.6v0.6h-0.6zM939.2 409.4l4.15 -7.4h-8.3zM938.9 404.2h0.6v0.6h-0.6zM941.5 408.3l4.15 -7.4h-8.3zM941.2 403.1h0.6v0.6h-0.6zM941.2 410.2l4.15 -7.4h-8.3zM941.0 405.0h0.6v0.6h-0.6zM942.3 411.0l4.15 -7.4h-8.3zM942.0 405.8h0.6v0.6h-0.6zM943.5 411.1l4.15 -7.4h-8.3zM943.2 405.9h0.6v0.6h-0.6zM944.1 411.4l4.15 -7.4h-8.3zM943.8 406.1h0.6v0.6h-0.6zM945.2 411.5l4.15 -7.4h-8.3zM944.9 406.3h0.6v0.6h-0.6zM945.5 412.6l4.15 -7.4h-8.3zM945.2 407.4h0.6v0.6h-0.6zM947.0 412.3l4.15 -7.4h-8.3zM946.8 407.1h0.6v0.6h-0.6zM948.0 412.7l4.15 -7.4h-8.3zM947.7 407.5h0.6v0.6h-0.6zM948.9 412.7l4.15 -7.4h-8.3zM948.6 407.5h0.6v0.6h-0.6zM949.1 413.9l4.15 -7.4h-8.3zM948.8 408.7h0.6v0.6h-0.6zM950.5 414.1l4.15 -7.4h-8.3zM950.2 408.9h0.6v0.6h-0.6zM951.0 414.9l4.15 -7.4h-8.3zM950.7 409.7h0.6v0.6h-0.6zM952.1 415.4l4.15 -7.4h-8.3zM951.8 410.2h0.6v0.6h-0.6zM953.7 415.2l4.15 -7.4h-8.3zM953.5 410.0h0.6v0.6h-0.6zM953.9 416.6l4.15 -7.4h-8.3zM953.6 411.4h0.6v0.6h-0.6zM955.4 416.7l4.15 -7.4h-8.3zM955.1 411.5h0.6v0.6h-0.6zM956.0 416.8l4.15 -7.4h-8.3zM955.7 411.6h0.6v0.6h-0.6zM956.6 418.5l4.15 -7.4h-8.3zM956.3 413.3h0.6v0.6h-0.6zM957.7 418.0l4.15 -7.4h-8.3zM957.4 412.8h0.6v0.6h-0.6zM958.7 417.6l4.15 -7.4h-8.3zM958.4 412.4h0.6v0.6h-0.6zM959.6 418.1l4.15 -7.4h-8.3zM959.3 412.9h0.6v0.6h-0.6zM960.0 419.0l4.15 -7.4h-8.3zM959.7 413.8h0.6v0.6h-0.6zM961.5 418.8l4.15 -7.4h-8.3zM961.2 413.6h0.6v0.6h-0.6zM961.9 419.8l4.15 -7.4h-8.3zM961.6 414.5h0.6v0.6h-0.6zM963.4 418.1l4.15 -7.4h-8.3zM963.2 412.9h0.6v0.6h-0.6zM963.7 419.2l4.15 -7.4h-8.3zM963.4 414.0h0.6v0.6h-0.6zM964.0 420.6l4.15 -7.4h-8.3zM963.8 415.4h0.6v0.6h-0.6zM965.0 420.9l4.15 -7.4h-8.3zM964.7 415.7h0.6v0.6h-0.6zM966.2 421.2l4.15 -7.4h-8.3zM965.9 415.9h0.6v0.6h-0.6zM967.3 421.0l4.15 -7.4h-8.3zM967.0 415.8h0.6v0.6h-0.6zM968.5 421.3l4.15 -7.4h-8.3zM968.2 416.1h0.6v0.6h-0.6zM968.5 423.5l4.15 -7.4h-8.3zM968.2 418.2h0.6v0.6h-0.6zM970.6 421.4l4.15 -7.4h-8.3zM970.4 416.2h0.6v0.6h-0.6zM971.3 422.4l4.15 -7.4h-8.3zM971.1 417.2h0.6v0.6h-0.6zM972.3 423.3l4.15 -7.4h-8.3zM972.1 418.1h0.6v0.6h-0.6zM973.4 423.3l4.15 -7.4h-8.3zM973.1 418.1h0.6v0.6h-0.6zM974.4 423.2l4.15 -7.4h-8.3zM974.2 417.9h0.6v0.6h-0.6zM975.8 423.0l4.15 -7.4h-8.3zM975.5 417.8h0.6v0.6h-0.6zM976.4 423.3l4.15 -7.4h-8.3zM976.1 418.1h0.6v0.6h-0.6zM977.0 423.7l4.15 -7.4h-8.3zM976.8 418.5h0.6v0.6h-0.6zM977.9 425.4l4.15 -7.4h-8.3zM977.7 420.2h0.6v0.6h-0.6zM979.0 424.5l4.15 -7.4h-8.3zM978.7 419.3h0.6v0.6h-0.6zM980.1 424.6l4.15 -7.4h-8.3zM979.8 419.4h0.6v0.6h-0.6zM981.6 424.2l4.15 -7.4h-8.3zM981.3 419.0h0.6v0.6h-0.6zM982.2 426.4l4.15 -7.4h-8.3zM981.9 421.2h0.6v0.6h-0.6zM983.2 425.1l4.15 -7.4h-8.3zM982.9 419.9h0.6v0.6h-0.6zM983.7 426.2l4.15 -7.4h-8.3zM983.5 420.9h0.6v0.6h-0.6zM984.9 426.3l4.15 -7.4h-8.3zM984.6 421.1h0.6v0.6h-0.6zM985.6 427.0l4.15 -7.4h-8.3zM985.3 421.8h0.6v0.6h-0.6zM986.5 426.0l4.15 -7.4h-8.3zM986.3 420.8h0.6v0.6h-0.6zM987.5 426.4l4.15 -7.4h-8.3zM987.2 421.2h0.6v0.6h-0.6zM988.8 426.2l4.15 -7.4h-8.3zM988.5 421.0h0.6v0.6h-0.6zM989.4 426.5l4.15 -7.4h-8.3zM989.1 421.3h0.6v0.6h-0.6zM990.2 427.7l4.15 -7.4h-8.3zM989.9 422.5h0.6v0.6h-0.6zM990.9 427.7l4.15 -7.4h-8.3zM990.6 422.4h0.6v0.6h-0.6zM992.1 427.0l4.15 -7.4h-8.3zM991.8 421.8h0.6v0.6h-0.6zM993.1 428.0l4.15 -7.4h-8.3zM992.8 422.8h0.6v0.6h-0.6zM993.7 428.4l4.15 -7.4h-8.3zM993.5 423.2h0.6v0.6h-0.6zM994.5 429.1l4.15 -7.4h-8.3zM994.2 423.9h0.6v0.6h-0.6zM995.9 428.6l4.15 -7.4h-8.3zM995.6 423.4h0.6v0.6h-0.6zM996.8 427.8l4.15 -7.4h-8.3zM996.5 422.5h0.6v0.6h-0.6zM997.3 428.6l4.15 -7.4h-8.3zM997.0 423.4h0.6v0.6h-0.6zM998.4 428.3l4.15 -7.4h-8.3zM998.1 423.1h0.6v0.6h-0.6zM999.2 429.2l4.15 -7.4h-8.3zM999.0 424.0h0.6v0.6h-0.6zM1000.0 429.3l4.15 -7.4h-8.3zM999.7 424.1h0.6v0.6h-0.6zM1001.2 428.5l4.15 -7.4h-8.3zM1000.9 423.3h0.6v0.6h-0.6zM1001.8 429.2l4.15 -7.4h-8.3zM1001.5 424.0h0.6v0.6h-0.6zM1002.7 429.5l4.15 -7.4h-8.3zM1002.4 424.3h0.6v0.6h-0.6zM1003.4 429.8l4.15 -7.4h-8.3zM1003.2 424.6h0.6v0.6h-0.6zM1005.2 428.6l4.15 -7.4h-8.3zM1004.9 423.4h0.6v0.6h-0.6zM1005.3 430.0l4.15 -7.4h-8.3zM1005.1 424.8h0.6v0.6h-0.6zM1007.0 429.5l4.15 -7.4h-8.3zM1006.7 424.3h0.6v0.6h-0.6zM1007.6 430.9l4.15 -7.4h-8.3zM1007.3 425.7h0.6v0.6h-0.6zM1008.6 431.4l4.15 -7.4h-8.3zM1008.4 426.1h0.6v0.6h-0.6zM1009.0 432.4l4.15 -7.4h-8.3zM1008.8 427.2h0.6v0.6h-0.6zM1009.9 432.3l4.15 -7.4h-8.3zM1009.7 427.1h0.6v0.6h-0.6zM1011.0 432.2l4.15 -7.4h-8.3zM1010.8 427.0h0.6v0.6h-0.6zM1011.8 432.6l4.15 -7.4h-8.3zM1011.5 427.3h0.6v0.6h-0.6zM1012.9 432.6l4.15 -7.4h-8.3zM1012.6 427.4h0.6v0.6h-0.6zM1013.9 432.2l4.15 -7.4h-8.3zM1013.6 427.0h0.6v0.6h-0.6zM1014.9 432.8l4.15 -7.4h-8.3zM1014.6 427.6h0.6v0.6h-0.6zM1015.3 433.6l4.15 -7.4h-8.3zM1015.0 428.4h0.6v0.6h-0.6zM1016.4 434.8l4.15 -7.4h-8.3zM1016.1 429.6h0.6v0.6h-0.6zM1017.4 433.7l4.15 -7.4h-8.3zM1017.2 428.4h0.6v0.6h-0.6zM1018.6 434.1l4.15 -7.4h-8.3zM1018.3 428.9h0.6v0.6h-0.6zM1019.1 435.2l4.15 -7.4h-8.3zM1018.9 430.0h0.6v0.6h-0.6zM1020.7 434.9l4.15 -7.4h-8.3zM1020.4 429.7h0.6v0.6h-0.6zM1020.9 436.2l4.15 -7.4h-8.3zM1020.6 431.0h0.6v0.6h-0.6zM1022.0 435.8l4.15 -7.4h-8.3zM1021.7 430.6h0.6v0.6h-0.6zM1022.5 436.2l4.15 -7.4h-8.3zM1022.3 431.0h0.6v0.6h-0.6zM1023.3 437.5l4.15 -7.4h-8.3zM1023.0 432.3h0.6v0.6h-0.6zM1024.4 436.7l4.15 -7.4h-8.3zM1024.1 431.4h0.6v0.6h-0.6zM1024.9 437.3l4.15 -7.4h-8.3zM1024.7 432.1h0.6v0.6h-0.6zM1026.0 436.6l4.15 -7.4h-8.3zM1025.7 431.4h0.6v0.6h-0.6zM1026.6 439.2l4.15 -7.4h-8.3zM1026.3 434.0h0.6v0.6h-0.6zM1028.5 437.6l4.15 -7.4h-8.3zM1028.2 432.4h0.6v0.6h-0.6zM1029.4 438.7l4.15 -7.4h-8.3zM1029.1 433.5h0.6v0.6h-0.6zM1030.6 439.1l4.15 -7.4h-8.3zM1030.4 433.9h0.6v0.6h-0.6zM1031.6 438.5l4.15 -7.4h-8.3zM1031.4 433.3h0.6v0.6h-0.6zM1032.2 440.3l4.15 -7.4h-8.3zM1031.9 435.1h0.6v0.6h-0.6zM1033.3 439.1l4.15 -7.4h-8.3zM1033.0 433.9h0.6v0.6h-0.6zM1034.2 440.1l4.15 -7.4h-8.3zM1033.9 434.9h0.6v0.6h-0.6zM1035.4 441.0l4.15 -7.4h-8.3zM1035.1 435.8h0.6v0.6h-0.6zM1036.5 441.0l4.15 -7.4h-8.3zM1036.3 435.8h0.6v0.6h-0.6zM1037.8 441.1l4.15 -7.4h-8.3zM1037.6 435.9h0.6v0.6h-0.6zM1038.8 442.6l4.15 -7.4h-8.3zM1038.5 437.4h0.6v0.6h-0.6zM1040.4 441.6l4.15 -7.4h-8.3zM1040.1 436.4h0.6v0.6h-0.6zM1041.6 442.0l4.15 -7.4h-8.3zM1041.3 436.8h0.6v0.6h-0.6zM1042.8 442.5l4.15 -7.4h-8.3zM1042.5 437.3h0.6v0.6h-0.6zM1043.7 443.5l4.15 -7.4h-8.3zM1043.5 438.3h0.6v0.6h-0.6zM1049.3 444.0l4.15 -7.4h-8.3zM1049.0 438.8h0.6v0.6h-0.6zM1047.3 445.8l4.15 -7.4h-8.3zM1047.0 440.6h0.6v0.6h-0.6zM1049.1 446.0l4.15 -7.4h-8.3zM1048.8 440.8h0.6v0.6h-0.6zM1049.2 446.9l4.15 -7.4h-8.3zM1048.9 441.7h0.6v0.6h-0.6zM1045.3 449.5l4.15 -7.4h-8.3zM1045.0 444.3h0.6v0.6h-0.6zM1051.1 447.2l4.15 -7.4h-8.3zM1050.9 442.0h0.6v0.6h-0.6zM1049.5 448.8l4.15 -7.4h-8.3zM1049.2 443.6h0.6v0.6h-0.6zM1051.7 448.7l4.15 -7.4h-8.3zM1051.4 443.5h0.6v0.6h-0.6zM1053.7 448.4l4.15 -7.4h-8.3zM1053.5 443.2h0.6v0.6h-0.6zM1050.1 451.2l4.15 -7.4h-8.3zM1049.9 446.0h0.6v0.6h-0.6zM1054.6 450.0l4.15 -7.4h-8.3zM1054.3 444.8h0.6v0.6h-0.6zM1052.4 452.4l4.15 -7.4h-8.3zM1052.1 447.2h0.6v0.6h-0.6zM1051.0 453.3l4.15 -7.4h-8.3zM1050.7 448.1h0.6v0.6h-0.6zM1053.4 454.0l4.15 -7.4h-8.3zM1053.1 448.8h0.6v0.6h-0.6zM1049.0 455.2l4.15 -7.4h-8.3zM1048.7 449.9h0.6v0.6h-0.6zM1049.0 456.0l4.15 -7.4h-8.3zM1048.7 450.8h0.6v0.6h-0.6zM1051.7 456.3l4.15 -7.4h-8.3zM1051.4 451.1h0.6v0.6h-0.6zM1050.8 456.8l4.15 -7.4h-8.3zM1050.6 451.6h0.6v0.6h-0.6zM1054.1 457.4l4.15 -7.4h-8.3zM1053.9 452.2h0.6v0.6h-0.6zM1052.7 458.2l4.15 -7.4h-8.3zM1052.4 453.0h0.6v0.6h-0.6zM1050.5 458.9l4.15 -7.4h-8.3zM1050.2 453.7h0.6v0.6h-0.6zM1053.4 459.6l4.15 -7.4h-8.3zM1053.1 454.4h0.6v0.6h-0.6zM1053.3 460.1l4.15 -7.4h-8.3zM1053.1 454.9h0.6v0.6h-0.6zM1052.8 460.7l4.15 -7.4h-8.3zM1052.5 455.5h0.6v0.6h-0.6zM1054.5 461.4l4.15 -7.4h-8.3zM1054.2 456.2h0.6v0.6h-0.6zM1049.5 462.6l4.15 -7.4h-8.3zM1049.2 457.4h0.6v0.6h-0.6zM1049.6 463.0l4.15 -7.4h-8.3zM1049.3 457.8h0.6v0.6h-0.6zM1051.4 463.8l4.15 -7.4h-8.3zM1051.1 458.6h0.6v0.6h-0.6zM1050.5 464.8l4.15 -7.4h-8.3zM1050.2 459.6h0.6v0.6h-0.6zM1051.4 465.4l4.15 -7.4h-8.3zM1051.2 460.2h0.6v0.6h-0.6zM1047.3 466.4l4.15 -7.4h-8.3zM1047.1 461.1h0.6v0.6h-0.6zM1054.6 466.9l4.15 -7.4h-8.3zM1054.3 461.7h0.6v0.6h-0.6zM1050.7 468.0l4.15 -7.4h-8.3zM1050.4 462.8h0.6v0.6h-0.6zM1050.9 468.7l4.15 -7.4h-8.3zM1050.6 463.5h0.6v0.6h-0.6zM1052.6 469.5l4.15 -7.4h-8.3zM1052.3 464.3h0.6v0.6h-0.6zM1047.5 455.7l4.15 -7.4h-8.3zM1047.3 450.5h0.6v0.6h-0.6zM1040.5 469.3l4.15 -7.4h-8.3zM1040.2 464.1h0.6v0.6h-0.6zM1046.1 467.4l4.15 -7.4h-8.3zM1045.8 462.1h0.6v0.6h-0.6zM1042.0 460.8l4.15 -7.4h-8.3zM1041.7 455.6h0.6v0.6h-0.6zM1039.0 463.7l4.15 -7.4h-8.3zM1038.7 458.5h0.6v0.6h-0.6zM1054.2 463.1l4.15 -7.4h-8.3zM1054.0 457.9h0.6v0.6h-0.6zM1044.5 469.1l4.15 -7.4h-8.3zM1044.3 463.9h0.6v0.6h-0.6zM1054.9 465.3l4.15 -7.4h-8.3zM1054.6 460.1h0.6v0.6h-0.6zM1038.5 464.7l4.15 -7.4h-8.3zM1038.2 459.5h0.6v0.6h-0.6zM1045.9 469.5l4.15 -7.4h-8.3zM1045.6 464.3h0.6v0.6h-0.6zM1044.2 465.2l4.15 -7.4h-8.3zM1044.0 460.0h0.6v0.6h-0.6zM1049.6 461.1l4.15 -7.4h-8.3zM1049.4 455.9h0.6v0.6h-0.6zM1047.4 465.4l4.15 -7.4h-8.3zM1047.2 460.2h0.6v0.6h-0.6zM1055.1 462.9l4.15 -7.4h-8.3zM1054.9 457.7h0.6v0.6h-0.6zM1044.3 469.8l4.15 -7.4h-8.3zM1044.0 464.5h0.6v0.6h-0.6zM1038.1 467.7l4.15 -7.4h-8.3zM1037.9 462.5h0.6v0.6h-0.6zM1050.7 463.7l4.15 -7.4h-8.3zM1050.4 458.5h0.6v0.6h-0.6zM1046.0 466.5l4.15 -7.4h-8.3zM1045.7 461.3h0.6v0.6h-0.6zM1054.8 466.2l4.15 -7.4h-8.3zM1054.5 461.0h0.6v0.6h-0.6zM1052.0 456.2l4.15 -7.4h-8.3zM1051.7 451.0h0.6v0.6h-0.6zM1043.5 457.7l4.15 -7.4h-8.3zM1043.2 452.5h0.6v0.6h-0.6zM1056.1 468.5l4.15 -7.4h-8.3zM1055.8 463.3h0.6v0.6h-0.6zM1039.9 464.2l4.15 -7.4h-8.3zM1039.6 459.0h0.6v0.6h-0.6zM1048.5 456.4l4.15 -7.4h-8.3zM1048.3 451.2h0.6v0.6h-0.6zM1044.8 466.5l4.15 -7.4h-8.3zM1044.6 461.3h0.6v0.6h-0.6zM1049.8 459.7l4.15 -7.4h-8.3zM1049.6 454.5h0.6v0.6h-0.6zM1052.2 459.9l4.15 -7.4h-8.3zM1052.0 454.7h0.6v0.6h-0.6zM1047.9 461.8l4.15 -7.4h-8.3zM1047.6 456.5h0.6v0.6h-0.6zM1056.6 465.0l4.15 -7.4h-8.3zM1056.3 459.8h0.6v0.6h-0.6zM1053.1 465.4l4.15 -7.4h-8.3zM1052.8 460.2h0.6v0.6h-0.6zM1044.6 469.6l4.15 -7.4h-8.3zM1044.3 464.4h0.6v0.6h-0.6zM1051.2 465.6l4.15 -7.4h-8.3zM1050.9 460.4h0.6v0.6h-0.6zM1042.5 458.0l4.15 -7.4h-8.3zM1042.3 452.8h0.6v0.6h-0.6zM1048.5 467.6l4.15 -7.4h-8.3zM1048.2 462.4h0.6v0.6h-0.6zM1052.9 460.7l4.15 -7.4h-8.3zM1052.6 455.5h0.6v0.6h-0.6zM1039.8 463.1l4.15 -7.4h-8.3zM1039.5 457.9h0.6v0.6h-0.6zM1054.5 458.0l4.15 -7.4h-8.3zM1054.3 452.8h0.6v0.6h-0.6zM1051.8 458.2l4.15 -7.4h-8.3zM1051.5 452.9h0.6v0.6h-0.6zM1043.2 456.5l4.15 -7.4h-8.3zM1043.0 451.3h0.6v0.6h-0.6zM1043.0 461.2l4.15 -7.4h-8.3zM1042.7 456.0h0.6v0.6h-0.6zM1056.3 469.6l4.15 -7.4h-8.3zM1056.1 464.3h0.6v0.6h-0.6zM1040.7 460.2l4.15 -7.4h-8.3zM1040.5 454.9h0.6v0.6h-0.6zM1055.9 458.5l4.15 -7.4h-8.3zM1055.6 453.3h0.6v0.6h-0.6zM1043.4 462.0l4.15 -7.4h-8.3zM1043.1 456.8h0.6v0.6h-0.6zM1039.2 459.4l4.15 -7.4h-8.3zM1038.9 454.2h0.6v0.6h-0.6zM1044.9 461.3l4.15 -7.4h-8.3zM1044.6 456.0h0.6v0.6h-0.6zM1056.3 459.5l4.15 -7.4h-8.3zM1056.0 454.3h0.6v0.6h-0.6zM1041.1 468.8l4.15 -7.4h-8.3zM1040.8 463.6h0.6v0.6h-0.6zM1046.0 467.8l4.15 -7.4h-8.3zM1045.7 462.5h0.6v0.6h-0.6zM1049.7 466.9l4.15 -7.4h-8.3zM1049.5 461.7h0.6v0.6h-0.6zM1043.3 457.9l4.15 -7.4h-8.3zM1043.0 452.7h0.6v0.6h-0.6zM1052.1 462.5l4.15 -7.4h-8.3zM1051.9 457.3h0.6v0.6h-0.6zM1048.2 465.4l4.15 -7.4h-8.3zM1047.9 460.1h0.6v0.6h-0.6zM1052.1 459.7l4.15 -7.4h-8.3zM1051.8 454.5h0.6v0.6h-0.6zM1044.3 468.9l4.15 -7.4h-8.3zM1044.0 463.7h0.6v0.6h-0.6zM1047.6 459.9l4.15 -7.4h-8.3zM1047.3 454.6h0.6v0.6h-0.6zM1049.6 459.4l4.15 -7.4h-8.3zM1049.3 454.2h0.6v0.6h-0.6zM1052.4 456.3l4.15 -7.4h-8.3zM1052.2 451.1h0.6v0.6h-0.6zM1053.5 463.9l4.15 -7.4h-8.3zM1053.3 458.6h0.6v0.6h-0.6zM1044.1 469.2l4.15 -7.4h-8.3zM1043.8 464.0h0.6v0.6h-0.6zM1042.3 459.2l4.15 -7.4h-8.3zM1042.0 454.0h0.6v0.6h-0.6zM1038.4 463.6l4.15 -7.4h-8.3zM1038.1 458.4h0.6v0.6h-0.6zM1052.1 465.5l4.15 -7.4h-8.3zM1051.8 460.3h0.6v0.6h-0.6zM1045.3 467.3l4.15 -7.4h-8.3zM1045.0 462.1h0.6v0.6h-0.6zM1039.2 460.1l4.15 -7.4h-8.3zM1039.0 454.9h0.6v0.6h-0.6zM1049.9 469.6l4.15 -7.4h-8.3zM1049.6 464.4h0.6v0.6h-0.6zM1049.7 465.7l4.15 -7.4h-8.3zM1049.4 460.5h0.6v0.6h-0.6zM1052.5 461.4l4.15 -7.4h-8.3zM1052.2 456.2h0.6v0.6h-0.6zM1055.8 466.4l4.15 -7.4h-8.3zM1055.5 461.2h0.6v0.6h-0.6zM1043.8 461.4l4.15 -7.4h-8.3zM1043.6 456.1h0.6v0.6h-0.6zM1053.1 460.7l4.15 -7.4h-8.3zM1052.8 455.5h0.6v0.6h-0.6zM1040.7 468.3l4.15 -7.4h-8.3zM1040.4 463.0h0.6v0.6h-0.6zM1047.6 463.2l4.15 -7.4h-8.3zM1047.4 458.0h0.6v0.6h-0.6zM1050.4 468.7l4.15 -7.4h-8.3zM1050.1 463.5h0.6v0.6h-0.6zM1039.7 460.6l4.15 -7.4h-8.3zM1039.4 455.4h0.6v0.6h-0.6zM1038.3 461.7l4.15 -7.4h-8.3zM1038.0 456.4h0.6v0.6h-0.6zM1047.0 468.0l4.15 -7.4h-8.3zM1046.8 462.8h0.6v0.6h-0.6zM1050.4 464.0l4.15 -7.4h-8.3zM1050.1 458.8h0.6v0.6h-0.6zM1045.1 464.0l4.15 -7.4h-8.3zM1044.8 458.8h0.6v0.6h-0.6zM1042.5 467.9l4.15 -7.4h-8.3zM1042.2 462.7h0.6v0.6h-0.6zM1052.8 467.8l4.15 -7.4h-8.3zM1052.5 462.6h0.6v0.6h-0.6zM1040.0 465.4l4.15 -7.4h-8.3zM1039.7 460.2h0.6v0.6h-0.6zM1052.1 462.9l4.15 -7.4h-8.3zM1051.8 457.7h0.6v0.6h-0.6zM1055.0 468.6l4.15 -7.4h-8.3zM1054.7 463.4h0.6v0.6h-0.6zM1051.9 467.5l4.15 -7.4h-8.3zM1051.6 462.3h0.6v0.6h-0.6zM1050.0 468.4l4.15 -7.4h-8.3zM1049.7 463.1h0.6v0.6h-0.6zM1039.6 465.8l4.15 -7.4h-8.3zM1039.4 460.6h0.6v0.6h-0.6zM1051.1 464.5l4.15 -7.4h-8.3zM1050.8 459.3h0.6v0.6h-0.6zM1042.5 456.7l4.15 -7.4h-8.3zM1042.2 451.5h0.6v0.6h-0.6zM1049.1 467.6l4.15 -7.4h-8.3zM1048.8 462.4h0.6v0.6h-0.6zM1038.5 470.4l4.15 -7.4h-8.3zM1038.2 465.2h0.6v0.6h-0.6zM1040.3 470.4l4.15 -7.4h-8.3zM1040.0 465.2h0.6v0.6h-0.6zM1042.1 470.4l4.15 -7.4h-8.3zM1041.8 465.2h0.6v0.6h-0.6zM1043.9 470.4l4.15 -7.4h-8.3zM1043.6 465.2h0.6v0.6h-0.6zM1045.7 470.4l4.15 -7.4h-8.3zM1045.4 465.2h0.6v0.6h-0.6zM1047.5 470.4l4.15 -7.4h-8.3zM1047.2 465.2h0.6v0.6h-0.6zM1049.3 470.4l4.15 -7.4h-8.3zM1049.0 465.2h0.6v0.6h-0.6zM1051.1 470.4l4.15 -7.4h-8.3zM1050.8 465.2h0.6v0.6h-0.6zM1052.9 470.4l4.15 -7.4h-8.3zM1052.6 465.2h0.6v0.6h-0.6zM1054.7 470.4l4.15 -7.4h-8.3zM1054.4 465.2h0.6v0.6h-0.6zM1056.5 470.4l4.15 -7.4h-8.3zM1056.2 465.2h0.6v0.6h-0.6z"/>
<path class="m" fill="#00ffff" d="M437.7 68.1l4.15 7.4h-8.3zM437.4 72.8v0.6h0.6v-0.6zM437.3 67.1l4.15 7.4h-8.3zM437.0 71.8v0.6h0.6v-0.6zM440.9 74.6l4.15 7.4h-8.3zM440.6 79.2v0.6h0.6v-0.6zM441.9 69.4l4.15 7.4h-8.3zM441.6 74.0v0.6h0.6v-0.6zM441.1 66.9l4.15 7.4h-8.3zM440.8 71.6v0.6h0.6v-0.6zM442.2 69.1l4.15 7.4h-8.3zM441.9 73.7v0.6h0.6v-0.6zM435.5 71.6l4.15 7.4h-8.3zM435.3 76.3v0.6h0.6v-0.6zM436.6 68.6l4.15 7.4h-8.3zM436.3 73.3v0.6h0.6v-0.6zM436.0 70.1l4.15 7.4h-8.3zM435.7 74.7v0.6h0.6v-0.6zM439.9 73.2l4.15 7.4h-8.3zM439.7 77.8v0.6h0.6v-0.6zM435.8 73.3l4.15 7.4h-8.3zM435.5 78.0v0.6h0.6v-0.6zM436.4 68.2l4.15 7.4h-8.3zM436.1 72.9v0.6h0.6v-0.6zM440.5 69.2l4.15 7.4h-8.3zM440.3 73.8v0.6h0.6v-0.6zM438.1 71.1l4.15 7.4h-8.3zM437.9 75.8v0.6h0.6v-0.6zM437.2 73.0l4.15 7.4h-8.3zM437.0 77.7v0.6h0.6v-0.6zM437.2 73.4l4.15 7.4h-8.3zM436.9 78.1v0.6h0.6v-0.6zM442.0 70.9l4.15 7.4h-8.3zM441.7 75.5v0.6h0.6v-0.6zM435.7 72.9l4.15 7.4h-8.3zM435.5 77.6v0.6h0.6v-0.6zM435.7 70.6l4.15 7.4h-8.3zM435.5 75.2v0.6h0.6v-0.6zM438.9 66.8l4.15 7.4h-8.3zM438.6 71.5v0.6h0.6v-0.6zM440.5 72.5l4.15 7.4h-8.3zM440.3 77.1v0.6h0.6v-0.6zM440.2 69.7l4.15 7.4h-8.3zM439.9 74.4v0.6h0.6v-0.6zM434.5 67.3l4.15 7.4h-8.3zM434.2 72.0v0.6h0.6v-0.6zM444.5 75.8l4.15 7.4h-8.3zM444.2 80.5v0.6h0.6v-0.6zM441.0 76.8l4.15 7.4h-8.3zM440.7 81.5v0.6h0.6v-0.6zM446.8 71.7l4.15 7.4h-8.3zM446.5 76.3v0.6h0.6v-0.6zM448.1 72.7l4.15 7.4h-8.3zM447.8 77.3v0.6h0.6v-0.6zM450.3 74.3l4.15 7.4h-8.3zM450.1 79.0v0.6h0.6v-0.6zM453.2 74.2l4.15 7.4h-8.3zM453.0 78.8v0.6h0.6v-0.6zM454.8 74.8l4.15 7.4h-8.3zM454.6 79.5v0.6h0.6v-0.6zM456.8 75.2l4.15 7.4h-8.3zM456.5 79.8v0.6h0.6v-0.6zM458.3 74.9l4.15 7.4h-8.3zM458.1 79.5v0.6h0.6v-0.6zM460.4 76.4l4.15 7.4h-8.3zM460.1 81.0v0.6h0.6v-0.6zM462.3 76.3l4.15 7.4h-8.3zM462.0 81.0v0.6h0.6v-0.6zM464.1 77.1l4.15 7.4h-8.3zM463.8 81.7v0.6h0.6v-0.6zM465.7 77.3l4.15 7.4h-8.3zM465.4 82.0v0.6h0.6v-0.6zM467.6 78.1l4.15 7.4h-8.3zM467.3 82.8v0.6h0.6v-0.6zM469.6 78.0l4.15 7.4h-8.3zM469.3 82.6v0.6h0.6v-0.6zM471.0 78.7l4.15 7.4h-8.3zM470.7 83.3v0.6h0.6v-0.6zM472.8 77.5l4.15 7.4h-8.3zM472.5 82.1v0.6h0.6v-0.6zM475.5 78.3l4.15 7.4h-8.3zM475.2 83.0v0.6h0.6v-0.6zM477.7 80.0l4.15 7.4h-8.3zM477.4 84.6v0.6h0.6v-0.6zM480.2 78.9l4.15 7.4h-8.3zM479.9 83.6v0.6h0.6v-0.6zM482.4 79.9l4.15 7.4h-8.3zM482.2 84.6v0.6h0.6v-0.6zM483.7 79.9l4.15 7.4h-8.3zM483.4 84.6v0.6h0.6v-0.6zM504.0 79.6l4.15 7.4h-8.3zM503.7 84.3v0.6h0.6v-0.6zM525.8 80.3l4.15 7.4h-8.3zM525.5 85.0v0.6h0.6v-0.6zM530.4 81.1l4.15 7.4h-8.3zM530.1 85.8v0.6h0.6v-0.6zM539.8 89.7l4.15 7.4h-8.3zM539.5 94.4v0.6h0.6v-0.6zM567.7 91.3l4.15 7.4h-8.3zM567.4 96.0v0.6h0.6v-0.6zM594.0 92.0l4.15 7.4h-8.3zM593.7 96.7v0.6h0.6v-0.6zM598.0 92.0l4.15 7.4h-8.3zM597.7 96.7v0.6h0.6v-0.6zM602.6 92.0l4.15 7.4h-8.3zM602.3 96.7v0.6h0.6v-0.6zM607.3 92.0l4.15 7.4h-8.3zM607.0 96.7v0.6h0.6v-0.6zM612.7 95.1l4.15 7.4h-8.3zM612.4 99.8v0.6h0.6v-0.6zM617.4 93.6l4.15 7.4h-8.3zM617.1 98.3v0.6h0.6v-0.6zM622.0 92.3l4.15 7.4h-8.3zM621.7 97.0v0.6h0.6v-0.6zM626.0 94.3l4.15 7.4h-8.3zM625.7 99.0v0.6h0.6v-0.6zM629.5 96.3l4.15 7.4h-8.3zM629.2 101.0v0.6h0.6v-0.6zM615.0 92.8l4.15 7.4h-8.3zM614.7 97.5v0.6h0.6v-0.6zM553.9 88.4l4.15 7.4h-8.3zM553.7 93.1v0.6h0.6v-0.6zM548.9 86.6l4.15 7.4h-8.3zM548.6 91.3v0.6h0.6v-0.6zM547.8 88.4l4.15 7.4h-8.3zM547.5 93.1v0.6h0.6v-0.6zM556.9 86.3l4.15 7.4h-8.3zM556.6 90.9v0.6h0.6v-0.6zM546.5 85.4l4.15 7.4h-8.3zM546.2 90.1v0.6h0.6v-0.6zM549.9 90.1l4.15 7.4h-8.3zM549.6 94.8v0.6h0.6v-0.6zM554.8 87.3l4.15 7.4h-8.3zM554.6 91.9v0.6h0.6v-0.6zM547.1 85.0l4.15 7.4h-8.3zM546.8 89.7v0.6h0.6v-0.6zM547.7 89.4l4.15 7.4h-8.3zM547.4 94.0v0.6h0.6v-0.6zM551.2 90.7l4.15 7.4h-8.3zM550.9 95.4v0.6h0.6v-0.6zM556.0 89.5l4.15 7.4h-8.3zM555.8 94.1v0.6h0.6v-0.6zM551.2 89.6l4.15 7.4h-8.3zM551.0 94.3v0.6h0.6v-0.6zM547.4 85.0l4.15 7.4h-8.3zM547.1 89.7v0.6h0.6v-0.6zM552.2 87.6l4.15 7.4h-8.3zM551.9 92.3v0.6h0.6v-0.6zM548.3 85.9l4.15 7.4h-8.3zM548.0 90.6v0.6h0.6v-0.6zM546.2 90.2l4.15 7.4h-8.3zM546.0 94.9v0.6h0.6v-0.6zM553.8 90.4l4.15 7.4h-8.3zM553.5 95.1v0.6h0.6v-0.6zM556.8 87.1l4.15 7.4h-8.3zM556.5 91.8v0.6h0.6v-0.6zM544.6 89.3l4.15 7.4h-8.3zM544.3 94.0v0.6h0.6v-0.6zM558.0 88.8l4.15 7.4h-8.3zM557.7 93.5v0.6h0.6v-0.6zM646.6 97.2l4.15 7.4h-8.3zM646.3 101.9v0.6h0.6v-0.6zM648.0 96.9l4.15 7.4h-8.3zM647.7 101.6v0.6h0.6v-0.6zM649.0 98.0l4.15 7.4h-8.3zM648.8 102.6v0.6h0.6v-0.6zM649.8 98.1l4.15 7.4h-8.3zM649.5 102.8v0.6h0.6v-0.6zM650.9 98.2l4.15 7.4h-8.3zM650.6 102.9v0.6h0.6v-0.6zM652.1 98.7l4.15 7.4h-8.3zM651.8 103.3v0.6h0.6v-0.6zM653.3 98.7l4.15 7.4h-8.3zM653.0 103.3v0.6h0.6v-0.6zM654.5 99.2l4.15 7.4h-8.3zM654.3 103.9v0.6h0.6v-0.6zM655.4 100.0l4.15 7.4h-8.3zM655.1 104.6v0.6h0.6v-0.6zM656.6 99.9l4.15 7.4h-8.3zM656.3 104.6v0.6h0.6v-0.6zM658.1 99.0l4.15 7.4h-8.3zM657.8 103.7v0.6h0.6v-0.6zM658.6 100.2l4.15 7.4h-8.3zM658.3 104.9v0.6h0.6v-0.6zM659.3 100.9l4.15 7.4h-8.3zM659.0 105.5v0.6h0.6v-0.6zM660.2 100.1l4.15 7.4h-8.3zM659.9 104.8v0.6h0.6v-0.6zM661.0 101.1l4.15 7.4h-8.3zM660.8 105.7v0.6h0.6v-0.6zM662.0 101.3l4.15 7.4h-8.3zM661.7 105.9v0.6h0.6v-0.6zM663.3 100.5l4.15 7.4h-8.3zM663.0 105.2v0.6h0.6v-0.6zM664.2 100.6l4.15 7.4h-8.3zM663.9 105.3v0.6h0.6v-0.6zM664.7 101.5l4.15 7.4h-8.3zM664.4 106.2v0.6h0.6v-0.6zM665.7 101.6l4.15 7.4h-8.3zM665.4 106.2v0.6h0.6v-0.6zM666.6 101.5l4.15 7.4h-8.3zM666.3 106.2v0.6h0.6v-0.6zM667.5 101.2l4.15 7.4h-8.3zM667.2 105.9v0.6h0.6v-0.6zM668.4 102.2l4.15 7.4h-8.3zM668.2 106.8v0.6h0.6v-0.6zM669.2 101.9l4.15 7.4h-8.3zM669.0 106.6v0.6h0.6v-0.6zM670.4 102.7l4.15 7.4h-8.3zM670.1 107.4v0.6h0.6v-0.6zM671.2 103.0l4.15 7.4h-8.3zM670.9 107.6v0.6h0.6v-0.6zM672.5 103.5l4.15 7.4h-8.3zM672.2 108.2v0.6h0.6v-0.6zM673.5 104.4l4.15 7.4h-8.3zM673.2 109.0v0.6h0.6v-0.6zM675.1 103.2l4.15 7.4h-8.3zM674.8 107.9v0.6h0.6v-0.6zM675.7 103.3l4.15 7.4h-8.3zM675.4 108.0v0.6h0.6v-0.6zM675.9 105.5l4.15 7.4h-8.3zM675.6 110.2v0.6h0.6v-0.6zM676.8 104.3l4.15 7.4h-8.3zM676.5 108.9v0.6h0.6v-0.6zM677.4 104.7l4.15 7.4h-8.3zM677.1 109.3v0.6h0.6v-0.6zM677.8 106.3l4.15 7.4h-8.3zM677.5 111.0v0.6h0.6v-0.6zM679.1 105.9l4.15 7.4h-8.3zM678.8 110.6v0.6h0.6v-0.6zM680.7 104.9l4.15 7.4h-8.3zM680.4 109.6v0.6h0.6v-0.6zM681.3 105.6l4.15 7.4h-8.3zM681.1 110.3v0.6h0.6v-0.6zM682.5 105.9l4.15 7.4h-8.3zM682.2 110.6v0.6h0.6v-0.6zM682.9 107.0l4.15 7.4h-8.3zM682.6 111.7v0.6h0.6v-0.6zM684.0 106.0l4.15 7.4h-8.3zM683.7 110.6v0.6h0.6v-0.6zM685.0 106.9l4.15 7.4h-8.3zM684.7 111.6v0.6h0.6v-0.6zM685.6 107.3l4.15 7.4h-8.3zM685.3 112.0v0.6h0.6v-0.6zM686.7 108.1l4.15 7.4h-8.3zM686.4 112.8v0.6h0.6v-0.6zM687.8 106.1l4.15 7.4h-8.3zM687.5 110.8v0.6h0.6v-0.6zM689.1 106.2l4.15 7.4h-8.3zM688.8 110.9v0.6h0.6v-0.6zM689.9 107.2l4.15 7.4h-8.3zM689.6 111.8v0.6h0.6v-0.6zM691.1 106.9l4.15 7.4h-8.3zM690.8 111.5v0.6h0.6v-0.6zM691.6 107.4l4.15 7.4h-8.3zM691.4 112.0v0.6h0.6v-0.6zM692.2 107.7l4.15 7.4h-8.3zM692.0 112.3v0.6h0.6v-0.6zM693.0 108.3l4.15 7.4h-8.3zM692.8 112.9v0.6h0.6v-0.6zM693.6 108.6l4.15 7.4h-8.3zM693.3 113.2v0.6h0.6v-0.6zM694.8 108.7l4.15 7.4h-8.3zM694.6 113.4v0.6h0.6v-0.6zM696.1 108.8l4.15 7.4h-8.3zM695.8 113.5v0.6h0.6v-0.6zM697.1 109.5l4.15 7.4h-8.3zM696.8 114.2v0.6h0.6v-0.6zM697.9 109.3l4.15 7.4h-8.3zM697.7 114.0v0.6h0.6v-0.6zM699.2 110.1l4.15 7.4h-8.3zM698.9 114.8v0.6h0.6v-0.6zM700.2 110.0l4.15 7.4h-8.3zM700.0 114.7v0.6h0.6v-0.6zM701.3 110.7l4.15 7.4h-8.3zM701.0 115.4v0.6h0.6v-0.6zM702.5 111.0l4.15 7.4h-8.3zM702.3 115.6v0.6h0.6v-0.6zM703.5 110.8l4.15 7.4h-8.3zM703.2 115.4v0.6h0.6v-0.6zM704.3 111.3l4.15 7.4h-8.3zM704.0 115.9v0.6h0.6v-0.6zM705.4 111.1l4.15 7.4h-8.3zM705.2 115.8v0.6h0.6v-0.6zM706.6 111.9l4.15 7.4h-8.3zM706.4 116.6v0.6h0.6v-0.6zM707.3 112.1l4.15 7.4h-8.3zM707.0 116.7v0.6h0.6v-0.6zM708.0 112.1l4.15 7.4h-8.3zM707.7 116.7v0.6h0.6v-0.6zM709.2 111.9l4.15 7.4h-8.3zM708.9 116.5v0.6h0.6v-0.6zM710.0 112.3l4.15 7.4h-8.3zM709.8 116.9v0.6h0.6v-0.6zM710.7 113.9l4.15 7.4h-8.3zM710.4 118.6v0.6h0.6v-0.6zM712.1 113.7l4.15 7.4h-8.3zM711.9 118.4v0.6h0.6v-0.6zM713.8 113.1l4.15 7.4h-8.3zM713.5 117.8v0.6h0.6v-0.6zM714.6 114.7l4.15 7.4h-8.3zM714.3 119.3v0.6h0.6v-0.6zM715.7 114.9l4.15 7.4h-8.3zM715.4 119.6v0.6h0.6v-0.6zM717.3 114.3l4.15 7.4h-8.3zM717.0 118.9v0.6h0.6v-0.6zM717.3 116.3l4.15 7.4h-8.3zM717.1 121.0v0.6h0.6v-0.6zM719.2 115.2l4.15 7.4h-8.3zM718.9 119.9v0.6h0.6v-0.6zM719.4 116.8l4.15 7.4h-8.3zM719.2 121.5v0.6h0.6v-0.6zM720.5 116.4l4.15 7.4h-8.3zM720.2 121.1v0.6h0.6v-0.6zM720.8 117.4l4.15 7.4h-8.3zM720.6 122.1v0.6h0.6v-0.6zM721.6 118.2l4.15 7.4h-8.3zM721.3 122.9v0.6h0.6v-0.6zM723.2 117.6l4.15 7.4h-8.3zM722.9 122.3v0.6h0.6v-0.6zM723.9 119.2l4.15 7.4h-8.3zM723.7 123.9v0.6h0.6v-0.6zM726.1 116.7l4.15 7.4h-8.3zM725.8 121.4v0.6h0.6v-0.6zM726.2 118.8l4.15 7.4h-8.3zM726.0 123.5v0.6h0.6v-0.6zM726.6 119.7l4.15 7.4h-8.3zM726.3 124.3v0.6h0.6v-0.6zM727.2 120.4l4.15 7.4h-8.3zM726.9 125.0v0.6h0.6v-0.6zM728.7 118.6l4.15 7.4h-8.3zM728.4 123.2v0.6h0.6v-0.6zM729.4 120.2l4.15 7.4h-8.3zM729.2 124.8v0.6h0.6v-0.6zM731.2 119.0l4.15 7.4h-8.3zM730.9 123.6v0.6h0.6v-0.6zM731.3 121.7l4.15 7.4h-8.3zM731.1 126.3v0.6h0.6v-0.6zM732.2 121.7l4.15 7.4h-8.3zM731.9 126.3v0.6h0.6v-0.6zM733.7 120.7l4.15 7.4h-8.3zM733.4 125.4v0.6h0.6v-0.6zM734.6 122.3l4.15 7.4h-8.3zM734.4 126.9v0.6h0.6v-0.6zM735.8 120.9l4.15 7.4h-8.3zM735.5 125.6v0.6h0.6v-0.6zM736.6 122.0l4.15 7.4h-8.3zM736.3 126.7v0.6h0.6v-0.6zM738.2 121.4l4.15 7.4h-8.3zM737.9 126.0v0.6h0.6v-0.6zM738.6 123.8l4.15 7.4h-8.3zM738.4 128.4v0.6h0.6v-0.6zM740.1 123.8l4.15 7.4h-8.3zM739.8 128.4v0.6h0.6v-0.6zM740.9 123.9l4.15 7.4h-8.3zM740.6 128.5v0.6h0.6v-0.6zM742.1 124.5l4.15 7.4h-8.3zM741.8 129.2v0.6h0.6v-0.6zM743.4 124.4l4.15 7.4h-8.3zM743.1 129.1v0.6h0.6v-0.6zM744.6 125.1l4.15 7.4h-8.3zM744.3 129.8v0.6h0.6v-0.6zM745.6 125.8l4.15 7.4h-8.3zM745.3 130.4v0.6h0.6v-0.6zM746.9 125.4l4.15 7.4h-8.3zM746.6 130.1v0.6h0.6v-0.6zM748.0 124.6l4.15 7.4h-8.3zM747.7 129.3v0.6h0.6v-0.6zM748.1 127.0l4.15 7.4h-8.3zM747.8 131.6v0.6h0.6v-0.6zM749.1 126.4l4.15 7.4h-8.3zM748.8 131.0v0.6h0.6v-0.6zM749.6 127.4l4.15 7.4h-8.3zM749.4 132.0v0.6h0.6v-0.6zM751.0 126.5l4.15 7.4h-8.3zM750.7 131.2v0.6h0.6v-0.6zM751.8 125.3l4.15 7.4h-8.3zM751.6 130.0v0.6h0.6v-0.6zM752.2 126.1l4.15 7.4h-8.3zM751.9 130.7v0.6h0.6v-0.6zM752.1 127.5l4.15 7.4h-8.3zM751.8 132.2v0.6h0.6v-0.6zM752.8 127.7l4.15 7.4h-8.3zM752.5 132.4v0.6h0.6v-0.6zM752.8 128.9l4.15 7.4h-8.3zM752.5 133.6v0.6h0.6v-0.6zM753.9 129.3l4.15 7.4h-8.3zM753.6 133.9v0.6h0.6v-0.6zM755.3 128.5l4.15 7.4h-8.3zM755.0 133.2v0.6h0.6v-0.6zM754.7 131.0l4.15 7.4h-8.3zM754.4 135.7v0.6h0.6v-0.6zM756.3 128.9l4.15 7.4h-8.3zM756.1 133.6v0.6h0.6v-0.6zM756.4 130.9l4.15 7.4h-8.3zM756.1 135.5v0.6h0.6v-0.6zM757.7 130.0l4.15 7.4h-8.3zM757.4 134.7v0.6h0.6v-0.6zM758.9 130.0l4.15 7.4h-8.3zM758.6 134.7v0.6h0.6v-0.6zM759.2 131.0l4.15 7.4h-8.3zM758.9 135.7v0.6h0.6v-0.6zM760.3 131.1l4.15 7.4h-8.3zM760.0 135.7v0.6h0.6v-0.6zM760.1 132.9l4.15 7.4h-8.3zM759.8 137.5v0.6h0.6v-0.6zM762.9 130.9l4.15 7.4h-8.3zM762.6 135.6v0.6h0.6v-0.6zM761.2 133.1l4.15 7.4h-8.3zM760.9 137.8v0.6h0.6v-0.6zM762.5 133.4l4.15 7.4h-8.3zM762.2 138.1v0.6h0.6v-0.6zM763.6 133.3l4.15 7.4h-8.3zM763.4 137.9v0.6h0.6v-0.6zM764.6 133.6l4.15 7.4h-8.3zM764.3 138.3v0.6h0.6v-0.6zM763.6 135.2l4.15 7.4h-8.3zM763.3 139.9v0.6h0.6v-0.6zM764.2 136.2l4.15 7.4h-8.3zM764.0 140.8v0.6h0.6v-0.6zM765.8 135.8l4.15 7.4h-8.3zM765.5 140.5v0.6h0.6v-0.6zM766.5 136.0l4.15 7.4h-8.3zM766.2 140.7v0.6h0.6v-0.6zM763.8 138.9l4.15 7.4h-8.3zM763.6 143.6v0.6h0.6v-0.6zM766.0 137.9l4.15 7.4h-8.3zM765.7 142.5v0.6h0.6v-0.6zM767.9 137.7l4.15 7.4h-8.3zM767.6 142.4v0.6h0.6v-0.6zM766.0 140.0l4.15 7.4h-8.3zM765.7 144.7v0.6h0.6v-0.6zM767.7 139.8l4.15 7.4h-8.3zM767.4 144.5v0.6h0.6v-0.6zM766.7 141.0l4.15 7.4h-8.3zM766.5 145.6v0.6h0.6v-0.6zM768.1 141.2l4.15 7.4h-8.3zM767.8 145.8v0.6h0.6v-0.6zM766.1 142.4l4.15 7.4h-8.3zM765.8 147.1v0.6h0.6v-0.6zM768.4 142.5l4.15 7.4h-8.3zM768.1 147.2v0.6h0.6v-0.6zM769.5 142.8l4.15 7.4h-8.3zM769.3 147.4v0.6h0.6v-0.6zM769.7 143.4l4.15 7.4h-8.3zM769.5 148.0v0.6h0.6v-0.6zM768.3 144.7l4.15 7.4h-8.3zM768.0 149.4v0.6h0.6v-0.6zM769.0 145.3l4.15 7.4h-8.3zM768.8 150.0v0.6h0.6v-0.6zM769.9 146.0l4.15 7.4h-8.3zM769.6 150.7v0.6h0.6v-0.6zM769.8 147.1l4.15 7.4h-8.3zM769.6 151.8v0.6h0.6v-0.6zM769.8 147.9l4.15 7.4h-8.3zM769.5 152.6v0.6h0.6v-0.6zM772.2 147.8l4.15 7.4h-8.3zM771.9 152.4v0.6h0.6v-0.6zM769.9 149.0l4.15 7.4h-8.3zM769.6 153.7v0.6h0.6v-0.6zM771.3 149.2l4.15 7.4h-8.3zM771.1 153.8v0.6h0.6v-0.6zM770.6 150.0l4.15 7.4h-8.3zM770.4 154.7v0.6h0.6v-0.6zM770.6 150.8l4.15 7.4h-8.3zM770.3 155.5v0.6h0.6v-0.6zM770.8 151.5l4.15 7.4h-8.3zM770.6 156.2v0.6h0.6v-0.6zM769.9 152.6l4.15 7.4h-8.3zM769.7 157.3v0.6h0.6v-0.6zM772.1 152.6l4.15 7.4h-8.3zM771.8 157.2v0.6h0.6v-0.6zM771.6 153.3l4.15 7.4h-8.3zM771.4 157.9v0.6h0.6v-0.6zM773.4 154.0l4.15 7.4h-8.3zM773.1 158.7v0.6h0.6v-0.6zM771.6 155.5l4.15 7.4h-8.3zM771.3 160.1v0.6h0.6v-0.6zM772.6 156.4l4.15 7.4h-8.3zM772.3 161.0v0.6h0.6v-0.6zM772.2 157.3l4.15 7.4h-8.3zM771.9 161.9v0.6h0.6v-0.6zM771.7 158.4l4.15 7.4h-8.3zM771.4 163.1v0.6h0.6v-0.6zM771.7 159.0l4.15 7.4h-8.3zM771.4 163.7v0.6h0.6v-0.6zM772.2 160.0l4.15 7.4h-8.3zM771.9 164.7v0.6h0.6v-0.6zM772.9 160.7l4.15 7.4h-8.3zM772.6 165.4v0.6h0.6v-0.6zM773.5 161.4l4.15 7.4h-8.3zM773.2 166.0v0.6h0.6v-0.6zM772.6 162.2l4.15 7.4h-8.3zM772.3 166.9v0.6h0.6v-0.6zM771.4 163.2l4.15 7.4h-8.3zM771.1 167.8v0.6h0.6v-0.6zM771.9 163.6l4.15 7.4h-8.3zM771.6 168.3v0.6h0.6v-0.6zM773.6 164.0l4.15 7.4h-8.3zM773.3 168.6v0.6h0.6v-0.6zM774.4 164.3l4.15 7.4h-8.3zM774.1 169.0v0.6h0.6v-0.6zM774.8 164.7l4.15 7.4h-8.3zM774.6 169.4v0.6h0.6v-0.6zM773.8 165.7l4.15 7.4h-8.3zM773.5 170.4v0.6h0.6v-0.6zM775.4 166.1l4.15 7.4h-8.3zM775.1 170.7v0.6h0.6v-0.6zM775.4 166.9l4.15 7.4h-8.3zM775.1 171.5v0.6h0.6v-0.6zM775.2 167.5l4.15 7.4h-8.3zM774.9 172.1v0.6h0.6v-0.6zM772.3 169.0l4.15 7.4h-8.3zM772.0 173.7v0.6h0.6v-0.6zM775.1 169.5l4.15 7.4h-8.3zM774.9 174.2v0.6h0.6v-0.6zM773.9 170.5l4.15 7.4h-8.3zM773.6 175.2v0.6h0.6v-0.6zM775.1 170.9l4.15 7.4h-8.3zM774.9 175.6v0.6h0.6v-0.6zM774.4 171.9l4.15 7.4h-8.3zM774.1 176.6v0.6h0.6v-0.6zM775.3 172.4l4.15 7.4h-8.3zM775.0 177.1v0.6h0.6v-0.6zM775.7 172.8l4.15 7.4h-8.3zM775.4 177.5v0.6h0.6v-0.6zM774.9 173.6l4.15 7.4h-8.3zM774.6 178.2v0.6h0.6v-0.6zM777.9 174.0l4.15 7.4h-8.3zM777.7 178.7v0.6h0.6v-0.6zM777.0 174.9l4.15 7.4h-8.3zM776.7 179.6v0.6h0.6v-0.6zM772.5 176.7l4.15 7.4h-8.3zM772.3 181.3v0.6h0.6v-0.6zM775.5 176.8l4.15 7.4h-8.3zM775.2 181.4v0.6h0.6v-0.6zM779.0 176.9l4.15 7.4h-8.3zM778.7 181.6v0.6h0.6v-0.6zM776.3 178.2l4.15 7.4h-8.3zM776.0 182.9v0.6h0.6v-0.6zM776.9 179.3l4.15 7.4h-8.3zM776.6 183.9v0.6h0.6v-0.6zM777.0 180.3l4.15 7.4h-8.3zM776.8 184.9v0.6h0.6v-0.6zM775.1 181.2l4.15 7.4h-8.3zM774.9 185.9v0.6h0.6v-0.6zM776.7 181.6l4.15 7.4h-8.3zM776.4 186.2v0.6h0.6v-0.6zM777.4 182.6l4.15 7.4h-8.3zM777.2 187.2v0.6h0.6v-0.6zM775.8 183.6l4.15 7.4h-8.3zM775.5 188.2v0.6h0.6v-0.6zM775.9 184.5l4.15 7.4h-8.3zM775.7 189.1v0.6h0.6v-0.6zM777.1 184.8l4.15 7.4h-8.3zM776.8 189.5v0.6h0.6v-0.6zM775.7 186.1l4.15 7.4h-8.3zM775.4 190.8v0.6h0.6v-0.6zM777.6 186.4l4.15 7.4h-8.3zM777.3 191.1v0.6h0.6v-0.6zM779.6 186.8l4.15 7.4h-8.3zM779.3 191.5v0.6h0.6v-0.6zM778.6 187.6l4.15 7.4h-8.3zM778.3 192.3v0.6h0.6v-0.6zM775.5 188.7l4.15 7.4h-8.3zM775.2 193.4v0.6h0.6v-0.6zM775.7 189.3l4.15 7.4h-8.3zM775.5 193.9v0.6h0.6v-0.6zM779.7 189.3l4.15 7.4h-8.3zM779.5 193.9v0.6h0.6v-0.6zM778.4 190.5l4.15 7.4h-8.3zM778.2 195.2v0.6h0.6v-0.6zM778.2 191.1l4.15 7.4h-8.3zM777.9 195.7v0.6h0.6v-0.6zM777.6 192.0l4.15 7.4h-8.3zM777.3 196.7v0.6h0.6v-0.6zM780.8 192.4l4.15 7.4h-8.3zM780.5 197.0v0.6h0.6v-0.6zM777.2 193.8l4.15 7.4h-8.3zM776.9 198.4v0.6h0.6v-0.6zM777.8 194.7l4.15 7.4h-8.3zM777.5 199.4v0.6h0.6v-0.6zM779.2 195.6l4.15 7.4h-8.3zM778.9 200.3v0.6h0.6v-0.6zM776.3 196.8l4.15 7.4h-8.3zM776.0 201.4v0.6h0.6v-0.6zM778.2 197.1l4.15 7.4h-8.3zM777.9 201.7v0.6h0.6v-0.6zM779.4 197.4l4.15 7.4h-8.3zM779.2 202.0v0.6h0.6v-0.6zM778.3 198.7l4.15 7.4h-8.3zM778.0 203.3v0.6h0.6v-0.6zM780.8 199.3l4.15 7.4h-8.3zM780.6 204.0v0.6h0.6v-0.6zM778.8 200.7l4.15 7.4h-8.3zM778.6 205.3v0.6h0.6v-0.6zM780.6 201.4l4.15 7.4h-8.3zM780.3 206.1v0.6h0.6v-0.6zM781.1 201.9l4.15 7.4h-8.3zM780.8 206.6v0.6h0.6v-0.6zM780.8 202.6l4.15 7.4h-8.3zM780.6 207.2v0.6h0.6v-0.6zM781.5 203.5l4.15 7.4h-8.3zM781.2 208.2v0.6h0.6v-0.6zM779.4 204.9l4.15 7.4h-8.3zM779.1 209.5v0.6h0.6v-0.6zM780.5 205.2l4.15 7.4h-8.3zM780.2 209.9v0.6h0.6v-0.6zM781.2 206.2l4.15 7.4h-8.3zM780.9 210.9v0.6h0.6v-0.6zM780.9 207.2l4.15 7.4h-8.3zM780.6 211.8v0.6h0.6v-0.6zM780.5 207.9l4.15 7.4h-8.3zM780.3 212.5v0.6h0.6v-0.6zM779.5 208.8l4.15 7.4h-8.3zM779.3 213.5v0.6h0.6v-0.6zM779.0 209.8l4.15 7.4h-8.3zM778.7 214.5v0.6h0.6v-0.6zM780.1 210.6l4.15 7.4h-8.3zM779.8 215.2v0.6h0.6v-0.6zM782.2 211.1l4.15 7.4h-8.3zM781.9 215.7v0.6h0.6v-0.6zM783.2 211.4l4.15 7.4h-8.3zM783.0 216.1v0.6h0.6v-0.6zM782.2 212.3l4.15 7.4h-8.3zM781.9 217.0v0.6h0.6v-0.6zM783.3 213.1l4.15 7.4h-8.3zM783.0 217.8v0.6h0.6v-0.6zM779.4 214.3l4.15 7.4h-8.3zM779.1 218.9v0.6h0.6v-0.6zM782.2 214.5l4.15 7.4h-8.3zM781.9 219.1v0.6h0.6v-0.6zM780.9 215.4l4.15 7.4h-8.3zM780.6 220.1v0.6h0.6v-0.6zM782.1 216.0l4.15 7.4h-8.3zM781.8 220.7v0.6h0.6v-0.6zM781.2 217.2l4.15 7.4h-8.3zM781.0 221.9v0.6h0.6v-0.6zM782.7 218.0l4.15 7.4h-8.3zM782.4 222.7v0.6h0.6v-0.6zM783.4 218.6l4.15 7.4h-8.3zM783.1 223.3v0.6h0.6v-0.6zM784.2 219.1l4.15 7.4h-8.3zM783.9 223.7v0.6h0.6v-0.6zM782.2 220.0l4.15 7.4h-8.3zM781.9 224.6v0.6h0.6v-0.6zM781.5 220.6l4.15 7.4h-8.3zM781.2 225.3v0.6h0.6v-0.6zM783.7 220.8l4.15 7.4h-8.3zM783.4 225.5v0.6h0.6v-0.6zM781.9 221.6l4.15 7.4h-8.3zM781.6 226.3v0.6h0.6v-0.6zM781.2 222.6l4.15 7.4h-8.3zM780.9 227.3v0.6h0.6v-0.6zM783.5 223.0l4.15 7.4h-8.3zM783.2 227.6v0.6h0.6v-0.6zM783.7 223.9l4.15 7.4h-8.3zM783.4 228.6v0.6h0.6v-0.6zM782.7 224.8l4.15 7.4h-8.3zM782.4 229.5v0.6h0.6v-0.6zM783.4 225.3l4.15 7.4h-8.3zM783.1 229.9v0.6h0.6v-0.6zM783.8 225.9l4.15 7.4h-8.3zM783.5 230.6v0.6h0.6v-0.6zM782.9 227.1l4.15 7.4h-8.3zM782.7 231.8v0.6h0.6v-0.6zM785.7 227.8l4.15 7.4h-8.3zM785.4 232.4v0.6h0.6v-0.6zM784.3 228.8l4.15 7.4h-8.3zM784.0 233.4v0.6h0.6v-0.6zM786.6 229.2l4.15 7.4h-8.3zM786.4 233.9v0.6h0.6v-0.6zM783.8 230.4l4.15 7.4h-8.3zM783.5 235.1v0.6h0.6v-0.6zM782.6 231.5l4.15 7.4h-8.3zM782.3 236.2v0.6h0.6v-0.6zM782.1 232.4l4.15 7.4h-8.3zM781.8 237.1v0.6h0.6v-0.6zM785.8 233.0l4.15 7.4h-8.3zM785.5 237.6v0.6h0.6v-0.6zM782.1 233.9l4.15 7.4h-8.3zM781.9 238.5v0.6h0.6v-0.6zM783.6 234.7l4.15 7.4h-8.3zM783.4 239.4v0.6h0.6v-0.6zM783.7 235.4l4.15 7.4h-8.3zM783.5 240.0v0.6h0.6v-0.6zM783.8 235.9l4.15 7.4h-8.3zM783.6 240.6v0.6h0.6v-0.6zM783.0 236.9l4.15 7.4h-8.3zM782.8 241.6v0.6h0.6v-0.6zM784.0 237.5l4.15 7.4h-8.3zM783.7 242.2v0.6h0.6v-0.6zM783.8 238.5l4.15 7.4h-8.3zM783.6 243.1v0.6h0.6v-0.6zM784.2 239.0l4.15 7.4h-8.3zM783.9 243.6v0.6h0.6v-0.6zM783.5 240.1l4.15 7.4h-8.3zM783.2 244.8v0.6h0.6v-0.6zM784.4 240.7l4.15 7.4h-8.3zM784.1 245.4v0.6h0.6v-0.6zM784.9 241.5l4.15 7.4h-8.3zM784.6 246.2v0.6h0.6v-0.6zM783.2 242.4l4.15 7.4h-8.3zM782.9 247.1v0.6h0.6v-0.6zM783.9 243.0l4.15 7.4h-8.3zM783.6 247.7v0.6h0.6v-0.6zM784.3 243.6l4.15 7.4h-8.3zM784.0 248.3v0.6h0.6v-0.6zM785.9 244.0l4.15 7.4h-8.3zM785.7 248.7v0.6h0.6v-0.6zM786.0 244.7l4.15 7.4h-8.3zM785.7 249.3v0.6h0.6v-0.6zM784.8 245.7l4.15 7.4h-8.3zM784.5 250.4v0.6h0.6v-0.6zM785.9 246.5l4.15 7.4h-8.3zM785.6 251.1v0.6h0.6v-0.6zM783.2 247.3l4.15 7.4h-8.3zM783.0 251.9v0.6h0.6v-0.6zM785.5 247.6l4.15 7.4h-8.3zM785.2 252.3v0.6h0.6v-0.6zM785.3 248.2l4.15 7.4h-8.3zM785.0 252.9v0.6h0.6v-0.6zM786.1 249.1l4.15 7.4h-8.3zM785.8 253.7v0.6h0.6v-0.6zM784.2 249.8l4.15 7.4h-8.3zM784.0 254.5v0.6h0.6v-0.6zM787.2 250.2l4.15 7.4h-8.3zM786.9 254.8v0.6h0.6v-0.6zM784.3 251.2l4.15 7.4h-8.3zM784.0 255.9v0.6h0.6v-0.6zM783.2 252.3l4.15 7.4h-8.3zM782.9 257.0v0.6h0.6v-0.6zM785.1 253.2l4.15 7.4h-8.3zM784.8 257.8v0.6h0.6v-0.6zM784.7 254.1l4.15 7.4h-8.3zM784.4 258.8v0.6h0.6v-0.6zM784.7 254.9l4.15 7.4h-8.3zM784.5 259.6v0.6h0.6v-0.6zM784.7 255.8l4.15 7.4h-8.3zM784.4 260.5v0.6h0.6v-0.6zM786.0 256.3l4.15 7.4h-8.3zM785.8 260.9v0.6h0.6v-0.6zM786.2 256.8l4.15 7.4h-8.3zM785.9 261.5v0.6h0.6v-0.6zM787.6 257.4l4.15 7.4h-8.3zM787.3 262.0v0.6h0.6v-0.6zM786.1 258.1l4.15 7.4h-8.3zM785.8 262.8v0.6h0.6v-0.6zM785.6 259.1l4.15 7.4h-8.3zM785.3 263.8v0.6h0.6v-0.6zM784.9 260.1l4.15 7.4h-8.3zM784.6 264.8v0.6h0.6v-0.6zM788.2 260.6l4.15 7.4h-8.3zM787.9 265.3v0.6h0.6v-0.6zM788.0 261.2l4.15 7.4h-8.3zM787.7 265.9v0.6h0.6v-0.6zM786.8 262.1l4.15 7.4h-8.3zM786.5 266.8v0.6h0.6v-0.6zM787.2 262.6l4.15 7.4h-8.3zM786.9 267.3v0.6h0.6v-0.6zM786.1 263.4l4.15 7.4h-8.3zM785.8 268.1v0.6h0.6v-0.6zM789.0 263.9l4.15 7.4h-8.3zM788.7 268.6v0.6h0.6v-0.6zM786.4 265.4l4.15 7.4h-8.3zM786.1 270.1v0.6h0.6v-0.6zM787.9 265.9l4.15 7.4h-8.3zM787.6 270.6v0.6h0.6v-0.6zM785.3 267.2l4.15 7.4h-8.3zM785.0 271.9v0.6h0.6v-0.6zM786.4 267.6l4.15 7.4h-8.3zM786.2 272.3v0.6h0.6v-0.6zM787.8 267.9l4.15 7.4h-8.3zM787.6 272.6v0.6h0.6v-0.6zM787.3 269.1l4.15 7.4h-8.3zM787.1 273.7v0.6h0.6v-0.6zM788.2 270.0l4.15 7.4h-8.3zM788.0 274.7v0.6h0.6v-0.6zM787.3 270.7l4.15 7.4h-8.3zM787.0 275.4v0.6h0.6v-0.6zM788.8 271.3l4.15 7.4h-8.3zM788.6 275.9v0.6h0.6v-0.6zM787.9 272.4l4.15 7.4h-8.3zM787.6 277.0v0.6h0.6v-0.6zM787.8 273.2l4.15 7.4h-8.3zM787.5 277.9v0.6h0.6v-0.6zM788.5 273.6l4.15 7.4h-8.3zM788.3 278.3v0.6h0.6v-0.6zM789.0 274.2l4.15 7.4h-8.3zM788.8 278.8v0.6h0.6v-0.6zM788.3 275.3l4.15 7.4h-8.3zM788.0 280.0v0.6h0.6v-0.6zM789.1 275.7l4.15 7.4h-8.3zM788.8 280.4v0.6h0.6v-0.6zM787.5 277.2l4.15 7.4h-8.3zM787.2 281.8v0.6h0.6v-0.6zM790.0 277.5l4.15 7.4h-8.3zM789.7 282.1v0.6h0.6v-0.6zM788.4 279.1l4.15 7.4h-8.3zM788.1 283.7v0.6h0.6v-0.6zM790.1 279.7l4.15 7.4h-8.3zM789.8 284.3v0.6h0.6v-0.6zM790.3 280.4l4.15 7.4h-8.3zM790.0 285.1v0.6h0.6v-0.6zM790.2 281.4l4.15 7.4h-8.3zM789.9 286.0v0.6h0.6v-0.6zM790.1 282.6l4.15 7.4h-8.3zM789.8 287.2v0.6h0.6v-0.6zM789.8 283.8l4.15 7.4h-8.3zM789.5 288.4v0.6h0.6v-0.6zM790.0 284.6l4.15 7.4h-8.3zM789.7 289.3v0.6h0.6v-0.6zM789.3 285.5l4.15 7.4h-8.3zM789.0 290.2v0.6h0.6v-0.6zM790.6 286.2l4.15 7.4h-8.3zM790.3 290.8v0.6h0.6v-0.6zM790.6 286.9l4.15 7.4h-8.3zM790.3 291.6v0.6h0.6v-0.6zM777.8 145.8l4.15 7.4h-8.3zM777.5 150.5v0.6h0.6v-0.6zM766.3 177.6l4.15 7.4h-8.3zM766.0 182.3v0.6h0.6v-0.6zM770.2 194.1l4.15 7.4h-8.3zM769.9 198.8v0.6h0.6v-0.6zM772.7 222.0l4.15 7.4h-8.3zM772.4 226.7v0.6h0.6v-0.6zM793.0 236.0l4.15 7.4h-8.3zM792.7 240.7v0.6h0.6v-0.6zM777.8 276.6l4.15 7.4h-8.3zM777.5 281.3v0.6h0.6v-0.6zM794.3 277.9l4.15 7.4h-8.3zM794.0 282.6v0.6h0.6v-0.6zM791.4 286.8l4.15 7.4h-8.3zM791.1 291.5v0.6h0.6v-0.6zM791.4 288.1l4.15 7.4h-8.3zM791.1 292.7v0.6h0.6v-0.6zM791.8 289.1l4.15 7.4h-8.3zM791.5 293.8v0.6h0.6v-0.6zM791.8 289.8l4.15 7.4h-8.3zM791.6 294.4v0.6h0.6v-0.6zM791.9 290.4l4.15 7.4h-8.3zM791.7 295.1v0.6h0.6v-0.6zM792.0 291.3l4.15 7.4h-8.3zM791.7 296.0v0.6h0.6v-0.6zM792.6 291.9l4.15 7.4h-8.3zM792.3 296.6v0.6h0.6v-0.6zM792.8 293.0l4.15 7.4h-8.3zM792.6 297.7v0.6h0.6v-0.6zM792.2 293.7l4.15 7.4h-8.3zM791.9 298.4v0.6h0.6v-0.6zM792.2 294.4l4.15 7.4h-8.3zM791.9 299.1v0.6h0.6v-0.6zM792.6 295.1l4.15 7.4h-8.3zM792.4 299.8v0.6h0.6v-0.6zM791.7 296.3l4.15 7.4h-8.3zM791.4 301.0v0.6h0.6v-0.6zM793.8 296.3l4.15 7.4h-8.3zM793.5 300.9v0.6h0.6v-0.6zM794.4 297.4l4.15 7.4h-8.3zM794.1 302.1v0.6h0.6v-0.6zM794.9 298.1l4.15 7.4h-8.3zM794.7 302.8v0.6h0.6v-0.6zM795.5 299.1l4.15 7.4h-8.3zM795.2 303.7v0.6h0.6v-0.6zM796.2 299.3l4.15 7.4h-8.3zM795.9 304.0v0.6h0.6v-0.6zM796.2 301.0l4.15 7.4h-8.3zM795.9 305.7v0.6h0.6v-0.6zM796.9 301.5l4.15 7.4h-8.3zM796.6 306.1v0.6h0.6v-0.6zM797.9 301.5l4.15 7.4h-8.3zM797.6 306.1v0.6h0.6v-0.6zM798.3 302.9l4.15 7.4h-8.3zM798.0 307.5v0.6h0.6v-0.6zM799.0 303.1l4.15 7.4h-8.3zM798.7 307.7v0.6h0.6v-0.6zM800.0 303.0l4.15 7.4h-8.3zM799.7 307.7v0.6h0.6v-0.6zM800.6 303.9l4.15 7.4h-8.3zM800.3 308.6v0.6h0.6v-0.6zM800.8 304.9l4.15 7.4h-8.3zM800.6 309.5v0.6h0.6v-0.6zM801.5 305.8l4.15 7.4h-8.3zM801.2 310.5v0.6h0.6v-0.6zM802.7 305.4l4.15 7.4h-8.3zM802.4 310.1v0.6h0.6v-0.6zM803.7 305.9l4.15 7.4h-8.3zM803.5 310.6v0.6h0.6v-0.6zM804.4 306.6l4.15 7.4h-8.3zM804.1 311.3v0.6h0.6v-0.6zM804.4 308.3l4.15 7.4h-8.3zM804.1 312.9v0.6h0.6v-0.6zM805.8 307.3l4.15 7.4h-8.3zM805.5 312.0v0.6h0.6v-0.6zM806.2 308.1l4.15 7.4h-8.3zM805.9 312.8v0.6h0.6v-0.6zM806.5 309.2l4.15 7.4h-8.3zM806.2 313.9v0.6h0.6v-0.6zM807.2 309.4l4.15 7.4h-8.3zM806.9 314.0v0.6h0.6v-0.6zM807.3 310.7l4.15 7.4h-8.3zM807.0 315.4v0.6h0.6v-0.6zM808.4 310.8l4.15 7.4h-8.3zM808.2 315.4v0.6h0.6v-0.6zM809.8 309.9l4.15 7.4h-8.3zM809.5 314.6v0.6h0.6v-0.6zM810.2 311.6l4.15 7.4h-8.3zM809.9 316.3v0.6h0.6v-0.6zM812.3 310.1l4.15 7.4h-8.3zM812.0 314.8v0.6h0.6v-0.6zM812.3 312.3l4.15 7.4h-8.3zM812.0 317.0v0.6h0.6v-0.6zM813.4 312.3l4.15 7.4h-8.3zM813.2 317.0v0.6h0.6v-0.6zM813.8 313.2l4.15 7.4h-8.3zM813.6 317.9v0.6h0.6v-0.6zM814.9 313.3l4.15 7.4h-8.3zM814.6 318.0v0.6h0.6v-0.6zM815.3 314.2l4.15 7.4h-8.3zM815.0 318.8v0.6h0.6v-0.6zM816.6 314.0l4.15 7.4h-8.3zM816.3 318.6v0.6h0.6v-0.6zM817.5 315.0l4.15 7.4h-8.3zM817.2 319.7v0.6h0.6v-0.6zM818.8 314.9l4.15 7.4h-8.3zM818.5 319.6v0.6h0.6v-0.6zM819.8 315.1l4.15 7.4h-8.3zM819.6 319.7v0.6h0.6v-0.6zM820.5 314.9l4.15 7.4h-8.3zM820.2 319.5v0.6h0.6v-0.6zM821.6 315.4l4.15 7.4h-8.3zM821.3 320.0v0.6h0.6v-0.6zM822.2 316.0l4.15 7.4h-8.3zM821.9 320.7v0.6h0.6v-0.6zM823.1 316.8l4.15 7.4h-8.3zM822.8 321.4v0.6h0.6v-0.6zM824.2 315.6l4.15 7.4h-8.3zM823.9 320.3v0.6h0.6v-0.6zM824.6 317.0l4.15 7.4h-8.3zM824.3 321.6v0.6h0.6v-0.6zM825.3 317.5l4.15 7.4h-8.3zM825.0 322.1v0.6h0.6v-0.6zM825.8 317.5l4.15 7.4h-8.3zM825.6 322.2v0.6h0.6v-0.6zM826.6 317.2l4.15 7.4h-8.3zM826.3 321.8v0.6h0.6v-0.6zM827.0 317.7l4.15 7.4h-8.3zM826.7 322.4v0.6h0.6v-0.6zM827.9 317.6l4.15 7.4h-8.3zM827.7 322.3v0.6h0.6v-0.6zM828.5 318.7l4.15 7.4h-8.3zM828.2 323.4v0.6h0.6v-0.6zM829.8 317.1l4.15 7.4h-8.3zM829.5 321.8v0.6h0.6v-0.6zM830.1 319.3l4.15 7.4h-8.3zM829.9 323.9v0.6h0.6v-0.6zM831.6 318.7l4.15 7.4h-8.3zM831.3 323.4v0.6h0.6v-0.6zM832.6 319.0l4.15 7.4h-8.3zM832.3 323.6v0.6h0.6v-0.6zM832.8 320.8l4.15 7.4h-8.3zM832.5 325.4v0.6h0.6v-0.6zM834.3 319.3l4.15 7.4h-8.3zM834.1 323.9v0.6h0.6v-0.6zM834.9 320.1l4.15 7.4h-8.3zM834.7 324.7v0.6h0.6v-0.6zM836.0 320.1l4.15 7.4h-8.3zM835.7 324.8v0.6h0.6v-0.6zM836.0 322.1l4.15 7.4h-8.3zM835.7 326.7v0.6h0.6v-0.6zM837.1 321.6l4.15 7.4h-8.3zM836.8 326.2v0.6h0.6v-0.6zM837.7 322.9l4.15 7.4h-8.3zM837.5 327.5v0.6h0.6v-0.6zM838.4 323.8l4.15 7.4h-8.3zM838.1 328.5v0.6h0.6v-0.6zM838.9 324.1l4.15 7.4h-8.3zM838.6 328.8v0.6h0.6v-0.6zM840.6 323.1l4.15 7.4h-8.3zM840.3 327.7v0.6h0.6v-0.6zM840.7 324.6l4.15 7.4h-8.3zM840.4 329.2v0.6h0.6v-0.6zM842.0 323.6l4.15 7.4h-8.3zM841.7 328.3v0.6h0.6v-0.6zM842.5 325.0l4.15 7.4h-8.3zM842.2 329.6v0.6h0.6v-0.6zM843.0 325.7l4.15 7.4h-8.3zM842.7 330.3v0.6h0.6v-0.6zM843.5 326.9l4.15 7.4h-8.3zM843.3 331.6v0.6h0.6v-0.6zM843.9 327.6l4.15 7.4h-8.3zM843.6 332.3v0.6h0.6v-0.6zM846.0 325.8l4.15 7.4h-8.3zM845.7 330.4v0.6h0.6v-0.6zM846.2 327.1l4.15 7.4h-8.3zM846.0 331.8v0.6h0.6v-0.6zM847.4 326.8l4.15 7.4h-8.3zM847.1 331.5v0.6h0.6v-0.6zM847.4 328.0l4.15 7.4h-8.3zM847.1 332.6v0.6h0.6v-0.6zM847.0 329.4l4.15 7.4h-8.3zM846.7 334.1v0.6h0.6v-0.6zM848.9 328.7l4.15 7.4h-8.3zM848.6 333.4v0.6h0.6v-0.6zM848.8 329.8l4.15 7.4h-8.3zM848.5 334.5v0.6h0.6v-0.6zM849.2 331.2l4.15 7.4h-8.3zM848.9 335.9v0.6h0.6v-0.6zM850.5 331.4l4.15 7.4h-8.3zM850.2 336.0v0.6h0.6v-0.6zM850.6 332.3l4.15 7.4h-8.3zM850.3 337.0v0.6h0.6v-0.6zM852.1 332.3l4.15 7.4h-8.3zM851.8 336.9v0.6h0.6v-0.6zM853.3 332.7l4.15 7.4h-8.3zM853.0 337.3v0.6h0.6v-0.6zM852.5 334.6l4.15 7.4h-8.3zM852.2 339.2v0.6h0.6v-0.6zM854.5 333.2l4.15 7.4h-8.3zM854.2 337.9v0.6h0.6v-0.6zM854.5 335.0l4.15 7.4h-8.3zM854.2 339.6v0.6h0.6v-0.6zM856.3 334.7l4.15 7.4h-8.3zM856.1 339.4v0.6h0.6v-0.6zM856.2 336.3l4.15 7.4h-8.3zM855.9 341.0v0.6h0.6v-0.6zM857.1 336.6l4.15 7.4h-8.3zM856.8 341.2v0.6h0.6v-0.6zM857.6 337.3l4.15 7.4h-8.3zM857.3 341.9v0.6h0.6v-0.6zM857.4 338.5l4.15 7.4h-8.3zM857.2 343.1v0.6h0.6v-0.6zM857.4 339.5l4.15 7.4h-8.3zM857.2 344.1v0.6h0.6v-0.6zM858.5 339.9l4.15 7.4h-8.3zM858.3 344.5v0.6h0.6v-0.6zM858.5 340.5l4.15 7.4h-8.3zM858.3 345.1v0.6h0.6v-0.6zM859.2 341.0l4.15 7.4h-8.3zM858.9 345.7v0.6h0.6v-0.6zM860.2 341.2l4.15 7.4h-8.3zM859.9 345.9v0.6h0.6v-0.6zM860.1 342.2l4.15 7.4h-8.3zM859.8 346.8v0.6h0.6v-0.6zM860.3 343.2l4.15 7.4h-8.3zM860.0 347.8v0.6h0.6v-0.6zM860.7 344.3l4.15 7.4h-8.3zM860.4 349.0v0.6h0.6v-0.6zM860.8 345.5l4.15 7.4h-8.3zM860.5 350.2v0.6h0.6v-0.6zM862.2 345.9l4.15 7.4h-8.3zM861.9 350.6v0.6h0.6v-0.6zM863.1 346.2l4.15 7.4h-8.3zM862.9 350.9v0.6h0.6v-0.6zM863.1 347.5l4.15 7.4h-8.3zM862.8 352.2v0.6h0.6v-0.6zM864.3 347.9l4.15 7.4h-8.3zM864.0 352.5v0.6h0.6v-0.6zM864.9 348.5l4.15 7.4h-8.3zM864.7 353.2v0.6h0.6v-0.6zM866.0 348.9l4.15 7.4h-8.3zM865.7 353.6v0.6h0.6v-0.6zM866.8 349.7l4.15 7.4h-8.3zM866.5 354.3v0.6h0.6v-0.6zM867.6 350.2l4.15 7.4h-8.3zM867.3 354.9v0.6h0.6v-0.6zM869.2 349.8l4.15 7.4h-8.3zM868.9 354.5v0.6h0.6v-0.6zM869.2 351.4l4.15 7.4h-8.3zM868.9 356.1v0.6h0.6v-0.6zM870.1 351.2l4.15 7.4h-8.3zM869.8 355.9v0.6h0.6v-0.6zM870.9 351.8l4.15 7.4h-8.3zM870.6 356.5v0.6h0.6v-0.6zM871.7 351.9l4.15 7.4h-8.3zM871.4 356.6v0.6h0.6v-0.6zM872.1 352.3l4.15 7.4h-8.3zM871.9 357.0v0.6h0.6v-0.6zM873.0 352.0l4.15 7.4h-8.3zM872.8 356.7v0.6h0.6v-0.6zM873.2 353.2l4.15 7.4h-8.3zM872.9 357.8v0.6h0.6v-0.6zM875.0 351.7l4.15 7.4h-8.3zM874.7 356.3v0.6h0.6v-0.6zM874.8 353.9l4.15 7.4h-8.3zM874.6 358.6v0.6h0.6v-0.6zM876.4 353.6l4.15 7.4h-8.3zM876.1 358.3v0.6h0.6v-0.6zM877.0 354.4l4.15 7.4h-8.3zM876.7 359.1v0.6h0.6v-0.6zM877.6 354.8l4.15 7.4h-8.3zM877.3 359.4v0.6h0.6v-0.6zM878.5 355.3l4.15 7.4h-8.3zM878.2 360.0v0.6h0.6v-0.6zM879.9 355.3l4.15 7.4h-8.3zM879.6 359.9v0.6h0.6v-0.6zM880.3 356.4l4.15 7.4h-8.3zM880.0 361.0v0.6h0.6v-0.6zM881.2 356.2l4.15 7.4h-8.3zM881.0 360.9v0.6h0.6v-0.6zM882.0 356.2l4.15 7.4h-8.3zM881.7 360.9v0.6h0.6v-0.6zM882.8 357.2l4.15 7.4h-8.3zM882.5 361.8v0.6h0.6v-0.6zM883.8 357.7l4.15 7.4h-8.3zM883.5 362.4v0.6h0.6v-0.6zM885.0 357.8l4.15 7.4h-8.3zM884.7 362.4v0.6h0.6v-0.6zM885.5 359.4l4.15 7.4h-8.3zM885.2 364.0v0.6h0.6v-0.6zM886.8 358.7l4.15 7.4h-8.3zM886.5 363.4v0.6h0.6v-0.6zM887.3 359.7l4.15 7.4h-8.3zM887.0 364.4v0.6h0.6v-0.6zM888.4 359.9l4.15 7.4h-8.3zM888.1 364.5v0.6h0.6v-0.6zM889.5 359.0l4.15 7.4h-8.3zM889.3 363.6v0.6h0.6v-0.6zM889.3 361.2l4.15 7.4h-8.3zM889.0 365.9v0.6h0.6v-0.6zM890.9 360.5l4.15 7.4h-8.3zM890.7 365.1v0.6h0.6v-0.6zM891.7 361.1l4.15 7.4h-8.3zM891.4 365.8v0.6h0.6v-0.6zM891.3 363.3l4.15 7.4h-8.3zM891.0 368.0v0.6h0.6v-0.6zM892.6 362.9l4.15 7.4h-8.3zM892.3 367.6v0.6h0.6v-0.6zM893.5 363.7l4.15 7.4h-8.3zM893.2 368.4v0.6h0.6v-0.6zM894.2 364.6l4.15 7.4h-8.3zM893.9 369.3v0.6h0.6v-0.6zM895.2 364.8l4.15 7.4h-8.3zM894.9 369.5v0.6h0.6v-0.6zM896.4 364.6l4.15 7.4h-8.3zM896.2 369.3v0.6h0.6v-0.6zM896.0 366.5l4.15 7.4h-8.3zM895.7 371.2v0.6h0.6v-0.6zM896.8 366.9l4.15 7.4h-8.3zM896.6 371.6v0.6h0.6v-0.6zM898.2 366.5l4.15 7.4h-8.3zM898.0 371.2v0.6h0.6v-0.6zM899.0 366.8l4.15 7.4h-8.3zM898.7 371.4v0.6h0.6v-0.6zM899.2 368.4l4.15 7.4h-8.3zM898.9 373.0v0.6h0.6v-0.6zM900.4 368.1l4.15 7.4h-8.3zM900.1 372.7v0.6h0.6v-0.6zM900.5 369.2l4.15 7.4h-8.3zM900.2 373.9v0.6h0.6v-0.6zM902.0 369.2l4.15 7.4h-8.3zM901.7 373.9v0.6h0.6v-0.6zM902.4 370.0l4.15 7.4h-8.3zM902.1 374.6v0.6h0.6v-0.6zM903.0 371.1l4.15 7.4h-8.3zM902.8 375.8v0.6h0.6v-0.6zM903.4 371.6l4.15 7.4h-8.3zM903.1 376.3v0.6h0.6v-0.6zM903.8 372.2l4.15 7.4h-8.3zM903.6 376.8v0.6h0.6v-0.6zM904.7 372.0l4.15 7.4h-8.3zM904.4 376.6v0.6h0.6v-0.6zM905.3 372.3l4.15 7.4h-8.3zM905.0 377.0v0.6h0.6v-0.6zM906.4 372.6l4.15 7.4h-8.3zM906.1 377.3v0.6h0.6v-0.6zM906.7 374.1l4.15 7.4h-8.3zM906.5 378.7v0.6h0.6v-0.6zM908.6 372.8l4.15 7.4h-8.3zM908.3 377.5v0.6h0.6v-0.6zM908.6 375.1l4.15 7.4h-8.3zM908.4 379.7v0.6h0.6v-0.6zM909.6 375.1l4.15 7.4h-8.3zM909.3 379.8v0.6h0.6v-0.6zM910.6 374.8l4.15 7.4h-8.3zM910.3 379.5v0.6h0.6v-0.6zM911.8 374.2l4.15 7.4h-8.3zM911.6 378.9v0.6h0.6v-0.6zM911.4 376.2l4.15 7.4h-8.3zM911.2 380.8v0.6h0.6v-0.6zM913.0 375.4l4.15 7.4h-8.3zM912.7 380.1v0.6h0.6v-0.6zM913.6 376.8l4.15 7.4h-8.3zM913.3 381.5v0.6h0.6v-0.6zM914.2 377.0l4.15 7.4h-8.3zM913.9 381.7v0.6h0.6v-0.6zM914.8 377.1l4.15 7.4h-8.3zM914.6 381.7v0.6h0.6v-0.6zM915.7 376.9l4.15 7.4h-8.3zM915.4 381.5v0.6h0.6v-0.6zM915.7 378.2l4.15 7.4h-8.3zM915.4 382.8v0.6h0.6v-0.6zM916.4 379.0l4.15 7.4h-8.3zM916.1 383.7v0.6h0.6v-0.6zM918.3 378.1l4.15 7.4h-8.3zM918.1 382.8v0.6h0.6v-0.6zM917.9 380.6l4.15 7.4h-8.3zM917.6 385.2v0.6h0.6v-0.6zM919.2 379.9l4.15 7.4h-8.3zM919.0 384.5v0.6h0.6v-0.6zM920.1 380.9l4.15 7.4h-8.3zM919.8 385.5v0.6h0.6v-0.6zM921.4 381.1l4.15 7.4h-8.3zM921.2 385.7v0.6h0.6v-0.6zM922.1 381.2l4.15 7.4h-8.3zM921.9 385.8v0.6h0.6v-0.6zM922.8 381.3l4.15 7.4h-8.3zM922.5 386.0v0.6h0.6v-0.6zM922.6 382.8l4.15 7.4h-8.3zM922.3 387.5v0.6h0.6v-0.6zM923.8 382.5l4.15 7.4h-8.3zM923.6 387.2v0.6h0.6v-0.6zM924.6 382.9l4.15 7.4h-8.3zM924.3 387.6v0.6h0.6v-0.6zM925.8 383.1l4.15 7.4h-8.3zM925.5 387.8v0.6h0.6v-0.6zM926.7 383.9l4.15 7.4h-8.3zM926.4 388.6v0.6h0.6v-0.6zM927.5 384.4l4.15 7.4h-8.3zM927.2 389.1v0.6h0.6v-0.6zM928.0 385.7l4.15 7.4h-8.3zM927.8 390.4v0.6h0.6v-0.6zM928.8 386.6l4.15 7.4h-8.3zM928.5 391.3v0.6h0.6v-0.6zM930.0 386.2l4.15 7.4h-8.3zM929.7 390.9v0.6h0.6v-0.6zM930.7 386.5l4.15 7.4h-8.3zM930.4 391.1v0.6h0.6v-0.6zM930.2 387.8l4.15 7.4h-8.3zM930.0 392.4v0.6h0.6v-0.6zM931.4 388.2l4.15 7.4h-8.3zM931.1 392.8v0.6h0.6v-0.6zM932.4 387.9l4.15 7.4h-8.3zM932.1 392.5v0.6h0.6v-0.6zM933.2 388.6l4.15 7.4h-8.3zM933.0 393.2v0.6h0.6v-0.6zM933.2 390.1l4.15 7.4h-8.3zM932.9 394.8v0.6h0.6v-0.6zM935.1 389.5l4.15 7.4h-8.3zM934.8 394.2v0.6h0.6v-0.6zM934.6 391.9l4.15 7.4h-8.3zM934.4 396.6v0.6h0.6v-0.6zM936.3 391.8l4.15 7.4h-8.3zM936.1 396.4v0.6h0.6v-0.6zM936.9 392.3l4.15 7.4h-8.3zM936.6 397.0v0.6h0.6v-0.6zM937.0 393.7l4.15 7.4h-8.3zM936.7 398.4v0.6h0.6v-0.6zM938.6 392.9l4.15 7.4h-8.3zM938.3 397.5v0.6h0.6v-0.6zM938.9 394.8l4.15 7.4h-8.3zM938.7 399.4v0.6h0.6v-0.6zM940.1 394.2l4.15 7.4h-8.3zM939.8 398.9v0.6h0.6v-0.6zM941.0 394.7l4.15 7.4h-8.3zM940.8 399.4v0.6h0.6v-0.6zM941.2 395.8l4.15 7.4h-8.3zM941.0 400.5v0.6h0.6v-0.6zM942.8 395.2l4.15 7.4h-8.3zM942.6 399.8v0.6h0.6v-0.6zM943.7 396.2l4.15 7.4h-8.3zM943.4 400.8v0.6h0.6v-0.6zM943.8 397.2l4.15 7.4h-8.3zM943.6 401.9v0.6h0.6v-0.6zM945.0 396.3l4.15 7.4h-8.3zM944.7 401.0v0.6h0.6v-0.6zM946.3 396.1l4.15 7.4h-8.3zM946.0 400.8v0.6h0.6v-0.6zM946.9 397.1l4.15 7.4h-8.3zM946.6 401.8v0.6h0.6v-0.6zM947.3 398.2l4.15 7.4h-8.3zM947.0 402.9v0.6h0.6v-0.6zM948.4 398.4l4.15 7.4h-8.3zM948.2 403.1v0.6h0.6v-0.6zM949.0 398.7l4.15 7.4h-8.3zM948.7 403.4v0.6h0.6v-0.6zM949.9 399.5l4.15 7.4h-8.3zM949.7 404.1v0.6h0.6v-0.6zM950.9 399.4l4.15 7.4h-8.3zM950.6 404.0v0.6h0.6v-0.6zM952.0 399.3l4.15 7.4h-8.3zM951.7 404.0v0.6h0.6v-0.6zM952.6 400.6l4.15 7.4h-8.3zM952.4 405.3v0.6h0.6v-0.6zM953.7 400.8l4.15 7.4h-8.3zM953.4 405.4v0.6h0.6v-0.6zM954.6 400.3l4.15 7.4h-8.3zM954.3 405.0v0.6h0.6v-0.6zM955.4 400.5l4.15 7.4h-8.3zM955.1 405.1v0.6h0.6v-0.6zM955.8 403.1l4.15 7.4h-8.3zM955.5 407.7v0.6h0.6v-0.6zM957.4 400.7l4.15 7.4h-8.3zM957.2 405.4v0.6h0.6v-0.6zM958.0 402.1l4.15 7.4h-8.3zM957.7 406.7v0.6h0.6v-0.6zM959.2 401.1l4.15 7.4h-8.3zM959.0 405.8v0.6h0.6v-0.6zM960.4 401.2l4.15 7.4h-8.3zM960.1 405.9v0.6h0.6v-0.6zM960.6 403.4l4.15 7.4h-8.3zM960.4 408.1v0.6h0.6v-0.6zM961.5 402.8l4.15 7.4h-8.3zM961.2 407.5v0.6h0.6v-0.6zM962.6 402.8l4.15 7.4h-8.3zM962.3 407.4v0.6h0.6v-0.6zM962.8 404.0l4.15 7.4h-8.3zM962.5 408.6v0.6h0.6v-0.6zM964.1 403.5l4.15 7.4h-8.3zM963.8 408.2v0.6h0.6v-0.6zM964.8 403.4l4.15 7.4h-8.3zM964.5 408.1v0.6h0.6v-0.6zM965.5 403.6l4.15 7.4h-8.3zM965.2 408.2v0.6h0.6v-0.6zM966.2 405.0l4.15 7.4h-8.3zM966.0 409.6v0.6h0.6v-0.6zM967.0 404.7l4.15 7.4h-8.3zM966.7 409.3v0.6h0.6v-0.6zM968.1 405.0l4.15 7.4h-8.3zM967.8 409.6v0.6h0.6v-0.6zM969.0 405.0l4.15 7.4h-8.3zM968.7 409.7v0.6h0.6v-0.6zM969.8 405.2l4.15 7.4h-8.3zM969.6 409.9v0.6h0.6v-0.6zM970.8 404.7l4.15 7.4h-8.3zM970.5 409.4v0.6h0.6v-0.6zM971.6 406.1l4.15 7.4h-8.3zM971.4 410.8v0.6h0.6v-0.6zM972.7 406.6l4.15 7.4h-8.3zM972.4 411.3v0.6h0.6v-0.6zM973.3 406.8l4.15 7.4h-8.3zM973.0 411.4v0.6h0.6v-0.6zM973.9 407.4l4.15 7.4h-8.3zM973.6 412.0v0.6h0.6v-0.6zM974.5 407.5l4.15 7.4h-8.3zM974.3 412.2v0.6h0.6v-0.6zM975.9 407.0l4.15 7.4h-8.3zM975.6 411.7v0.6h0.6v-0.6zM976.4 407.8l4.15 7.4h-8.3zM976.1 412.5v0.6h0.6v-0.6zM977.7 407.6l4.15 7.4h-8.3zM977.4 412.3v0.6h0.6v-0.6zM978.2 409.1l4.15 7.4h-8.3zM978.0 413.8v0.6h0.6v-0.6zM979.5 408.3l4.15 7.4h-8.3zM979.3 412.9v0.6h0.6v-0.6zM980.3 409.1l4.15 7.4h-8.3zM980.0 413.8v0.6h0.6v-0.6zM981.1 408.4l4.15 7.4h-8.3zM980.8 413.1v0.6h0.6v-0.6zM982.0 409.6l4.15 7.4h-8.3zM981.7 414.2v0.6h0.6v-0.6zM983.4 408.8l4.15 7.4h-8.3zM983.1 413.4v0.6h0.6v-0.6zM983.5 408.7l4.15 7.4h-8.3zM983.2 413.4v0.6h0.6v-0.6zM984.7 410.4l4.15 7.4h-8.3zM984.4 415.0v0.6h0.6v-0.6zM986.1 411.1l4.15 7.4h-8.3zM985.8 415.7v0.6h0.6v-0.6zM987.2 411.7l4.15 7.4h-8.3zM986.9 416.4v0.6h0.6v-0.6zM988.4 411.6l4.15 7.4h-8.3zM988.2 416.3v0.6h0.6v-0.6zM993.4 412.7l4.15 7.4h-8.3zM993.1 417.4v0.6h0.6v-0.6zM1006.8 412.9l4.15 7.4h-8.3zM1006.5 417.6v0.6h0.6v-0.6zM1010.3 413.6l4.15 7.4h-8.3zM1010.0 418.3v0.6h0.6v-0.6zM1015.3 415.7l4.15 7.4h-8.3zM1015.0 420.4v0.6h0.6v-0.6zM1019.5 416.6l4.15 7.4h-8.3zM1019.2 421.3v0.6h0.6v-0.6zM1022.2 418.2l4.15 7.4h-8.3zM1022.0 422.9v0.6h0.6v-0.6zM1023.2 418.2l4.15 7.4h-8.3zM1022.9 422.9v0.6h0.6v-0.6zM1023.9 419.0l4.15 7.4h-8.3zM1023.7 423.6v0.6h0.6v-0.6zM1025.2 418.6l4.15 7.4h-8.3zM1024.9 423.2v0.6h0.6v-0.6zM1026.3 419.0l4.15 7.4h-8.3zM1026.0 423.7v0.6h0.6v-0.6zM1026.6 420.7l4.15 7.4h-8.3zM1026.3 425.4v0.6h0.6v-0.6zM1027.7 419.2l4.15 7.4h-8.3zM1027.4 423.9v0.6h0.6v-0.6zM1028.4 420.3l4.15 7.4h-8.3zM1028.1 425.0v0.6h0.6v-0.6zM1029.5 420.0l4.15 7.4h-8.3zM1029.2 424.7v0.6h0.6v-0.6zM1029.7 420.6l4.15 7.4h-8.3zM1029.4 425.2v0.6h0.6v-0.6zM1030.3 420.4l4.15 7.4h-8.3zM1030.0 425.1v0.6h0.6v-0.6zM1031.1 420.1l4.15 7.4h-8.3zM1030.9 424.7v0.6h0.6v-0.6zM1032.2 420.4l4.15 7.4h-8.3zM1031.9 425.1v0.6h0.6v-0.6zM1033.2 420.3l4.15 7.4h-8.3zM1032.9 425.0v0.6h0.6v-0.6zM1033.4 422.6l4.15 7.4h-8.3zM1033.1 427.2v0.6h0.6v-0.6zM1034.3 422.3l4.15 7.4h-8.3zM1034.0 427.0v0.6h0.6v-0.6zM1035.4 421.3l4.15 7.4h-8.3zM1035.1 426.0v0.6h0.6v-0.6zM1036.1 421.8l4.15 7.4h-8.3zM1035.9 426.4v0.6h0.6v-0.6zM1036.1 423.9l4.15 7.4h-8.3zM1035.8 428.5v0.6h0.6v-0.6zM1037.6 422.9l4.15 7.4h-8.3zM1037.3 427.5v0.6h0.6v-0.6zM1038.4 423.1l4.15 7.4h-8.3zM1038.1 427.7v0.6h0.6v-0.6zM1039.1 423.0l4.15 7.4h-8.3zM1038.8 427.6v0.6h0.6v-0.6zM1040.0 423.6l4.15 7.4h-8.3zM1039.7 428.2v0.6h0.6v-0.6zM1041.0 423.3l4.15 7.4h-8.3zM1040.7 428.0v0.6h0.6v-0.6zM1042.3 423.0l4.15 7.4h-8.3zM1042.0 427.7v0.6h0.6v-0.6zM1042.7 424.6l4.15 7.4h-8.3zM1042.4 429.2v0.6h0.6v-0.6zM1043.1 424.9l4.15 7.4h-8.3zM1042.8 429.6v0.6h0.6v-0.6zM1043.2 425.9l4.15 7.4h-8.3zM1043.0 430.5v0.6h0.6v-0.6zM1044.3 426.0l4.15 7.4h-8.3zM1044.0 430.7v0.6h0.6v-0.6zM1045.3 425.6l4.15 7.4h-8.3zM1045.0 430.3v0.6h0.6v-0.6zM1044.7 427.5l4.15 7.4h-8.3zM1044.4 432.2v0.6h0.6v-0.6zM1045.6 428.0l4.15 7.4h-8.3zM1045.3 432.7v0.6h0.6v-0.6zM1046.2 428.2l4.15 7.4h-8.3zM1046.0 432.9v0.6h0.6v-0.6zM1046.2 429.7l4.15 7.4h-8.3zM1045.9 434.3v0.6h0.6v-0.6zM1046.9 429.9l4.15 7.4h-8.3zM1046.6 434.6v0.6h0.6v-0.6zM1048.6 429.7l4.15 7.4h-8.3zM1048.3 434.4v0.6h0.6v-0.6zM1049.0 430.8l4.15 7.4h-8.3zM1048.7 435.5v0.6h0.6v-0.6zM1049.5 431.3l4.15 7.4h-8.3zM1049.3 436.0v0.6h0.6v-0.6zM1050.3 431.7l4.15 7.4h-8.3zM1050.0 436.4v0.6h0.6v-0.6zM1048.6 433.2l4.15 7.4h-8.3zM1048.3 437.8v0.6h0.6v-0.6zM1048.9 433.8l4.15 7.4h-8.3zM1048.7 438.4v0.6h0.6v-0.6zM1051.4 433.9l4.15 7.4h-8.3zM1051.2 438.6v0.6h0.6v-0.6zM1049.2 435.4l4.15 7.4h-8.3zM1048.9 440.1v0.6h0.6v-0.6zM1049.0 436.6l4.15 7.4h-8.3zM1048.7 441.2v0.6h0.6v-0.6zM1050.9 437.1l4.15 7.4h-8.3zM1050.6 441.8v0.6h0.6v-0.6zM1051.2 437.7l4.15 7.4h-8.3zM1050.9 442.4v0.6h0.6v-0.6zM1052.5 438.2l4.15 7.4h-8.3zM1052.3 442.8v0.6h0.6v-0.6zM1051.3 439.5l4.15 7.4h-8.3zM1051.0 444.1v0.6h0.6v-0.6zM1050.7 440.2l4.15 7.4h-8.3zM1050.4 444.8v0.6h0.6v-0.6zM1053.2 440.3l4.15 7.4h-8.3zM1053.0 445.0v0.6h0.6v-0.6zM1052.6 441.0l4.15 7.4h-8.3zM1052.4 445.7v0.6h0.6v-0.6zM1053.0 441.7l4.15 7.4h-8.3zM1052.7 446.4v0.6h0.6v-0.6zM1052.5 442.6l4.15 7.4h-8.3zM1052.2 447.3v0.6h0.6v-0.6zM1051.5 443.6l4.15 7.4h-8.3zM1051.2 448.3v0.6h0.6v-0.6zM1052.0 444.3l4.15 7.4h-8.3zM1051.7 448.9v0.6h0.6v-0.6zM1052.0 444.9l4.15 7.4h-8.3zM1051.8 449.6v0.6h0.6v-0.6zM1052.9 446.0l4.15 7.4h-8.3zM1052.6 450.6v0.6h0.6v-0.6zM1050.8 446.5l4.15 7.4h-8.3zM1050.6 451.1v0.6h0.6v-0.6zM1051.2 447.2l4.15 7.4h-8.3zM1050.9 451.9v0.6h0.6v-0.6zM1051.8 447.9l4.15 7.4h-8.3zM1051.5 452.6v0.6h0.6v-0.6zM1052.7 448.9l4.15 7.4h-8.3zM1052.4 453.6v0.6h0.6v-0.6zM1053.1 450.0l4.15 7.4h-8.3zM1052.8 454.6v0.6h0.6v-0.6zM1051.3 450.9l4.15 7.4h-8.3zM1051.0 455.6v0.6h0.6v-0.6zM1051.4 451.8l4.15 7.4h-8.3zM1051.2 456.5v0.6h0.6v-0.6zM1051.2 452.3l4.15 7.4h-8.3zM1050.9 457.0v0.6h0.6v-0.6zM1050.1 452.9l4.15 7.4h-8.3zM1049.8 457.6v0.6h0.6v-0.6zM1050.6 453.7l4.15 7.4h-8.3zM1050.3 458.4v0.6h0.6v-0.6zM1054.3 454.6l4.15 7.4h-8.3zM1054.0 459.3v0.6h0.6v-0.6zM1051.6 455.1l4.15 7.4h-8.3zM1051.3 459.8v0.6h0.6v-0.6zM1051.7 455.7l4.15 7.4h-8.3zM1051.5 460.3v0.6h0.6v-0.6zM1050.3 456.7l4.15 7.4h-8.3zM1050.0 461.3v0.6h0.6v-0.6zM1051.9 457.7l4.15 7.4h-8.3zM1051.6 462.4v0.6h0.6v-0.6zM1050.9 458.1l4.15 7.4h-8.3zM1050.6 462.8v0.6h0.6v-0.6zM1050.2 458.7l4.15 7.4h-8.3zM1049.9 463.3v0.6h0.6v-0.6zM1052.5 459.4l4.15 7.4h-8.3zM1052.3 464.1v0.6h0.6v-0.6zM1049.7 460.1l4.15 7.4h-8.3zM1049.5 464.7v0.6h0.6v-0.6zM1050.5 460.8l4.15 7.4h-8.3zM1050.2 465.5v0.6h0.6v-0.6zM1052.3 457.0l4.15 7.4h-8.3zM1052.1 461.6v0.6h0.6v-0.6zM1047.2 448.0l4.15 7.4h-8.3zM1047.0 452.7v0.6h0.6v-0.6zM1050.7 452.4l4.15 7.4h-8.3zM1050.5 457.0v0.6h0.6v-0.6zM1050.5 446.8l4.15 7.4h-8.3zM1050.3 451.4v0.6h0.6v-0.6zM1055.9 445.4l4.15 7.4h-8.3zM1055.6 450.0v0.6h0.6v-0.6zM1040.9 451.8l4.15 7.4h-8.3zM1040.6 456.5v0.6h0.6v-0.6zM1040.4 446.7l4.15 7.4h-8.3zM1040.1 451.4v0.6h0.6v-0.6zM1051.1 461.5l4.15 7.4h-8.3zM1050.8 466.2v0.6h0.6v-0.6zM1043.4 449.6l4.15 7.4h-8.3zM1043.1 454.3v0.6h0.6v-0.6zM1050.8 448.9l4.15 7.4h-8.3zM1050.5 453.6v0.6h0.6v-0.6zM1044.8 456.5l4.15 7.4h-8.3zM1044.5 461.2v0.6h0.6v-0.6zM1045.5 447.8l4.15 7.4h-8.3zM1045.2 452.5v0.6h0.6v-0.6zM1037.6 454.2l4.15 7.4h-8.3zM1037.3 458.8v0.6h0.6v-0.6zM1057.8 460.3l4.15 7.4h-8.3zM1057.5 465.0v0.6h0.6v-0.6zM1038.2 453.5l4.15 7.4h-8.3zM1037.9 458.1v0.6h0.6v-0.6zM1046.7 448.5l4.15 7.4h-8.3zM1046.5 453.1v0.6h0.6v-0.6zM1050.7 453.4l4.15 7.4h-8.3zM1050.5 458.0v0.6h0.6v-0.6zM1053.8 450.1l4.15 7.4h-8.3zM1053.5 454.7v0.6h0.6v-0.6zM1056.5 458.6l4.15 7.4h-8.3zM1056.3 463.2v0.6h0.6v-0.6zM1046.4 447.6l4.15 7.4h-8.3zM1046.1 452.3v0.6h0.6v-0.6zM1046.6 447.4l4.15 7.4h-8.3zM1046.4 452.0v0.6h0.6v-0.6zM1051.1 456.7l4.15 7.4h-8.3zM1050.8 461.3v0.6h0.6v-0.6zM1048.7 461.2l4.15 7.4h-8.3zM1048.4 465.9v0.6h0.6v-0.6zM1037.0 457.0l4.15 7.4h-8.3zM1036.7 461.6v0.6h0.6v-0.6zM1053.6 447.1l4.15 7.4h-8.3zM1053.3 451.8v0.6h0.6v-0.6zM1043.1 446.2l4.15 7.4h-8.3zM1042.8 450.8v0.6h0.6v-0.6zM1048.8 457.1l4.15 7.4h-8.3zM1048.6 461.7v0.6h0.6v-0.6zM1043.7 456.6l4.15 7.4h-8.3zM1043.4 461.3v0.6h0.6v-0.6zM1044.1 456.9l4.15 7.4h-8.3zM1043.8 461.6v0.6h0.6v-0.6zM1042.1 461.2l4.15 7.4h-8.3zM1041.8 465.9v0.6h0.6v-0.6zM1045.6 445.4l4.15 7.4h-8.3zM1045.4 450.0v0.6h0.6v-0.6zM1038.0 457.1l4.15 7.4h-8.3zM1037.7 461.8v0.6h0.6v-0.6zM1055.0 455.7l4.15 7.4h-8.3zM1054.7 460.3v0.6h0.6v-0.6zM1039.4 459.5l4.15 7.4h-8.3zM1039.1 464.2v0.6h0.6v-0.6zM1051.8 447.2l4.15 7.4h-8.3zM1051.5 451.8v0.6h0.6v-0.6zM1044.4 456.2l4.15 7.4h-8.3zM1044.1 460.9v0.6h0.6v-0.6zM1036.1 446.0l4.15 7.4h-8.3zM1035.8 450.6v0.6h0.6v-0.6zM1043.8 459.6l4.15 7.4h-8.3zM1043.5 464.2v0.6h0.6v-0.6zM1057.9 450.5l4.15 7.4h-8.3zM1057.6 455.1v0.6h0.6v-0.6zM1056.0 458.1l4.15 7.4h-8.3zM1055.7 462.8v0.6h0.6v-0.6zM1055.0 454.9l4.15 7.4h-8.3zM1054.8 459.5v0.6h0.6v-0.6zM1057.3 455.8l4.15 7.4h-8.3zM1057.1 460.5v0.6h0.6v-0.6zM1056.9 454.5l4.15 7.4h-8.3zM1056.6 459.2v0.6h0.6v-0.6zM1040.3 453.8l4.15 7.4h-8.3zM1040.0 458.4v0.6h0.6v-0.6zM1046.6 450.8l4.15 7.4h-8.3zM1046.4 455.5v0.6h0.6v-0.6zM1044.2 453.6l4.15 7.4h-8.3zM1043.9 458.3v0.6h0.6v-0.6zM1048.9 448.9l4.15 7.4h-8.3zM1048.7 453.6v0.6h0.6v-0.6zM1042.1 453.5l4.15 7.4h-8.3zM1041.8 458.2v0.6h0.6v-0.6zM1047.1 452.1l4.15 7.4h-8.3zM1046.8 456.8v0.6h0.6v-0.6zM1050.6 448.3l4.15 7.4h-8.3zM1050.3 453.0v0.6h0.6v-0.6zM1047.7 449.8l4.15 7.4h-8.3zM1047.4 454.5v0.6h0.6v-0.6zM1052.9 456.8l4.15 7.4h-8.3zM1052.7 461.4v0.6h0.6v-0.6zM1053.2 453.7l4.15 7.4h-8.3zM1052.9 458.4v0.6h0.6v-0.6zM1041.5 460.4l4.15 7.4h-8.3zM1041.2 465.0v0.6h0.6v-0.6zM1047.2 451.4l4.15 7.4h-8.3zM1047.0 456.1v0.6h0.6v-0.6zM1042.4 451.9l4.15 7.4h-8.3zM1042.1 456.5v0.6h0.6v-0.6zM1051.6 458.6l4.15 7.4h-8.3zM1051.3 463.3v0.6h0.6v-0.6zM1046.6 457.2l4.15 7.4h-8.3zM1046.3 461.9v0.6h0.6v-0.6zM1040.7 452.7l4.15 7.4h-8.3zM1040.4 457.3v0.6h0.6v-0.6zM1043.9 450.3l4.15 7.4h-8.3zM1043.6 455.0v0.6h0.6v-0.6zM1043.9 457.6l4.15 7.4h-8.3zM1043.6 462.3v0.6h0.6v-0.6zM1052.1 448.7l4.15 7.4h-8.3zM1051.9 453.3v0.6h0.6v-0.6zM1041.1 458.1l4.15 7.4h-8.3zM1040.9 462.7v0.6h0.6v-0.6zM1050.4 456.3l4.15 7.4h-8.3zM1050.1 461.0v0.6h0.6v-0.6zM1050.0 456.6l4.15 7.4h-8.3zM1049.7 461.3v0.6h0.6v-0.6zM1042.0 446.3l4.15 7.4h-8.3zM1041.7 451.0v0.6h0.6v-0.6zM1043.9 445.8l4.15 7.4h-8.3zM1043.7 450.5v0.6h0.6v-0.6zM1057.2 453.9l4.15 7.4h-8.3zM1056.9 458.5v0.6h0.6v-0.6zM1050.7 461.1l4.15 7.4h-8.3zM1050.5 465.7v0.6h0.6v-0.6zM1053.7 449.0l4.15 7.4h-8.3zM1053.4 453.7v0.6h0.6v-0.6zM1043.4 447.1l4.15 7.4h-8.3zM1043.1 451.7v0.6h0.6v-0.6zM1053.5 457.3l4.15 7.4h-8.3zM1053.2 462.0v0.6h0.6v-0.6zM1046.7 451.3l4.15 7.4h-8.3zM1046.5 456.0v0.6h0.6v-0.6zM1041.9 453.2l4.15 7.4h-8.3zM1041.7 457.9v0.6h0.6v-0.6zM1051.7 459.9l4.15 7.4h-8.3zM1051.4 464.6v0.6h0.6v-0.6zM1054.7 459.4l4.15 7.4h-8.3zM1054.4 464.1v0.6h0.6v-0.6zM1045.7 452.2l4.15 7.4h-8.3zM1045.4 456.8v0.6h0.6v-0.6zM1042.9 461.2l4.15 7.4h-8.3zM1042.6 465.8v0.6h0.6v-0.6zM1040.0 447.9l4.15 7.4h-8.3zM1039.8 452.5v0.6h0.6v-0.6zM1042.2 460.3l4.15 7.4h-8.3zM1041.9 465.0v0.6h0.6v-0.6zM1054.8 450.7l4.15 7.4h-8.3zM1054.5 455.4v0.6h0.6v-0.6zM1054.7 459.8l4.15 7.4h-8.3zM1054.5 464.5v0.6h0.6v-0.6zM1045.4 448.4l4.15 7.4h-8.3zM1045.1 453.1v0.6h0.6v-0.6zM1053.0 451.4l4.15 7.4h-8.3zM1052.7 456.1v0.6h0.6v-0.6zM1038.6 460.0l4.15 7.4h-8.3zM1038.4 464.7v0.6h0.6v-0.6zM1045.7 451.8l4.15 7.4h-8.3zM1045.4 456.4v0.6h0.6v-0.6zM1049.1 449.5l4.15 7.4h-8.3zM1048.8 454.1v0.6h0.6v-0.6zM1036.4 451.7l4.15 7.4h-8.3zM1036.2 456.3v0.6h0.6v-0.6zM1044.3 445.5l4.15 7.4h-8.3zM1044.1 450.1v0.6h0.6v-0.6zM1044.2 457.7l4.15 7.4h-8.3zM1043.9 462.4v0.6h0.6v-0.6zM1043.3 456.4l4.15 7.4h-8.3zM1043.0 461.0v0.6h0.6v-0.6zM1049.7 448.4l4.15 7.4h-8.3zM1049.5 453.0v0.6h0.6v-0.6zM1036.4 456.3l4.15 7.4h-8.3zM1036.2 461.0v0.6h0.6v-0.6zM1049.4 450.1l4.15 7.4h-8.3zM1049.2 454.7v0.6h0.6v-0.6zM1040.4 459.2l4.15 7.4h-8.3zM1040.1 463.9v0.6h0.6v-0.6zM1056.0 449.1l4.15 7.4h-8.3zM1055.7 453.8v0.6h0.6v-0.6zM1048.9 454.7l4.15 7.4h-8.3zM1048.6 459.3v0.6h0.6v-0.6zM1043.1 445.9l4.15 7.4h-8.3zM1042.8 450.6v0.6h0.6v-0.6zM1043.2 455.8l4.15 7.4h-8.3zM1042.9 460.5v0.6h0.6v-0.6zM1049.2 453.6l4.15 7.4h-8.3zM1049.0 458.3v0.6h0.6v-0.6zM1038.7 448.8l4.15 7.4h-8.3zM1038.4 453.4v0.6h0.6v-0.6zM1042.8 452.1l4.15 7.4h-8.3zM1042.6 456.7v0.6h0.6v-0.6zM1044.0 460.0l4.15 7.4h-8.3zM1043.7 464.7v0.6h0.6v-0.6zM1038.6 461.4l4.15 7.4h-8.3zM1038.3 466.0v0.6h0.6v-0.6zM1041.3 459.3l4.15 7.4h-8.3zM1041.0 463.9v0.6h0.6v-0.6zM1041.4 454.9l4.15 7.4h-8.3zM1041.1 459.5v0.6h0.6v-0.6zM1044.3 445.9l4.15 7.4h-8.3zM1044.0 450.6v0.6h0.6v-0.6zM1053.5 458.5l4.15 7.4h-8.3zM1053.2 463.2v0.6h0.6v-0.6zM1041.9 458.0l4.15 7.4h-8.3zM1041.6 462.6v0.6h0.6v-0.6zM1046.5 461.4l4.15 7.4h-8.3zM1046.3 466.0v0.6h0.6v-0.6zM1037.2 451.5l4.15 7.4h-8.3zM1036.9 456.2v0.6h0.6v-0.6zM1041.0 455.5l4.15 7.4h-8.3zM1040.7 460.1v0.6h0.6v-0.6zM1053.1 459.0l4.15 7.4h-8.3zM1052.8 463.7v0.6h0.6v-0.6zM1048.1 451.6l4.15 7.4h-8.3zM1047.8 456.3v0.6h0.6v-0.6zM1053.6 447.0l4.15 7.4h-8.3zM1053.3 451.7v0.6h0.6v-0.6zM1041.7 457.6l4.15 7.4h-8.3zM1041.4 462.2v0.6h0.6v-0.6zM1045.7 461.5l4.15 7.4h-8.3zM1045.4 466.1v0.6h0.6v-0.6zM1038.0 452.8l4.15 7.4h-8.3zM1037.7 457.5v0.6h0.6v-0.6zM1040.7 445.3l4.15 7.4h-8.3zM1040.4 450.0v0.6h0.6v-0.6zM1038.1 446.8l4.15 7.4h-8.3zM1037.8 451.4v0.6h0.6v-0.6zM1044.1 452.4l4.15 7.4h-8.3zM1043.8 457.0v0.6h0.6v-0.6zM1047.2 450.0l4.15 7.4h-8.3zM1046.9 454.7v0.6h0.6v-0.6zM1051.4 453.7l4.15 7.4h-8.3zM1051.2 458.4v0.6h0.6v-0.6zM1057.6 448.1l4.15 7.4h-8.3zM1057.3 452.7v0.6h0.6v-0.6zM1047.2 453.3l4.15 7.4h-8.3zM1047.0 458.0v0.6h0.6v-0.6zM1044.2 459.3l4.15 7.4h-8.3zM1043.9 464.0v0.6h0.6v-0.6zM1040.6 459.6l4.15 7.4h-8.3zM1040.3 464.3v0.6h0.6v-0.6zM1043.9 450.8l4.15 7.4h-8.3zM1043.6 455.4v0.6h0.6v-0.6zM1049.5 454.5l4.15 7.4h-8.3zM1049.3 459.1v0.6h0.6v-0.6zM1042.2 446.7l4.15 7.4h-8.3zM1042.0 451.3v0.6h0.6v-0.6zM1035.5 445.8l4.15 7.4h-8.3zM1035.2 450.5v0.6h0.6v-0.6zM1037.0 442.8l4.15 7.4h-8.3zM1036.7 447.5v0.6h0.6v-0.6zM1034.5 448.3l4.15 7.4h-8.3zM1034.2 453.0v0.6h0.6v-0.6zM1037.0 461.7l4.15 7.4h-8.3zM1036.7 466.4v0.6h0.6v-0.6zM1038.7 461.7l4.15 7.4h-8.3zM1038.4 466.4v0.6h0.6v-0.6zM1040.4 461.7l4.15 7.4h-8.3zM1040.1 466.4v0.6h0.6v-0.6zM1042.1 461.7l4.15 7.4h-8.3zM1041.8 466.4v0.6h0.6v-0.6zM1043.8 461.7l4.15 7.4h-8.3zM1043.5 466.4v0.6h0.6v-0.6zM1045.5 461.7l4.15 7.4h-8.3zM1045.2 466.4v0.6h0.6v-0.6zM1047.2 461.7l4.15 7.4h-8.3zM1046.9 466.4v0.6h0.6v-0.6zM1048.9 461.7l4.15 7.4h-8.3zM1048.6 466.4v0.6h0.6v-0.6zM1050.6 461.7l4.15 7.4h-8.3zM1050.3 466.4v0.6h0.6v-0.6zM1052.3 461.7l4.15 7.4h-8.3zM1052.0 466.4v0.6h0.6v-0.6zM1054.0 461.7l4.15 7.4h-8.3zM1053.7 466.4v0.6h0.6v-0.6zM1055.7 461.7l4.15 7.4h-8.3zM1055.4 466.4v0.6h0.6v-0.6zM1057.4 461.7l4.15 7.4h-8.3zM1057.1 466.4v0.6h0.6v-0.6z"/>
<text x="852" y="43" font-size="31.25" fill="#000" xml:space="preserve" style="white-space:pre">Serial #: 0050  CAL: 27-Feb-19</text>
<rect x="1062.5" y="661.5" width="202" height="163" fill="#fff" stroke="#262626" stroke-width="1" shape-rendering="crispEdges"/>
<path class="m" fill="#ff0000" d="M1102.0 689.4l4.15 -7.4h-8.3zM1101.7 684.2h0.6v0.6h-0.6z"/>
<text x="1140.3" y="694.8" font-size="31.25" fill="#000">T dive</text>
<path class="m" fill="#ff00ff" d="M1102.0 718.8l4.15 7.4h-8.3zM1101.7 723.5v0.6h0.6v-0.6z"/>
<text x="1140.3" y="733.8" font-size="31.25" fill="#000">T climb</text>
<path class="m" fill="#0000ff" d="M1102.0 767.5l4.15 -7.4h-8.3zM1101.7 762.3h0.6v0.6h-0.6z"/>
<text x="1140.3" y="772.8" font-size="31.25" fill="#000">S dive</text>
<path class="m" fill="#00ffff" d="M1102.0 796.5l4.15 7.4h-8.3zM1101.7 801.2v0.6h0.6v-0.6z"/>
<text x="1140.3" y="811.8" font-size="31.25" fill="#000">S climb</text>
</svg></body></html>
